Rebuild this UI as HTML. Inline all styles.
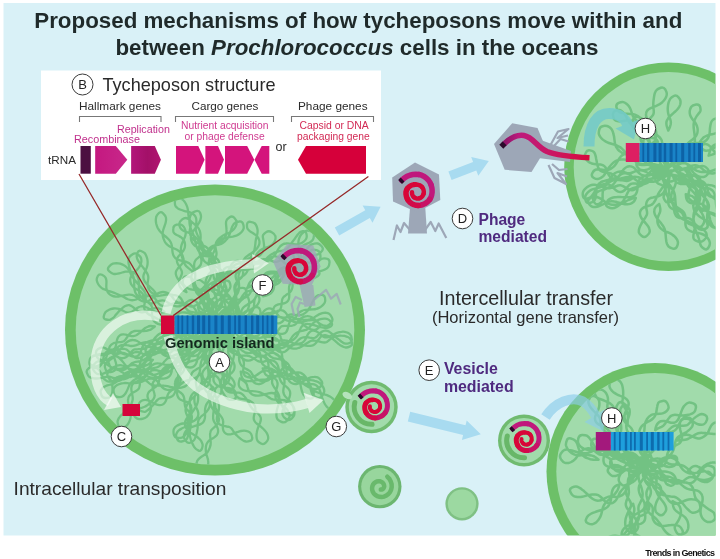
<!DOCTYPE html><html><head><meta charset="utf-8"><title>Tycheposons</title><style>html,body{margin:0;padding:0;background:#fff}svg{display:block;filter:blur(0.5px)}text{font-family:"Liberation Sans",Arial,sans-serif}</style></head><body><svg width="720" height="559" viewBox="0 0 720 559"><defs><clipPath id="panel"><rect x="3.5" y="3" width="712" height="532.5"/></clipPath><clipPath id="c1"><ellipse cx="215" cy="330" rx="139.3" ry="134.8"/></clipPath><clipPath id="c2"><circle cx="668.5" cy="166.7" r="94.8"/></clipPath><clipPath id="c3"><circle cx="655" cy="471.6" r="98.7"/></clipPath><linearGradient id="g1" x1="0" x2="1" y1="0" y2="0"><stop offset="0" stop-color="#c41880"/><stop offset="1" stop-color="#c8288a"/></linearGradient><linearGradient id="g2" x1="0" x2="1" y1="0" y2="0"><stop offset="0" stop-color="#b2167a"/><stop offset="0.55" stop-color="#a31068"/><stop offset="1" stop-color="#b01570"/></linearGradient><linearGradient id="gd" x1="0" x2="1" y1="0" y2="0"><stop offset="0" stop-color="#8a1468"/><stop offset="0.18" stop-color="#bd1a7c"/><stop offset="0.6" stop-color="#cc1560"/><stop offset="1" stop-color="#d60a3c"/></linearGradient></defs><rect width="720" height="559" fill="#fff"/><rect x="3.5" y="3" width="712" height="532.5" fill="#d9f1f7"/><g clip-path="url(#panel)"><ellipse cx="668.5" cy="166.7" rx="104.3" ry="104.3" fill="#6dc068"/><ellipse cx="668.5" cy="166.7" rx="94.8" ry="94.8" fill="#a1dbab"/><g clip-path="url(#c2)"><path d="M666.6 171Q664.6 173.6 664.1 174.9Q663.6 176.2 663.7 177.6Q663.8 178.9 664.4 180.2Q665 181.5 665.8 182.8Q666.6 184.1 667.3 185.3Q668.1 186.6 668.5 187.9Q668.9 189.2 669 190.5Q669.1 191.7 669 193.1Q668.9 194.4 668.7 195.7Q668.5 197 668.3 198.4Q668.1 199.8 668.1 201.2Q668.1 202.6 668.4 204Q668.7 205.4 669.5 206.5Q670.4 207.7 671.6 208.5Q672.9 209.3 674.5 209.8Q676 210.2 677.5 210.5Q678.9 210.8 680 211.4Q681.1 211.9 681.9 212.8Q682.7 213.8 683.3 215.2Q684 216.5 684.6 218Q685.2 219.5 686 220.8Q686.7 222 687.7 222.8Q688.6 223.7 689.8 224.2Q690.9 224.7 692.2 225.1Q693.5 225.6 695 226Q696.5 226.4 698.3 226.8Q700.1 227.3 701.6 228.2Q703.1 229 704.3 230.3Q705.5 231.5 706.2 232.9Q706.8 234.4 706.7 236Q706.7 237.7 704 240.2Q701.4 242.8 698.1 241.6Q694.9 240.4 694.2 239.5Q693.5 238.6 693.4 237.6Q693.3 236.5 693.4 235.3Q693.6 234.1 693.9 232.7Q694.2 231.2 694.5 229.5Q694.8 227.8 694.6 226.2Q694.5 224.6 693.9 223.2Q693.2 221.9 692.4 220.7Q691.5 219.6 690.3 218.9Q689.1 218.2 687.7 218Q686.2 217.9 684.6 218Q683 218.1 681.4 218.1Q679.8 218 678.4 217.5Q677.1 217 676.1 215.9Q675.2 214.7 674.7 213.2Q674.3 211.7 674.1 210.2Q673.9 208.7 673.7 207.3Q673.5 206 673.1 204.9Q672.6 203.7 672 202.7Q671.3 201.6 670.4 200.5Q669.6 199.5 668.8 198.3Q668 197.1 667.4 195.9Q666.7 194.6 666.3 193.4Q665.8 192.1 665.7 190.8Q665.5 189.4 665.7 188.1Q665.9 186.8 666.4 185.4Q667 184.1 667.7 182.7Q668.4 181.4 668.9 180.1Q669.4 178.8 669.4 177.5Q669.5 176.2 668.9 174.9Q668.4 173.6 667.5 172.3L666.6 171M666.5 169.9Q664.2 172.7 663.6 174.2Q662.9 175.6 663 177Q663 178.4 663.6 179.9Q664.1 181.3 664.6 182.8Q665.1 184.3 665.3 185.9Q665.5 187.4 665.1 189Q664.8 190.5 664 191.8Q663.1 193.2 661.9 194.2Q660.7 195.2 659.2 195.8Q657.7 196.5 656.1 196.8Q654.5 197.1 652.9 197.4Q651.3 197.6 649.9 198.3Q648.5 198.9 647.6 200.2Q646.6 201.5 646.3 203.4Q646 205.2 646.2 207.1Q646.4 209 646.8 210.6Q647.1 212.1 647.1 213.3Q647 214.5 646.4 215.7Q645.8 216.8 644.9 218.2Q644 219.5 643 221Q642 222.5 641.2 224.1Q640.3 225.7 639.7 227.2Q639.2 228.7 638.9 230.1Q638.7 231.5 639 232.8Q639.3 234.1 641.8 236.1Q644.3 238.1 646.8 235.9Q649.4 233.8 649.6 232.2Q649.9 230.6 649.4 229.1Q649 227.6 648.1 226.3Q647.2 224.9 646 223.6Q644.8 222.3 643.6 220.9Q642.3 219.5 641.4 218Q640.4 216.4 640.1 214.6Q639.7 212.9 640.3 211.3Q640.9 209.6 642.3 208.5Q643.7 207.4 645.4 206.8Q647.2 206.2 648.7 205.8Q650.3 205.5 651.4 204.8Q652.6 204.1 653.5 203Q654.4 201.8 655.2 200.4Q655.9 198.9 656.6 197.5Q657.3 196 657.9 194.7Q658.6 193.4 659.3 192.2Q660 191.1 660.8 190Q661.5 188.9 662.4 187.8Q663.3 186.7 664.4 185.5Q665.4 184.4 666.5 183Q667.6 181.7 668.4 180.2Q669.3 178.8 669.5 177.3Q669.7 175.8 669.2 174.3Q668.6 172.8 667.5 171.4L666.5 169.9M663.6 173.7Q659.8 174.3 658.2 175Q656.7 175.6 655.4 176.5Q654.2 177.5 653 178.5Q651.8 179.6 650.4 180.5Q649 181.3 647.3 181.9Q645.6 182.4 643.8 182.4Q642 182.4 640.2 182Q638.5 181.6 637 180.7Q635.5 179.8 634.2 178.6Q632.9 177.4 631.5 176.1Q630.1 174.7 628.3 173.9Q626.5 173 624.5 173.2Q622.5 173.3 620.8 174.5Q619.1 175.7 617.9 177.4Q616.8 179.2 615.9 180.9Q614.9 182.5 613.8 183.8Q612.7 185.1 611.3 186.1Q609.9 187 608.4 187.6Q606.8 188.3 605.3 189Q603.7 189.7 601.8 190.1Q599.9 190.6 598 191.6Q596.2 192.6 594.9 194.2Q593.5 195.7 593 197.7Q592.5 199.7 594.4 202.6Q596.3 205.4 599.1 203.8Q601.8 202.2 602.2 201Q602.6 199.7 602.6 198.3Q602.6 196.8 602.6 195Q602.6 193.1 602.9 191.2Q603.3 189.2 604.3 187.7Q605.2 186.2 606.3 184.8Q607.5 183.5 608.8 182.5Q610.1 181.4 611.8 180.8Q613.4 180.2 615.3 180.1Q617.2 180 619 180.1Q620.8 180.3 622.2 180.3Q623.7 180.4 625 179.9Q626.3 179.5 627.8 178.8Q629.3 178 631.2 177.4Q633.1 176.9 634.9 176.8Q636.8 176.8 638.3 177.2Q639.9 177.6 641.3 178.3Q642.7 179 644.2 179.7Q645.6 180.5 647.3 181Q649 181.5 650.9 181.7Q652.7 181.9 654.6 181.6Q656.5 181.4 658.1 180.6Q659.7 179.8 660.9 178.5Q662 177.2 662.8 175.5L663.6 173.7M663.7 171.9Q660.4 171.7 659.1 172.1Q657.7 172.5 656.7 173.3Q655.6 174.1 654.7 175.1Q653.8 176.2 652.9 177.4Q652.1 178.5 651.1 179.6Q650.1 180.7 649 181.6Q648 182.5 646.8 183.1Q645.6 183.7 644.2 184.1Q642.9 184.4 641.4 184.3Q639.9 184.3 638.4 184Q636.8 183.7 635.3 183.5Q633.8 183.3 632.5 183.5Q631.2 183.6 630.1 184.4Q629 185.1 628 186.4Q627 187.6 625.9 188.9Q624.7 190.3 623.3 191.1Q622 192 620.5 192Q619 192 617.6 191.3Q616.2 190.6 614.9 189.4Q613.7 188.3 612.6 187.2Q611.5 186.2 610.3 185.4Q609.1 184.7 607.7 184.4Q606.4 184 604.9 184.1Q603.5 184.2 602.1 184.7Q600.6 185.2 599.4 186.1Q598.1 187 597.2 188.1Q596.2 189.1 595.5 190.2Q594.7 191.3 594.2 192.3Q593.6 193.3 593.1 194.2Q592.5 195.1 591.8 196Q591.2 196.8 590.1 197.5Q589.1 198.3 586.4 198.7Q583.6 199.1 583 196.3Q582.5 193.6 583 192.1Q583.5 190.6 584.6 189.4Q585.6 188.2 586.9 187.2Q588.3 186.2 589.8 185.6Q591.4 185 593.1 184.8Q594.7 184.6 596.3 184.9Q597.9 185.1 599.3 185.7Q600.7 186.2 601.9 186.6Q603.2 187.1 604.4 187.5Q605.6 187.9 606.9 188.1Q608.2 188.3 609.6 188.2Q611 188 612.5 187.6Q614 187.1 615.4 186.5Q616.8 185.9 618 185.5Q619.3 185.2 620.5 185.3Q621.7 185.5 623 186.2Q624.3 186.9 625.8 187.9Q627.3 188.8 628.9 189.5Q630.5 190.2 632 190.2Q633.5 190.2 634.7 189.4Q635.9 188.7 636.9 187.5Q637.9 186.4 638.8 185.1Q639.7 183.8 640.7 182.7Q641.7 181.6 642.9 180.9Q644 180.2 645.3 179.8Q646.5 179.3 647.9 179.1Q649.3 178.9 650.7 178.8Q652.2 178.7 653.6 178.6Q655.1 178.6 656.6 178.3Q658 178.1 659.3 177.5Q660.5 176.9 661.4 175.9Q662.4 174.8 663 173.3L663.7 171.9M665.8 169.9Q662.4 170 661 170.3Q659.5 170.7 658.2 171.3Q657 171.9 655.7 172.6Q654.4 173.3 653.1 174Q651.7 174.6 650.2 175.1Q648.6 175.6 647 175.8Q645.3 175.9 643.7 175.6Q642.1 175.4 640.8 174.5Q639.4 173.7 638.3 172.4Q637.2 171.2 636 169.7Q634.8 168.3 633.3 167.3Q631.9 166.3 630.1 166.2Q628.3 166 626.6 167Q624.9 167.9 623.7 169.4Q622.4 171 621.5 172.5Q620.6 174 619.6 175.2Q618.6 176.4 617.4 177.2Q616.2 177.9 614.7 178.4Q613.2 178.9 611.6 179.3Q610 179.6 608.4 179.9Q606.9 180.2 605.3 180.6Q603.8 181 602.4 181.5Q601 182.1 599.8 183.1Q598.5 184.1 597.7 185.6Q596.9 187.1 596.6 189Q596.3 190.8 596.2 192.5Q596 194.2 595.9 195.7Q595.8 197.2 595.4 198.5Q595 199.9 594 201.1Q593.1 202.3 589.9 202.9Q586.7 203.6 585.7 200.7Q584.8 197.8 585.3 196.3Q585.7 194.9 586.8 193.6Q587.8 192.3 589.2 191.2Q590.7 190.1 592.4 189.4Q594.1 188.7 595.9 188.4Q597.7 188.1 599.2 187.6Q600.6 187.2 601.9 186.5Q603.2 185.8 604.4 184.9Q605.5 183.9 606.6 182.8Q607.7 181.6 608.7 180.4Q609.7 179.1 610.6 177.8Q611.6 176.6 612.6 175.4Q613.6 174.2 614.8 173.3Q616.1 172.3 617.7 171.9Q619.2 171.5 621 171.6Q622.7 171.8 624.3 172.2Q625.9 172.7 627.2 173.1Q628.4 173.4 629.7 173.2Q630.9 173.1 632.4 172.5Q633.9 171.9 635.6 171.2Q637.3 170.6 639 170.4Q640.8 170.2 642.2 170.4Q643.7 170.6 644.9 171.3Q646.2 171.9 647.5 172.7Q648.8 173.5 650.3 174.1Q651.7 174.8 653.4 175.1Q655 175.5 656.7 175.5Q658.3 175.5 659.8 175Q661.4 174.6 662.6 173.6Q663.9 172.7 664.9 171.3L665.8 169.9M662.5 169.4Q659.3 168.4 657.6 168.4Q656 168.5 654.4 169.1Q652.8 169.7 651.5 170.8Q650.1 171.9 649.1 173.2Q648 174.6 647.3 176.2Q646.6 177.7 646 179.2Q645.5 180.8 644.8 182.1Q644.1 183.5 642.9 184.5Q641.8 185.5 640.1 186.1Q638.3 186.8 636.4 187.2Q634.5 187.7 632.8 188.2Q631.2 188.7 630.1 189.5Q628.9 190.4 628.2 191.7Q627.4 193.1 626.7 194.7Q626 196.3 625.1 197.8Q624.2 199.4 623.2 200.9Q622.1 202.3 620.9 203.5Q619.7 204.7 618.3 205.7Q617 206.7 615.6 207.4Q614.2 208.1 612.5 208.3Q610.9 208.6 608.1 207.2Q605.2 205.9 606.5 203.1Q607.7 200.3 609 199.4Q610.2 198.5 611.7 198Q613.2 197.5 614.7 197.3Q616.3 197.1 617.9 197Q619.5 197 621.3 197.1Q623 197.1 624.9 197.2Q626.7 197.3 628.6 197.3Q630.6 197.2 632.3 196.6Q634.1 196.1 635.3 194.9Q636.4 193.6 636.9 191.9Q637.4 190.1 637.5 188.1Q637.5 186.2 637.7 184.3Q637.9 182.5 638.6 181Q639.3 179.5 640.5 178.4Q641.8 177.3 643.4 176.6Q644.9 175.9 646.6 175.3Q648.2 174.8 649.7 174.4Q651.2 174.1 652.7 173.7Q654.1 173.4 655.5 172.9Q656.9 172.5 658.2 171.9Q659.6 171.3 661.1 170.4L662.5 169.4M662.5 167.6Q659.9 165.9 658.5 165.3Q657 164.7 655.6 164.4Q654.1 164 652.6 163.9Q651 163.8 649.5 163.9Q647.9 163.9 646.3 164.1Q644.7 164.2 643 164.2Q641.4 164.2 639.8 163.7Q638.3 163.3 637 162.4Q635.8 161.4 634.8 160.1Q633.8 158.7 632.8 157.3Q631.7 155.9 630.2 154.9Q628.8 153.9 627 153.7Q625.2 153.6 623.5 154.5Q621.8 155.3 620.6 156.7Q619.4 158.1 618.5 159.6Q617.7 161.1 616.9 162.5Q616.2 163.8 615.2 164.9Q614.3 166.1 613.1 167.1Q612 168.1 610.6 168.8Q609.1 169.6 607.5 169.9Q605.8 170.2 604 169.9Q602.3 169.7 600.7 169.5Q599.2 169.3 597.7 169.3Q596.3 169.4 595 170Q593.6 170.6 592.3 173.3Q590.9 176.1 593.5 177.7Q596.2 179.3 597.7 179.1Q599.3 178.8 600.8 177.9Q602.2 177.1 603.5 175.8Q604.7 174.5 605.6 172.9Q606.5 171.3 607.4 169.9Q608.2 168.5 609.1 167.3Q610 166.1 611 165Q611.9 163.9 613.1 162.8Q614.2 161.8 615.6 161Q617 160.2 618.5 159.9Q620.1 159.5 621.5 159.5Q623 159.6 624.2 159.6Q625.4 159.7 626.6 159.5Q627.8 159.2 629.3 158.8Q630.9 158.3 632.6 157.9Q634.4 157.4 636.2 157.4Q637.9 157.3 639.3 157.8Q640.8 158.2 641.9 159.1Q643.1 160 644.2 161.1Q645.4 162.2 646.6 163.3Q647.8 164.3 649.2 165.2Q650.6 166 652 166.5Q653.4 167.1 654.9 167.4Q656.3 167.7 657.9 167.8Q659.4 167.9 661 167.8L662.5 167.6M666.4 169.6Q665.7 166.7 665.2 165.3Q664.7 164 664 162.8Q663.4 161.5 662.5 160.4Q661.7 159.3 660.6 158.3Q659.6 157.3 658.3 156.4Q657 155.4 655.7 154.6Q654.4 153.8 653.4 152.9Q652.3 152.1 651.7 151Q651 150 650.6 148.5Q650.2 147 649.8 145.3Q649.4 143.6 648.8 142.1Q648.3 140.5 647.5 139.5Q646.8 138.4 645.7 137.7Q644.7 137 643.5 136.3Q642.2 135.6 640.9 134.7Q639.5 133.8 638 132.7Q636.6 131.6 635.4 130.3Q634.2 129 633.4 127.7Q632.5 126.4 632 125.2Q631.6 124 631.6 122.6Q631.7 121.3 633.7 118.6Q635.8 115.9 639.1 117.1Q642.4 118.2 643.2 119.6Q644.1 121 644.2 122.5Q644.4 124.1 644.1 125.5Q643.8 127 643.2 128.5Q642.6 130 641.8 131.6Q641.1 133.2 640.7 134.9Q640.4 136.6 640.5 138.4Q640.7 140.2 641.4 141.7Q642.1 143.2 643.4 144Q644.7 144.9 646.3 145.2Q647.9 145.4 649.7 145.5Q651.5 145.6 653.2 146Q654.9 146.3 656.2 147.3Q657.5 148.3 658.1 149.8Q658.7 151.2 658.9 152.8Q659 154.4 659 156Q659 157.5 659.2 159.1Q659.4 160.6 659.9 161.9Q660.4 163.3 661.1 164.5Q661.9 165.8 663 166.8Q664 167.8 665.2 168.7L666.4 169.6M663.8 160.2Q664.2 157.2 664.2 155.8Q664.2 154.3 663.7 152.9Q663.3 151.6 662.4 150.4Q661.5 149.2 660.1 148.4Q658.7 147.5 657.1 147Q655.5 146.5 654 146.1Q652.6 145.7 651.5 144.9Q650.5 144.1 650 142.8Q649.4 141.5 649.2 139.7Q648.9 138 648.7 136.2Q648.4 134.4 647.9 133Q647.3 131.6 646.3 130.7Q645.2 129.9 643.8 129.4Q642.3 129 640.7 128.7Q639.1 128.4 637.6 128Q636.1 127.6 634.9 127Q633.6 126.4 632.6 125.6Q631.5 124.8 630.6 123.8Q629.7 122.9 628.8 121.7Q627.9 120.6 627.3 119Q626.6 117.4 625.7 115.9Q624.9 114.4 623.9 113.2Q622.9 112 621.8 111.2Q620.7 110.3 619.5 110Q618.2 109.7 615.3 110.9Q612.5 112.2 613 115.5Q613.4 118.8 614.6 119.7Q615.8 120.7 617.2 121.1Q618.5 121.4 620 121.4Q621.5 121.3 623.1 121Q624.8 120.7 626.5 120.4Q628.2 120.1 629.7 120.4Q631.2 120.7 632.5 121.2Q633.8 121.8 635 122.7Q636.1 123.5 636.9 124.7Q637.7 125.9 638.3 127.3Q638.8 128.8 639.2 130.3Q639.6 131.9 640.2 133.3Q640.8 134.7 641.7 135.7Q642.7 136.7 644.2 137.1Q645.7 137.6 647.5 137.6Q649.3 137.6 651.1 137.7Q652.9 137.7 654.3 138.3Q655.8 138.8 656.7 139.9Q657.7 141.1 658 142.7Q658.4 144.3 658.5 146Q658.5 147.6 658.6 149.1Q658.7 150.6 659 151.9Q659.3 153.1 659.9 154.3Q660.5 155.5 661.2 156.6Q662 157.8 662.9 159L663.8 160.2M666.3 165.3Q666.5 162 666.4 160.3Q666.3 158.6 665.9 157.1Q665.4 155.5 664.6 154.1Q663.7 152.7 662.5 151.5Q661.2 150.3 659.8 149.1Q658.4 147.9 657.3 146.5Q656.1 145.1 655.7 143.5Q655.2 142 655.3 140.4Q655.5 138.7 655.9 137Q656.3 135.3 656.3 133.5Q656.3 131.7 655.6 130.1Q654.9 128.5 653.6 127.3Q652.3 126.1 650.7 125.4Q649.1 124.7 647.4 124.3Q645.8 123.8 644.1 123.4Q642.5 123.1 640.9 122.6Q639.3 122.1 637.9 121.3Q636.4 120.5 635.2 119.3Q634 118.2 633.2 116.7Q632.5 115.1 631.9 113.3Q631.4 111.4 630.7 109.6Q630 107.8 628.9 106.3Q627.8 104.8 626.4 103.7Q625 102.6 623.4 102.1Q621.8 101.6 618.7 102.8Q615.7 104.1 616.5 107.4Q617.3 110.7 618.5 111.6Q619.7 112.5 621.1 112.9Q622.5 113.3 624.2 113.5Q625.8 113.6 627.6 113.7Q629.4 113.8 631.4 114Q633.3 114.1 634.9 114.7Q636.5 115.3 637.8 116.1Q639 117 640.1 118.1Q641.2 119.3 642.2 120.5Q643.3 121.8 644.4 123Q645.5 124.3 646.5 125.6Q647.5 126.8 648.5 128Q649.4 129.1 650.4 130.1Q651.4 131.1 652.7 132.1Q653.9 133 655.4 134Q656.9 135 658.4 136.3Q659.9 137.5 660.9 138.9Q661.9 140.4 662.1 141.9Q662.4 143.4 662.1 145.1Q661.8 146.8 661.3 148.6Q660.9 150.4 660.8 152.2Q660.7 153.9 661 155.5Q661.3 157.1 662.1 158.4Q662.8 159.8 663.7 161.1Q664.6 162.5 665.5 163.9L666.3 165.3M667.6 166.2Q669.9 164.5 671 163.7Q672.1 162.9 673 162Q673.9 161.1 674.4 160Q674.9 158.8 675.1 157.4Q675.3 155.9 675.5 154.2Q675.7 152.6 676.3 151Q676.8 149.5 677.9 148.5Q679 147.5 680.6 147.3Q682.1 147 683.8 147.4Q685.5 147.8 687.1 148.4Q688.8 149 690.2 149.2Q691.7 149.4 693 149.1Q694.2 148.7 695.3 147.8Q696.4 146.9 697.3 145.6Q698.2 144.4 699 143.2Q699.9 141.9 700.7 140.8Q701.4 139.7 702.3 138.8Q703.2 137.9 704.2 137.1Q705.2 136.4 706.4 135.8Q707.5 135.2 709 134.9Q710.5 134.5 712.1 134.2Q713.7 133.9 715.3 133.4Q716.8 132.9 718.1 132.2Q719.5 131.4 720.6 130.4Q721.7 129.4 722.5 128Q723.3 126.6 723.4 125Q723.6 123.3 721.7 120.4Q719.7 117.6 716.7 118.4Q713.7 119.1 712.9 119.9Q712.1 120.6 711.6 121.5Q711.1 122.4 710.8 123.6Q710.5 124.7 710.3 126Q710.1 127.3 709.9 128.8Q709.8 130.3 709.7 132Q709.6 133.6 709.2 135.1Q708.9 136.6 708.2 137.8Q707.5 139 706.5 140Q705.5 140.9 704.3 141.6Q703.2 142.3 701.8 142.6Q700.4 143 699 143Q697.6 143.1 696.1 143Q694.7 142.9 693.4 143Q692.1 143.1 690.9 143.6Q689.8 144.1 688.8 145.3Q687.8 146.4 687 147.9Q686.2 149.4 685.5 150.8Q684.9 152.3 684.1 153.3Q683.3 154.2 682.3 154.6Q681.2 155 679.7 155.1Q678.2 155.2 676.5 155.3Q674.8 155.4 673.2 155.8Q671.7 156.3 670.6 157.2Q669.5 158.1 668.9 159.3Q668.3 160.5 668 162Q667.8 163.4 667.7 164.8L667.6 166.2M673 163.4Q676.5 162.6 678.3 162.2Q680 161.9 681.5 161Q683 160.1 684 158.6Q685 157 685.4 155.1Q685.8 153.1 685.8 151Q685.9 149 686.2 147.3Q686.5 145.5 687.3 144.1Q688.2 142.8 689.5 141.8Q690.8 140.7 692.2 139.7Q693.7 138.7 694.9 137.5Q696.1 136.2 696.8 134.6Q697.5 133 697.6 131.2Q697.8 129.4 697.4 127.7Q697 126 696.2 124.4Q695.4 122.9 694.2 121.4Q693.1 120 691.9 118.4Q690.6 116.9 690.1 114.9Q689.5 112.9 689.8 110.7Q690.1 108.6 691.3 106.8Q692.6 105 696.1 104.5Q699.6 104 700.2 107Q700.8 109.9 700.4 111Q700 112 699.2 112.9Q698.4 113.8 697.5 115.1Q696.5 116.4 695.6 118Q694.7 119.7 694.2 121.5Q693.6 123.3 693.6 124.9Q693.6 126.5 693.7 128Q693.9 129.5 694.1 131Q694.3 132.5 694.5 134.1Q694.7 135.7 694.8 137.6Q694.9 139.4 694.9 141.3Q694.8 143.2 694.4 145Q694 146.7 693 148.1Q692 149.4 690.4 150.3Q688.8 151.2 686.9 151.8Q684.9 152.4 683.2 152.8Q681.4 153.3 680 154Q678.7 154.8 677.6 156Q676.6 157.2 675.7 158.7Q674.8 160.2 673.9 161.8L673 163.4M673.9 167.1Q677.3 168.2 679.1 168.5Q680.8 168.9 682.4 168.9Q684.1 168.8 685.6 168.3Q687.1 167.7 688.7 166.9Q690.2 166.1 692 165.6Q693.8 165.1 695.7 165.3Q697.5 165.5 699 166.4Q700.5 167.2 701.8 168.4Q703.1 169.5 704.4 170.6Q705.7 171.6 707.2 172.4Q708.7 173.1 710.5 173.3Q712.2 173.5 714 173.2Q715.7 172.9 717.3 172.2Q718.9 171.4 720.2 170.3Q721.6 169.2 722.7 167.7Q723.9 166.2 725.1 164.8Q726.3 163.3 727.5 162.1Q728.8 160.9 729.9 159.8Q731.1 158.8 732.1 158Q733.1 157.2 734.1 156.6Q735.2 156 738.1 155.9Q741.1 155.7 741.5 159.3Q741.9 162.8 740.6 164.6Q739.3 166.3 737.6 167.4Q735.9 168.4 734.1 168.8Q732.3 169.3 730.5 169.3Q728.7 169.3 726.9 169.2Q725.1 169 723.2 168.8Q721.3 168.5 719.6 168.7Q717.9 168.9 716.4 169.3Q714.9 169.7 713.5 170.2Q712.1 170.7 710.5 171.1Q709 171.5 707.2 171.7Q705.5 172 703.7 172Q701.9 172 700.2 171.8Q698.5 171.5 697 170.9Q695.6 170.3 694.3 169.3Q693.1 168.3 691.7 167.1Q690.3 165.8 688.6 164.8Q686.9 163.7 685.1 163.3Q683.3 163 681.7 163.3Q680.1 163.7 678.5 164.5Q677 165.3 675.4 166.2L673.9 167.1M674.7 169.6Q677.1 172 678.2 173.1Q679.3 174.1 680.5 174.8Q681.7 175.4 683.2 175.4Q684.6 175.5 686.3 175.2Q688 175 689.7 174.9Q691.4 174.7 693 175.1Q694.5 175.5 695.7 176.5Q696.9 177.4 697.7 178.9Q698.5 180.3 699 181.9Q699.5 183.5 699.9 185Q700.3 186.5 700.6 187.9Q701 189.2 701.5 190.5Q701.9 191.8 702.5 193Q703 194.3 703.7 195.5Q704.5 196.8 705.3 198.1Q706.2 199.4 707 200.8Q707.9 202.1 708.4 203.5Q708.9 204.8 708.9 206.2Q708.9 207.6 708.5 209.1Q708.1 210.6 707.7 212.3Q707.2 214 707.2 215.8Q707.1 217.6 707.4 219.3Q707.8 221.1 708.6 222.7Q709.4 224.2 710.6 225.5Q711.7 226.7 713.3 227.4Q714.9 228.1 718.1 227.3Q721.3 226.4 721.2 223.3Q721 220.2 720.3 219.1Q719.6 218.1 718.6 217.4Q717.7 216.7 716.6 216.1Q715.4 215.6 714.1 215Q712.8 214.4 711.3 213.7Q709.8 213 708.3 212Q706.7 211.1 705.5 209.8Q704.2 208.6 703.7 207.2Q703.1 205.7 703.2 204.2Q703.3 202.7 703.7 201.2Q704.2 199.7 704.7 198.2Q705.1 196.7 705.3 195.1Q705.4 193.6 705.2 192.1Q705 190.5 704.3 189.2Q703.7 187.8 702.7 186.6Q701.7 185.4 700.4 184.6Q699.1 183.8 697.7 183.2Q696.3 182.7 695 182.2Q693.7 181.7 692.5 180.9Q691.4 180.2 690.6 179Q689.7 177.8 688.9 176.2Q688.2 174.7 687.3 173.1Q686.4 171.5 685.2 170.4Q684.1 169.3 682.6 168.9Q681.2 168.4 679.5 168.6Q677.9 168.7 676.3 169.2L674.7 169.6M669 170.7Q671.2 173.8 672.2 175.1Q673.3 176.5 674.5 177.4Q675.8 178.2 677.4 178.6Q679.1 178.9 681 179Q682.9 179 684.8 179.1Q686.6 179.2 688.2 179.7Q689.8 180.2 691.1 181.2Q692.5 182.3 693.5 183.7Q694.6 185.2 695.2 186.8Q695.9 188.5 696.2 190.2Q696.4 191.9 696.3 193.5Q696.1 195.1 695.9 196.6Q695.7 198.1 695.8 199.6Q695.8 201.1 696.3 202.7Q696.8 204.4 697.7 206.1Q698.6 207.8 699.5 209.3Q700.4 210.8 701.3 212.2Q702.1 213.6 702.8 215Q703.5 216.4 703.9 217.9Q704.3 219.4 704.3 221.1Q704.2 222.9 702.3 225.5Q700.3 228.1 697.7 226.3Q695.2 224.5 694.5 223.1Q693.8 221.6 693.6 220Q693.4 218.3 693.4 216.5Q693.5 214.7 693.9 212.9Q694.3 211.1 695.1 209.3Q695.9 207.6 696.9 206.1Q698 204.5 698.8 202.9Q699.6 201.4 699.9 199.6Q700.2 197.9 699.8 196.1Q699.5 194.4 698.7 192.8Q697.9 191.2 696.7 190Q695.6 188.8 694.3 187.9Q692.9 187 691.5 186.4Q690.2 185.7 688.8 184.9Q687.5 184.1 686.3 182.9Q685.1 181.8 684.1 180.2Q683.2 178.7 682.3 177Q681.5 175.3 680.5 173.9Q679.4 172.4 677.9 171.6Q676.4 170.7 674.6 170.5Q672.8 170.3 670.9 170.5L669 170.7M672.8 175.1Q673.7 178.8 674.7 180.4Q675.7 181.9 677.2 182.8Q678.7 183.7 680.5 183.9Q682.3 184 684.1 183.9Q686 183.7 687.8 183.7Q689.5 183.8 691.1 184.4Q692.7 185.1 693.9 186.4Q695.1 187.7 695.7 189.4Q696.4 191.1 696.5 192.9Q696.6 194.7 696.3 196.4Q695.9 198 695.3 199.6Q694.7 201.1 694.1 202.5Q693.5 203.9 693.4 205.5Q693.2 207 693.7 208.7Q694.1 210.4 695.2 212Q696.3 213.6 697.6 214.9Q698.9 216.2 700.1 217Q701.4 217.9 702.5 218.5Q703.6 219.1 704.5 219.6Q705.4 220.2 706.2 221Q706.9 221.9 707.6 224.9Q708.2 227.9 704.9 229Q701.6 230.1 699.7 229.3Q697.8 228.4 696.4 226.9Q695 225.3 694.3 223.3Q693.5 221.3 693.5 219.3Q693.5 217.3 694.1 215.5Q694.8 213.7 695.8 212.1Q696.7 210.6 697.5 209.2Q698.2 207.7 698.5 206.1Q698.7 204.5 698.5 202.8Q698.3 201.1 697.8 199.5Q697.2 197.9 696.5 196.4Q695.7 195 694.8 193.8Q693.9 192.6 692.9 191.6Q692 190.6 691 189.5Q690.1 188.5 689.2 187.3Q688.2 186 687.3 184.5Q686.4 182.9 685.4 181.3Q684.4 179.7 683.4 178.5Q682.3 177.3 681.1 176.6Q679.8 176 678.2 175.8Q676.6 175.6 674.7 175.3L672.8 175.1M669.1 173.5Q668.3 177.5 668.2 179.3Q668.1 181.1 668.5 182.6Q669 184 670 185.3Q671 186.7 672 188.2Q673 189.7 673.8 191.4Q674.5 193.1 674.8 194.8Q675.1 196.5 675.2 198Q675.3 199.6 675.4 201.2Q675.5 202.7 675.7 204.4Q675.9 206.1 676.2 207.9Q676.5 209.7 676.9 211.5Q677.4 213.3 678.2 214.8Q679 216.3 680.2 217.4Q681.5 218.5 683.2 219.4Q685 220.2 686.9 221Q688.8 221.8 690.4 222.7Q691.9 223.6 692.9 224.7Q693.8 225.9 694.5 227.4Q695.1 228.9 695.8 230.6Q696.5 232.4 697.2 234.2Q697.9 236 698.5 237.7Q699.1 239.4 699.4 240.9Q699.8 242.4 700.2 243.7Q700.5 245 701.1 246.1Q701.7 247.3 704.3 248.9Q706.8 250.4 708.5 247.5Q710.2 244.6 709.8 242.6Q709.4 240.5 708.2 238.8Q707 237 705.4 235.8Q703.7 234.6 701.9 234Q700.1 233.4 698.1 233.1Q696.2 232.8 694.3 232.4Q692.3 232 690.5 231.2Q688.7 230.4 687.4 229.1Q686.1 227.7 685.7 225.9Q685.3 224 685.4 222Q685.5 219.9 685.5 217.9Q685.5 215.8 684.8 214.2Q684.2 212.5 683 211.3Q681.8 210.1 680.3 209.2Q678.7 208.2 677.2 207.2Q675.7 206.2 674.4 204.8Q673.2 203.4 672.4 201.7Q671.6 200 671.3 198.3Q671.1 196.5 671.4 194.8Q671.6 193.1 672.4 191.4Q673.2 189.7 674.1 187.9Q675 186.1 675.5 184.1Q676 182.1 675.5 180.3Q675.1 178.5 673.8 177.1Q672.6 175.7 670.8 174.6L669.1 173.5M635.8 197.9Q632.4 198.6 631 199Q629.6 199.4 628.4 200Q627.2 200.6 625.9 201.3Q624.7 202 623.2 202.7Q621.8 203.3 620.3 203.8Q618.8 204.2 617.2 204.5Q615.6 204.8 614 204.8Q612.5 204.9 611 204.6Q609.4 204.2 608 203.5Q606.5 202.8 605 201.7Q603.5 200.5 602 199.5Q600.6 198.5 599.1 197.8Q597.6 197.1 596.1 196.7Q594.6 196.4 593 196.5Q591.5 196.7 589.2 199Q586.9 201.3 588.8 203.8Q590.8 206.4 592.3 206.8Q593.8 207.2 595.4 207Q597 206.9 598.6 206.3Q600.1 205.8 601.7 205Q603.3 204.2 604.9 203.2Q606.5 202.2 608.1 201.7Q609.7 201.2 611.2 201.2Q612.8 201.1 614.3 201.4Q615.8 201.6 617.3 202.1Q618.8 202.5 620.3 203Q621.8 203.5 623.5 203.9Q625.1 204.2 626.9 204.3Q628.6 204.4 630.3 203.9Q631.9 203.4 633.2 202.2Q634.5 201.1 635.1 199.5L635.8 197.9M632.8 178.1Q630 177.2 628.7 177.1Q627.4 177 626.1 177.2Q624.9 177.4 623.7 177.8Q622.4 178.2 621.2 178.5Q619.9 178.9 618.6 179Q617.2 179.2 615.8 179.1Q614.4 179 613.1 178.5Q611.8 178 610.7 177.2Q609.6 176.3 608.8 175.1Q608.1 173.9 607.5 172.4Q607 171 606.5 169.6Q606 168.2 605.2 167.1Q604.4 166 603.2 165.4Q602.1 164.7 600.6 164.5Q599.1 164.3 597.5 164.2Q595.8 164.2 594.2 163.9Q592.6 163.7 591.2 163.2Q589.7 162.6 588.4 161.7Q587.1 160.8 586.2 159.6Q585.3 158.3 584.9 156.8Q584.5 155.3 585.9 152.5Q587.2 149.7 590 150.4Q592.9 151.1 593.7 151.9Q594.5 152.7 594.9 153.7Q595.3 154.7 595.6 155.9Q595.9 157 596.1 158.4Q596.4 159.8 596.7 161.3Q596.9 162.9 597.3 164.5Q597.6 166.1 598.2 167.5Q598.7 168.9 599.6 169.9Q600.4 170.9 601.7 171.4Q602.9 171.9 604.3 172.2Q605.8 172.5 607.3 172.7Q608.8 172.9 610.1 173.3Q611.4 173.6 612.4 174.2Q613.5 174.7 614.5 175.5Q615.4 176.2 616.5 177Q617.5 177.8 618.7 178.5Q619.9 179.2 621.2 179.8Q622.5 180.3 623.9 180.6Q625.3 180.9 626.6 180.9Q627.9 180.8 629.2 180.3Q630.4 179.8 631.6 179L632.8 178.1M626.4 154.4Q624.8 151.8 623.9 150.6Q622.9 149.5 621.9 148.6Q620.8 147.7 619.5 146.9Q618.3 146.2 617 145.5Q615.6 144.8 614 144.4Q612.3 144.1 610.6 143.5Q608.9 143 607.4 142.3Q605.8 141.6 604.5 140.7Q603.1 139.8 602 138.8Q600.9 137.8 600.1 136.6Q599.3 135.5 598.9 134.1Q598.5 132.7 599.3 129.4Q600.1 126.2 603.6 125.9Q607.2 125.7 608.6 126.6Q610.1 127.4 611 128.6Q611.9 129.8 612.5 131.1Q613.1 132.4 613.4 133.9Q613.8 135.3 614.1 136.8Q614.3 138.4 614.5 140.1Q614.7 141.8 615 143.5Q615.3 145.2 616 146.6Q616.7 147.9 617.6 149.1Q618.6 150.3 619.7 151.2Q620.8 152.2 622.1 152.9Q623.4 153.6 624.9 154L626.4 154.4M651.5 135.3Q651.9 132.2 651.8 130.7Q651.8 129.2 651.5 127.8Q651.3 126.4 650.7 125.2Q650.2 123.9 649.4 122.6Q648.7 121.3 647.8 119.9Q646.9 118.5 646.4 116.8Q645.8 115.1 646.1 113.4Q646.3 111.7 647.4 110.4Q648.5 109.1 650.2 108.3Q651.9 107.5 653.6 106.9Q655.3 106.3 656.8 105.6Q658.3 104.9 659.7 104.1Q661.1 103.2 662.3 102.2Q663.5 101.1 664.5 99.8Q665.5 98.5 666.1 97.1Q666.7 95.6 666.8 94Q666.9 92.3 665.3 89.5Q663.6 86.7 660.7 87.7Q657.7 88.8 656.8 89.8Q655.8 90.8 655.3 92Q654.8 93.1 654.5 94.4Q654.2 95.7 654 97.1Q653.8 98.5 653.6 100Q653.4 101.6 653.3 103.3Q653.3 105 653.4 106.7Q653.5 108.5 653.7 110.1Q653.9 111.8 653.7 113Q653.5 114.3 652.8 115.3Q652.1 116.3 651 117.4Q650 118.6 649 120Q648 121.4 647.5 123Q647 124.6 647.1 126.1Q647.2 127.6 647.7 128.9Q648.2 130.3 649 131.5Q649.8 132.8 650.7 134L651.5 135.3M668.3 130.5Q669.5 128 670 126.7Q670.4 125.5 670.7 124.2Q670.9 122.9 670.8 121.7Q670.7 120.4 670.2 119.1Q669.7 117.8 669.1 116.4Q668.5 115 668.2 113.5Q667.9 112 667.8 110.5Q667.7 109 667.8 107.5Q667.9 106 668.1 104.7Q668.4 103.3 668.7 102.2Q669.1 101 669.6 100Q670 99 670.7 98.2Q671.4 97.4 673.8 96Q676.2 94.7 678.3 97.1Q680.4 99.4 680.5 101.1Q680.6 102.8 680.3 104.2Q679.9 105.7 679.2 106.9Q678.5 108 677.7 109Q676.9 110 675.9 110.9Q675 111.8 674 112.6Q673 113.5 671.9 114.5Q670.8 115.4 669.7 116.5Q668.6 117.6 667.8 118.9Q666.9 120.1 666.6 121.4Q666.3 122.7 666.4 124Q666.5 125.3 666.9 126.6Q667.3 127.9 667.8 129.2L668.3 130.5M687 148.8Q689.8 148.6 691.1 148.6Q692.4 148.7 693.6 148.6Q694.7 148.6 695.8 148.2Q696.9 147.7 698.1 147Q699.3 146.2 700.8 145.4Q702.2 144.7 703.7 144.3Q705.2 143.9 706.5 144.2Q707.8 144.5 708.9 145.4Q710 146.3 711.1 147.5Q712.1 148.7 713.1 150.1Q714.2 151.5 715.4 152.6Q716.7 153.8 718.1 154.7Q719.5 155.5 721 156Q722.6 156.4 724.1 156.4Q725.6 156.3 727 155.6Q728.4 154.9 729.8 151.6Q731.2 148.3 728.9 145.8Q726.6 143.3 725.4 143Q724.3 142.7 723.2 142.9Q722.2 143.1 721.1 143.7Q720 144.2 718.8 144.9Q717.6 145.6 716.3 146.5Q714.9 147.4 713.4 148.3Q711.9 149.2 710.4 149.8Q708.9 150.4 707.5 150.6Q706.1 150.9 704.9 150.5Q703.7 150.1 702.7 149.2Q701.6 148.3 700.5 147.1Q699.4 145.9 698 144.9Q696.6 144 695.1 143.7Q693.6 143.5 692.2 143.9Q690.8 144.4 689.7 145.4Q688.6 146.4 687.8 147.6L687 148.8M708.6 155.6Q711.9 154.9 713.5 154.2Q715.1 153.5 716.3 152.5Q717.4 151.4 718 149.9Q718.6 148.4 718.6 146.6Q718.6 144.8 718.6 143Q718.7 141.3 718.8 139.6Q719 138 719.2 136.5Q719.4 135 719.6 133.6Q719.8 132.1 720.1 130.8Q720.3 129.5 720.7 128.3Q721.1 127.1 721.8 125.9Q722.5 124.7 724.9 123.2Q727.3 121.6 728.9 124.2Q730.5 126.7 730.5 128.3Q730.5 130 730 131.6Q729.5 133.2 728.7 134.6Q727.8 136.1 726.8 137.3Q725.7 138.5 724.4 139.6Q723.2 140.6 721.8 141.5Q720.4 142.4 718.8 143.1Q717.2 143.8 715.6 144.4Q713.9 145 712.8 145.9Q711.6 146.8 711 148Q710.3 149.3 710 150.8Q709.6 152.4 709.1 154L708.6 155.6M694.1 181.7Q696.2 184.2 697.3 185.3Q698.3 186.4 699.5 187Q700.6 187.6 701.9 187.8Q703.3 187.9 704.8 187.9Q706.4 188 708 188.3Q709.6 188.6 710.9 189.4Q712.3 190.1 713.2 191.4Q714 192.6 714.5 194Q715 195.4 715.3 196.9Q715.6 198.4 715.7 199.9Q715.9 201.5 716 203.2Q716.1 204.8 716.4 206.3Q716.8 207.9 717.2 209.3Q717.7 210.8 718.3 212Q718.9 213.3 719.7 214.4Q720.4 215.5 721.5 216.3Q722.6 217.2 725.6 217.6Q728.6 218 729.4 215.1Q730.3 212.1 729.9 210.6Q729.4 209.1 728.6 207.9Q727.7 206.7 726.7 205.8Q725.6 204.8 724.4 204Q723.2 203.2 721.8 202.5Q720.5 201.8 719 201.1Q717.6 200.4 716.2 199.7Q714.8 198.9 713.6 198Q712.3 197.1 711.3 196.2Q710.2 195.3 709.5 194.2Q708.7 193.2 708.2 191.8Q707.8 190.5 707.3 188.9Q706.9 187.3 706.2 185.6Q705.5 184 704.4 182.8Q703.3 181.6 701.8 181.1Q700.4 180.6 698.8 180.7Q697.3 180.8 695.7 181.3L694.1 181.7M685.8 194.2Q686 197.8 686.7 199.4Q687.4 201 688.7 201.9Q690 202.9 691.7 203.2Q693.4 203.4 695.2 203.4Q696.9 203.3 698.6 203.4Q700.2 203.5 701.6 204Q703 204.5 704.2 205.5Q705.3 206.5 706.2 207.8Q707.1 209 707.9 210.4Q708.6 211.8 708.9 213.5Q709.2 215.2 709.5 216.8Q709.9 218.4 710.2 219.8Q710.6 221.3 711.1 222.6Q711.7 224 712.4 225.1Q713.1 226.3 714.1 227.2Q715.1 228.1 718.1 228.7Q721 229.3 722 226.3Q723 223.3 722.5 221.7Q722 220.2 721 218.9Q720.1 217.7 718.9 216.7Q717.7 215.7 716.3 214.9Q714.9 214.1 713.3 213.5Q711.7 212.9 710.1 212.4Q708.4 212 707 211.4Q705.6 210.8 704.3 210.2Q703 209.6 701.8 208.9Q700.7 208.1 699.7 207.1Q698.7 206 697.8 204.6Q697 203.1 696.3 201.6Q695.6 200 694.8 198.7Q694.1 197.5 693 196.7Q692 195.9 690.6 195.6Q689.2 195.2 687.5 194.7L685.8 194.2M659.2 204Q656.3 206.1 655.4 207.4Q654.4 208.7 654.3 210.4Q654.1 212 654.6 213.7Q655.1 215.4 656.1 216.8Q657 218.3 658 219.6Q659 220.8 660 221.9Q660.9 223 661.7 224.1Q662.6 225.2 663.3 226.4Q664 227.6 664.6 229Q665.1 230.5 665.3 232.2Q665.6 233.9 665.7 235.5Q665.8 237.2 666 238.8Q666.2 240.3 666.4 241.7Q666.7 243.1 667.2 244.3Q667.8 245.6 668.7 246.7Q669.7 247.8 672.8 248.6Q675.8 249.4 677 246.5Q678.2 243.6 677.9 242.1Q677.6 240.6 676.8 239.2Q675.9 237.9 674.8 236.7Q673.6 235.5 672.2 234.6Q670.8 233.6 669.2 232.9Q667.6 232.2 666 231.7Q664.4 231.1 663.1 230.2Q661.8 229.4 660.7 228.3Q659.6 227.2 658.8 225.8Q658 224.5 657.6 222.9Q657.3 221.4 657.4 219.8Q657.5 218.3 658 216.9Q658.5 215.4 659.1 214.2Q659.8 213 660.1 211.7Q660.4 210.4 660.3 208.9Q660.1 207.4 659.7 205.7L659.2 204M658 177.5Q657.6 174.6 657.4 173.2Q657.1 171.9 656.7 170.6Q656.2 169.3 655.3 168.2Q654.4 167 653.1 166.2Q651.8 165.4 650.2 165Q648.5 164.7 647 164.8Q645.5 164.8 644.1 164.9Q642.8 165 641.6 165Q640.3 164.9 639.1 164.6Q637.8 164.2 636.6 163.2Q635.4 162.2 634.7 159Q634.1 155.8 636.7 154.6Q639.3 153.5 640.6 153.7Q641.8 153.8 643.1 154.4Q644.4 155 645.6 156Q646.9 157 648 158.3Q649.1 159.7 649.7 161.2Q650.4 162.8 650.7 164.4Q651 166 651.3 167.3Q651.7 168.6 652.2 169.8Q652.7 171 653.4 172.2Q654.1 173.3 655 174.4Q655.9 175.5 657 176.5L658 177.5M655.4 174.9Q655.2 178.3 655.6 179.8Q655.9 181.3 656.9 182.5Q657.9 183.6 659.4 184.2Q660.8 184.8 662.3 185.2Q663.9 185.5 665.5 185.8Q667.1 186.2 668.7 186.8Q670.2 187.5 671.6 188.7Q672.9 189.9 673.7 191.7Q674.5 193.5 674.6 195.5Q674.7 197.5 673.8 199.3Q672.9 201.1 669.8 202.1Q666.6 203.2 665.2 200.8Q663.7 198.4 663.6 197.6Q663.5 196.8 663.8 196.1Q664 195.4 664.3 194.5Q664.7 193.6 664.9 192.3Q665.1 191.1 665.1 189.5Q665.1 188 664.9 186.3Q664.7 184.7 664.2 183.1Q663.8 181.6 663.3 180.4Q662.7 179.1 661.9 178.3Q661.1 177.4 659.8 176.8Q658.5 176.2 656.9 175.5L655.4 174.9M662.4 178.2Q665.1 180 666.5 180.7Q667.9 181.4 669.2 181.6Q670.6 181.7 672 181.3Q673.4 180.9 674.8 180Q676.2 179.2 677.7 178.4Q679.2 177.6 680.7 177.4Q682.3 177.1 683.7 177.6Q685.2 178.1 686.4 179.2Q687.6 180.4 688.4 181.8Q689.2 183.3 689.5 184.9Q689.7 186.6 689.6 188.2Q689.4 189.8 689.1 191.1Q688.8 192.4 688.6 193.6Q688.4 194.8 688.4 195.9Q688.4 197.1 688.9 198.3Q689.5 199.6 692.2 201.3Q694.9 203 697 200.7Q699.1 198.5 699.3 197Q699.5 195.5 699.1 193.9Q698.7 192.4 697.9 190.8Q697.1 189.3 695.8 188.1Q694.5 186.8 693 186Q691.4 185.2 689.9 184.7Q688.4 184.3 687 184Q685.7 183.7 684.5 183.5Q683.2 183.3 682.1 182.8Q681 182.4 679.9 181.5Q678.7 180.5 677.5 179.4Q676.2 178.2 674.9 177.1Q673.6 176.1 672.2 175.5Q670.8 175 669.4 175.1Q668 175.2 666.6 175.9Q665.2 176.5 663.8 177.4L662.4 178.2M678.1 179.4Q680.9 180.9 682.3 181.5Q683.7 182.1 684.9 182.4Q686.2 182.6 687.4 182.4Q688.7 182.1 690.1 181.6Q691.5 181.1 693.2 180.9Q694.8 180.7 696.4 181.3Q698 181.8 699.1 183.2Q700.1 184.5 700.4 186.2Q700.6 187.9 700.3 189.6Q700.1 191.2 699.5 192.8Q698.9 194.3 698.2 195.8Q697.5 197.3 697.1 198.9Q696.6 200.4 696.5 201.9Q696.4 203.4 696.6 204.9Q696.9 206.3 697.6 207.6Q698.3 208.8 701.1 210.1Q703.8 211.5 705.7 208.9Q707.6 206.4 707.7 205Q707.7 203.5 707.2 202.3Q706.8 201.1 706 199.9Q705.3 198.7 704.3 197.5Q703.3 196.3 702.2 195.1Q701 193.9 699.9 192.7Q698.8 191.6 697.8 190.6Q696.8 189.5 696 188.7Q695.2 187.8 694.7 186.9Q694.2 185.9 693.8 184.6Q693.3 183.3 692.6 181.7Q691.9 180.1 690.7 178.7Q689.5 177.4 688 176.7Q686.5 176 685 176.1Q683.5 176.2 682.1 176.9Q680.7 177.6 679.4 178.5L678.1 179.4M660.6 174.4Q658.9 171.9 658.1 170.8Q657.4 169.7 656.6 168.7Q655.9 167.7 655 166.7Q654.1 165.7 653.1 164.8Q652.1 163.8 650.9 162.8Q649.8 161.8 648.6 160.8Q647.5 159.8 646.7 158.6Q645.8 157.4 645.5 156Q645.3 154.5 645.6 152.9Q646 151.3 646.9 149.7Q647.7 148.2 648.7 146.9Q649.7 145.7 650.7 144.8Q651.7 143.9 652.6 143.2Q653.4 142.6 654.1 141.9Q654.7 141.3 655.2 140.3Q655.6 139.4 655.3 136.4Q655 133.4 651.8 133.1Q648.6 132.8 647.1 133.8Q645.6 134.8 644.7 136.5Q643.8 138.1 643.5 139.9Q643.1 141.8 643.5 143.6Q643.8 145.4 644.7 146.9Q645.5 148.4 646.7 149.6Q647.9 150.8 649 151.8Q650 152.9 650.7 154.1Q651.3 155.2 651.5 156.6Q651.7 158 651.6 159.5Q651.6 161 651.6 162.5Q651.6 164.1 651.8 165.6Q652.1 167 652.6 168.4Q653.2 169.8 654.2 170.9Q655.2 172.1 656.4 172.9Q657.7 173.7 659.1 174L660.6 174.4M667 172.2Q666.1 169.5 665.2 168.3Q664.2 167.1 662.9 166.3Q661.6 165.5 660.1 165.2Q658.7 164.9 657.1 165.1Q655.6 165.4 654.2 166.2Q652.7 166.9 651.3 167.7Q649.9 168.5 648.5 169.1Q647.1 169.6 645.7 169.9Q644.3 170.3 642.9 170.2Q641.5 170.2 640.2 169.7Q639 169.2 637.2 166.7Q635.5 164.2 637.6 161.9Q639.8 159.7 641.2 159.4Q642.6 159.1 643.9 159.3Q645.2 159.6 646.5 160.1Q647.8 160.7 649.1 161.5Q650.4 162.2 651.7 163.2Q653 164.3 654.2 165.3Q655.4 166.4 656.6 167.1Q657.8 167.9 658.9 168.4Q660 168.9 661.1 169.3Q662.2 169.6 663.4 170.1Q664.6 170.6 665.8 171.4L667 172.2M666.4 174.9Q669 173.3 670.2 172.6Q671.5 171.9 672.5 171.2Q673.6 170.4 674.3 169.6Q675.1 168.7 675.9 167.5Q676.6 166.3 677.8 165.1Q678.9 163.9 680.5 163.2Q682.1 162.5 683.8 162.7Q685.5 163 686.8 163.9Q688.1 164.9 689.1 166.3Q690.1 167.6 691 169.1Q691.8 170.5 692.9 171.9Q693.9 173.2 695.2 174.3Q696.5 175.4 698 176.1Q699.5 176.8 701.2 177Q702.8 177.2 704.4 176.8Q705.9 176.4 707.8 173.9Q709.8 171.4 707.7 169Q705.7 166.7 704.5 166.4Q703.3 166 702.2 166.1Q701 166.2 699.8 166.5Q698.6 166.8 697.2 167.2Q695.9 167.6 694.3 168.1Q692.7 168.5 691 168.9Q689.4 169.2 687.8 169.4Q686.3 169.7 685 169.7Q683.8 169.7 682.7 169.2Q681.7 168.7 680.6 167.8Q679.4 167 677.8 166.2Q676.3 165.4 674.5 165.3Q672.7 165.1 671.1 165.8Q669.6 166.5 668.7 167.7Q667.8 169 667.4 170.4Q666.9 171.9 666.6 173.4L666.4 174.9M677.8 172.5Q680.8 173.1 682.1 173.7Q683.3 174.3 684.3 174.8Q685.3 175.2 686.4 175.4Q687.5 175.5 689 175.4Q690.5 175.4 692.2 175.4Q693.9 175.5 695.5 175.9Q697 176.3 698.1 177.1Q699.3 177.9 700 179.1Q700.7 180.4 701.2 181.8Q701.8 183.3 702.3 184.8Q702.9 186.4 703.5 188Q704.1 189.5 704.9 190.9Q705.6 192.3 706.5 193.5Q707.4 194.6 708.6 195.5Q709.7 196.4 711.2 196.8Q712.6 197.2 715.6 196.1Q718.6 194.9 718.1 191.9Q717.6 189 716.7 188Q715.7 187 714.5 186.4Q713.3 185.8 711.9 185.4Q710.6 185 709 184.9Q707.5 184.7 705.8 184.7Q704.2 184.6 702.5 184.6Q700.8 184.5 699.2 184.2Q697.6 184 696.2 183.4Q694.8 182.8 693.9 181.8Q693 180.8 692.5 179.3Q691.9 177.9 691.5 176.2Q691.1 174.5 690.2 172.9Q689.4 171.4 688 170.4Q686.6 169.4 684.9 169.3Q683.2 169.1 681.6 169.8Q680.1 170.5 679 171.5L677.8 172.5" fill="none" stroke="#72c283" stroke-width="2.5" stroke-linecap="round"/></g><ellipse cx="655" cy="471.6" rx="108.5" ry="108.5" fill="#6dc068"/><ellipse cx="655" cy="471.6" rx="98.7" ry="98.7" fill="#a1dbab"/><g clip-path="url(#c3)"><path d="M646 473.2Q645.2 476.7 645 478.1Q644.8 479.6 645.1 480.7Q645.5 481.8 646.3 482.9Q647.2 484 648.2 485.2Q649.2 486.5 649.9 487.9Q650.6 489.4 650.8 490.8Q651 492.3 650.7 493.7Q650.4 495 649.8 496.4Q649.3 497.7 648.6 499Q647.9 500.3 647.2 501.6Q646.6 503 646 504.3Q645.4 505.6 645 506.9Q644.6 508.2 644.6 509.5Q644.5 510.8 644.8 512.3Q645 513.8 645.2 515.5Q645.3 517.1 645.1 518.8Q644.8 520.5 643.8 521.8Q642.8 523 641.2 523.6Q639.7 524.2 637.9 524.2Q636.1 524.3 634.3 524.3Q632.5 524.3 630.8 524.7Q629 525.1 627.5 525.9Q625.9 526.7 624.6 527.9Q623.3 529.2 622.5 530.7Q621.7 532.3 621.6 534Q621.5 535.8 623.6 538.6Q625.7 541.4 628.9 540.4Q632 539.3 632.8 538.5Q633.6 537.6 633.9 536.6Q634.2 535.6 634.4 534.5Q634.5 533.3 634.6 531.9Q634.7 530.5 634.9 528.9Q635.1 527.3 635.4 525.5Q635.6 523.7 636 522Q636.4 520.3 636.9 519Q637.5 517.8 638.5 517.1Q639.4 516.3 640.8 515.9Q642.3 515.4 643.8 514.6Q645.4 513.9 646.7 512.8Q647.9 511.7 648.5 510.3Q649.2 508.9 649.2 507.5Q649.3 506 648.9 504.6Q648.6 503.2 648.2 501.7Q647.7 500.3 647.3 498.9Q646.9 497.4 646.6 496Q646.4 494.5 646.4 493.1Q646.5 491.8 647 490.5Q647.5 489.2 648.4 487.8Q649.3 486.5 650.3 485Q651.3 483.5 651.8 481.8Q652.3 480.1 652 478.5Q651.6 477 650.4 475.8Q649.3 474.7 647.6 473.9L646 473.2M643.5 469.9Q642.9 473.9 643.1 475.7Q643.3 477.5 644.2 479.1Q645.2 480.6 646.8 481.8Q648.4 482.9 650.2 483.8Q652 484.6 653.7 485.4Q655.3 486.1 656.8 487Q658.3 487.8 659.6 488.9Q661 489.9 662.2 491.1Q663.4 492.4 664.4 493.8Q665.4 495.3 666.4 496.9Q667.3 498.5 668.5 500.1Q669.7 501.6 671.3 502.6Q672.9 503.6 674.8 503.7Q676.8 503.9 678.8 503.3Q680.8 502.7 682.7 501.7Q684.7 500.7 686.7 500Q688.6 499.4 690.7 499.2Q692.8 499.1 694.7 499.6Q696.7 500.1 698.3 501.4Q699.8 502.6 700.3 506.5Q700.8 510.3 697.4 511.7Q694 513.1 692.5 512.7Q691.1 512.3 690 511.4Q688.8 510.5 687.6 509.2Q686.5 508 685.1 506.5Q683.8 504.9 682.4 503.3Q681 501.6 679.7 500.2Q678.3 498.9 677 498Q675.6 497.1 674.1 496.8Q672.5 496.5 670.7 496.4Q668.9 496.2 667 495.9Q665.1 495.7 663.4 495.1Q661.7 494.5 660.2 493.6Q658.7 492.7 657.4 491.6Q656.1 490.5 654.9 489.1Q653.8 487.7 653 486.1Q652.2 484.5 651.8 482.7Q651.3 481 651 479.3Q650.7 477.6 650.1 476.2Q649.5 474.7 648.2 473.4Q646.9 472.1 645.2 471L643.5 469.9M642.7 468.8Q640.3 471.4 639.6 472.7Q638.8 474 638.6 475.4Q638.4 476.9 638.7 478.4Q638.9 480 639.4 481.6Q639.9 483.2 640.4 484.7Q641 486.2 641.4 487.6Q641.8 489 642.1 490.3Q642.4 491.7 642.6 493.1Q642.7 494.6 642.5 496.1Q642.3 497.6 641.8 499.2Q641.2 500.8 640.5 502.1Q639.8 503.5 639.2 504.7Q638.6 505.8 638.5 507.1Q638.3 508.3 638.5 509.9Q638.7 511.5 638.9 513.3Q639.1 515 639 516.7Q638.9 518.4 638.4 519.7Q637.8 521 636.8 522.1Q635.8 523.1 634.5 524.1Q633.1 525.1 631.8 526.1Q630.5 527.1 629.4 528.1Q628.4 529.2 627.5 530.2Q626.5 531.2 625.7 532.3Q624.9 533.3 624 534.4Q623.1 535.5 622.2 536.8Q621.3 538.1 620.3 539.6Q619.2 541.1 618.2 542.3Q617.1 543.6 616.1 544.6Q615.1 545.6 614.2 546.4Q613.3 547.2 612.2 547.6Q611.1 548.1 608.1 547.7Q605.2 547.3 605.1 544Q605 540.7 606.2 539.3Q607.4 537.9 608.9 537.1Q610.5 536.3 612.2 536Q613.8 535.7 615.4 535.8Q617.1 535.9 618.8 536.2Q620.5 536.6 622.1 536.5Q623.8 536.5 625.4 535.9Q626.9 535.4 628.2 534.4Q629.4 533.4 630.3 532.1Q631.1 530.7 631.5 529.2Q631.8 527.7 631.8 526.1Q631.8 524.4 631.7 522.7Q631.6 521 631.8 519.4Q632.1 517.8 632.9 516.6Q633.8 515.3 635.2 514.5Q636.7 513.6 638.4 512.9Q640.1 512.2 641.6 511.1Q643.1 510.1 643.9 508.6Q644.8 507 644.7 505.3Q644.7 503.6 644.1 502.1Q643.4 500.5 642.6 499.1Q641.7 497.8 640.9 496.5Q640.1 495.1 639.6 493.7Q639.1 492.3 638.9 490.8Q638.6 489.2 638.8 487.7Q639 486.1 639.6 484.7Q640.2 483.3 641.1 481.9Q642 480.6 642.9 479.3Q643.7 478.1 644.2 476.6Q644.6 475.2 644.4 473.6Q644.2 472 643.4 470.4L642.7 468.8M638.4 473.6Q634.9 474.2 633.5 475Q632.1 475.7 631.1 476.9Q630.2 478.1 629.5 479.6Q628.9 481.2 628.4 482.7Q627.9 484.3 627.5 485.9Q627.1 487.4 626.5 488.9Q626 490.3 625.3 491.6Q624.5 493 623.4 494.1Q622.3 495.2 620.7 495.9Q619.2 496.6 617.5 496.8Q615.7 497 614.1 496.8Q612.4 496.6 611.1 496.4Q609.8 496.3 608.7 496.6Q607.5 496.9 606.2 497.7Q604.8 498.5 603.2 499.3Q601.6 500.1 599.9 500.4Q598.2 500.8 596.6 500.5Q595.1 500.3 593.8 499.5Q592.5 498.7 591.2 497.7Q590 496.7 588.7 495.5Q587.5 494.4 586.3 493.2Q585 491.9 583.8 490.8Q582.5 489.8 581.3 488.9Q580 488 578.7 487.4Q577.4 486.8 576 486.6Q574.6 486.4 571.8 487.7Q569.1 489 570.3 491.8Q571.5 494.7 572.9 495.5Q574.2 496.4 575.8 496.7Q577.4 497.1 579 497.1Q580.6 497 582.2 496.7Q583.9 496.4 585.6 495.9Q587.2 495.4 588.9 495.1Q590.5 494.7 592.2 494.5Q593.8 494.4 595.4 494.5Q596.9 494.6 598.2 495.2Q599.6 495.9 600.8 497Q602 498.2 603.3 499.6Q604.6 501 606.2 502.1Q607.9 503.1 609.7 503.3Q611.6 503.4 613.2 502.6Q614.8 501.7 615.9 500.3Q617 498.8 617.7 497.3Q618.4 495.7 619 494.4Q619.7 493 620.5 491.8Q621.3 490.6 622.3 489.5Q623.3 488.4 624.5 487.4Q625.7 486.4 627 485.5Q628.3 484.6 629.7 483.8Q631.1 483.1 632.4 482.3Q633.7 481.6 634.8 480.6Q635.9 479.7 636.7 478.4Q637.5 477 637.9 475.3L638.4 473.6M635.1 473.6Q632.2 474.2 631 475Q629.8 475.8 629.1 477.1Q628.4 478.3 628.1 479.8Q627.9 481.2 627.9 482.7Q628 484.2 628.2 485.5Q628.4 486.9 628.6 488.1Q628.7 489.4 628.8 490.7Q628.9 491.9 628.8 493.1Q628.7 494.4 628.3 495.7Q627.9 497 627.4 498.4Q626.9 499.7 626.4 501Q626 502.4 625.8 503.7Q625.7 505 626.1 506.2Q626.5 507.5 627.4 508.7Q628.3 509.9 629.4 511.1Q630.4 512.3 631.4 513.5Q632.4 514.6 633.3 515.7Q634.2 516.8 634.9 517.9Q635.7 519 636.3 520.1Q637 521.1 637.4 522.3Q637.9 523.4 638.1 524.7Q638.3 526 638.1 527.4Q637.9 528.9 635.8 531.3Q633.8 533.8 631 532.5Q628.2 531.3 627.4 530.2Q626.5 529.2 626.1 527.9Q625.6 526.7 625.4 525.4Q625.2 524 625.2 522.6Q625.3 521.2 625.5 519.7Q625.7 518.3 626.2 516.8Q626.7 515.4 627.3 514Q627.9 512.6 628.7 511.2Q629.5 509.8 630.1 508.5Q630.8 507.1 631 505.8Q631.1 504.5 630.8 503.2Q630.4 502 629.7 500.7Q629 499.5 628.2 498.3Q627.5 497.1 626.9 495.8Q626.3 494.5 626.1 493.2Q625.8 491.9 625.9 490.5Q626 489.2 626.4 487.9Q626.8 486.6 627.5 485.4Q628.2 484.2 629 483.2Q629.9 482.2 630.8 481.4Q631.6 480.5 632.3 479.6Q633.1 478.7 633.6 477.6Q634.2 476.4 634.6 475L635.1 473.6M641.2 468Q638.1 467.1 636.7 466.9Q635.3 466.7 633.9 467Q632.6 467.2 631.2 467.7Q629.8 468.2 628.4 468.9Q627 469.5 625.5 470.1Q624.1 470.8 622.6 471.2Q621.2 471.7 619.6 471.7Q618.1 471.7 616.6 471Q615.1 470.3 614 468.9Q612.9 467.5 612.3 465.8Q611.8 464 611.6 462.5Q611.3 461 610.8 459.9Q610.3 458.9 609.1 458.1Q608 457.3 606.3 456.6Q604.7 455.8 603.1 455.1Q601.5 454.3 600.1 453.5Q598.7 452.8 597.4 452Q596.1 451.2 595 450.4Q593.8 449.6 592.9 448.5Q592 447.4 591.4 446Q590.9 444.5 591.7 441.4Q592.5 438.3 595.5 438.7Q598.5 439 599.6 439.9Q600.8 440.7 601.6 442Q602.4 443.2 603 444.7Q603.6 446.1 603.9 447.7Q604.3 449.4 604.3 451.1Q604.4 452.8 604.1 454.5Q603.9 456.3 603.6 458.1Q603.3 459.9 603.6 461.6Q603.8 463.4 604.9 464.6Q606.1 465.9 607.8 466.5Q609.5 467.1 611.3 467.1Q613.1 467 614.6 466.9Q616.1 466.7 617.4 466.7Q618.7 466.8 620 467.1Q621.3 467.5 622.7 468Q624.1 468.5 625.5 469.1Q627 469.6 628.4 470.1Q629.9 470.6 631.4 471Q632.9 471.3 634.4 471.3Q635.9 471.3 637.3 470.8Q638.8 470.3 640 469.1L641.2 468M634.1 466.3Q632.2 463.7 631.1 462.7Q630.1 461.7 628.9 460.9Q627.8 460.2 626.4 459.6Q625.1 459 623.6 458.6Q622 458.1 620.4 457.9Q618.9 457.6 617.3 457.5Q615.8 457.3 614.5 457Q613.1 456.7 612 455.9Q610.8 455.2 609.8 453.9Q608.7 452.6 607.5 451.2Q606.3 449.7 605 448.6Q603.7 447.5 602.2 447.2Q600.7 446.8 599.1 447.3Q597.5 447.8 596 448.7Q594.4 449.7 592.9 450.6Q591.4 451.6 590.1 452.2Q588.7 452.8 587.4 453Q586 453.2 584.6 453.2Q583.2 453.2 581.7 453.1Q580.2 453 578.4 452.5Q576.7 452 575 451.5Q573.2 451 571.7 450.5Q570.2 450.1 568.8 449.9Q567.5 449.6 566.4 449.6Q565.2 449.6 564.1 450.1Q562.9 450.6 560.9 453.5Q559 456.3 561.1 459.4Q563.3 462.4 565 462.9Q566.8 463.3 568.5 462.9Q570.3 462.6 571.8 461.7Q573.4 460.8 574.6 459.6Q575.9 458.4 576.9 456.8Q577.9 455.3 578.9 453.8Q579.9 452.3 581.2 451.3Q582.4 450.3 583.8 449.5Q585.2 448.7 586.8 448.4Q588.3 448 589.8 448.4Q591.4 448.8 592.8 449.7Q594.3 450.7 595.6 451.8Q596.9 453 598.2 453.8Q599.6 454.6 601 454.7Q602.4 454.8 603.9 454.2Q605.5 453.6 607.2 452.8Q608.8 451.9 610.6 451.4Q612.3 450.9 613.9 451.1Q615.6 451.3 616.9 452.1Q618.2 453 619.2 454.3Q620.2 455.5 621.1 456.9Q621.9 458.3 622.8 459.6Q623.6 460.9 624.6 462.1Q625.5 463.3 626.7 464.2Q627.9 465.2 629.4 465.7Q630.9 466.2 632.5 466.3L634.1 466.3M636.4 463.6Q634.1 461.2 633 460.1Q631.9 458.9 630.9 457.8Q629.9 456.7 628.9 455.6Q627.9 454.4 626.9 453.2Q625.9 452 624.8 450.7Q623.6 449.5 622.5 448.1Q621.5 446.7 620.7 445.3Q619.9 443.9 619.6 442.3Q619.3 440.8 619.5 439Q619.7 437.2 620.1 435.4Q620.5 433.6 620.8 432Q621.2 430.3 621.2 428.9Q621.3 427.5 621.1 426Q620.9 424.6 620.7 423Q620.5 421.4 620.1 419.6Q619.7 417.8 619 416.1Q618.3 414.3 617.7 412.8Q617.1 411.3 616.7 410Q616.3 408.8 616.3 407.5Q616.3 406.2 618.1 403.6Q620 401.1 622.9 402.9Q625.8 404.6 626.4 406.5Q626.9 408.4 626.6 410.3Q626.3 412.2 625.3 413.9Q624.4 415.6 623 417Q621.7 418.4 620.5 419.7Q619.2 421.1 618.3 422.6Q617.4 424.1 616.8 425.9Q616.2 427.6 616.4 429.4Q616.6 431.2 617.5 432.7Q618.4 434.2 619.7 435.5Q621 436.7 622.3 438Q623.6 439.2 624.4 440.7Q625.2 442.1 625.5 443.7Q625.7 445.4 625.7 447.1Q625.6 448.8 625.5 450.5Q625.5 452.2 625.8 453.9Q626.1 455.6 627 457.2Q627.8 458.7 629 459.9Q630.2 461.2 631.7 462Q633.1 462.8 634.8 463.2L636.4 463.6M641.3 465.7Q640.3 462.7 639.4 461.3Q638.4 460 637.1 459Q635.8 458 634.3 457.5Q632.8 456.9 631.1 456.8Q629.5 456.7 627.8 456.7Q626 456.8 624.3 456.5Q622.6 456.3 621.1 455.4Q619.6 454.4 618.9 452.7Q618.1 450.9 618.3 448.9Q618.4 446.9 619.1 445.1Q619.7 443.3 620.3 441.9Q620.8 440.5 620.8 439.1Q620.7 437.8 620.2 436.3Q619.6 434.8 618.9 433.3Q618.1 431.8 617.4 430.3Q616.6 428.8 616 427.4Q615.4 426 615 424.6Q614.6 423.3 614.3 421.8Q614.1 420.4 614 418.9Q613.9 417.3 614 415.7Q614.1 414 614.2 412.3Q614.3 410.6 614.1 409.1Q613.9 407.6 613.1 406.3Q612.3 405 610.8 403.9Q609.4 402.8 607.6 402Q605.9 401.2 604.4 400.6Q602.8 399.9 601.5 399.5Q600.1 399 599 398.6Q597.9 398.2 597 397.6Q596 396.9 595 394.3Q593.9 391.6 596.9 390.3Q599.8 389.1 601.6 389.7Q603.4 390.4 604.8 391.7Q606.1 393 606.9 394.7Q607.7 396.4 607.9 398.2Q608.1 400 607.8 401.8Q607.6 403.6 607.4 405.3Q607.2 407 607.5 408.5Q607.9 410 608.8 411.3Q609.7 412.5 611 413.6Q612.2 414.7 613.5 415.9Q614.7 417 615.7 418.3Q616.7 419.5 617.4 421Q618.1 422.4 618.4 424Q618.7 425.5 618.6 427.1Q618.5 428.7 617.9 430.2Q617.4 431.7 616.6 433.2Q615.8 434.7 615.2 436.3Q614.5 437.8 614.5 439.5Q614.5 441.1 615.4 442.7Q616.2 444.3 617.7 445.4Q619.1 446.5 620.6 447.2Q622 447.9 623.1 448.5Q624.2 449.2 625 450.2Q625.8 451.2 626.6 452.6Q627.5 454 628.4 455.5Q629.4 456.9 630.4 458.1Q631.5 459.3 632.6 460.2Q633.7 461.1 634.9 461.8Q636.1 462.5 637.3 463.3Q638.6 464 640 464.9L641.3 465.7M641 462.7Q639.6 459.6 638.7 458.2Q637.8 456.8 636.6 455.6Q635.4 454.4 633.8 453.6Q632.3 452.8 630.4 452.6Q628.6 452.5 626.9 452.9Q625.1 453.3 623.6 453.9Q622.1 454.5 620.6 454.7Q619.2 454.9 617.6 454.7Q616.1 454.4 614.3 453.8Q612.6 453.2 610.9 452.6Q609.2 451.9 607.7 451.5Q606.1 451.1 604.7 450.9Q603.2 450.8 601.7 450.7Q600.1 450.6 598.5 450.4Q596.9 450.2 595 450.3Q593.1 450.5 591.1 450.4Q589.2 450.2 587.4 449.8Q585.6 449.4 583.9 448.7Q582.3 447.9 580.8 446.7Q579.4 445.5 578.5 443.7Q577.5 442 578.3 438.4Q579.2 434.8 582.4 434.9Q585.6 435 586.8 435.7Q588 436.4 588.9 437.4Q589.8 438.4 590.7 439.7Q591.6 441 592.4 442.4Q593.2 443.9 594.1 445.5Q594.9 447.2 595.8 448.8Q596.8 450.5 598.1 451.6Q599.5 452.7 601 453.6Q602.6 454.5 604.3 454.9Q606 455.3 607.7 455Q609.4 454.6 611 453.7Q612.5 452.8 614 451.7Q615.5 450.6 617.1 449.9Q618.7 449.1 620.5 449.1Q622.3 449 624 449.7Q625.7 450.4 627.2 451.5Q628.6 452.6 629.7 453.8Q630.9 454.9 632 455.9Q633.2 456.9 634.4 457.8Q635.6 458.8 636.9 459.7Q638.3 460.7 639.6 461.7L641 462.7M644 458.6Q644.7 455.9 644.9 454.5Q645.1 453.1 645 451.7Q644.9 450.3 644.4 449Q643.8 447.7 642.7 446.6Q641.6 445.5 640.3 444.7Q638.9 443.8 637.7 443.1Q636.5 442.4 635.7 441.5Q634.9 440.6 634.4 439.4Q634 438.1 633.7 436.5Q633.5 434.9 633.2 433.4Q632.9 431.8 632.5 430.5Q632 429.2 631.3 428.3Q630.5 427.3 629.5 426.4Q628.6 425.6 627.6 424.6Q626.6 423.6 625.5 422.5Q624.4 421.4 623.5 420.1Q622.6 418.8 621.9 417.5Q621.2 416.1 620.8 414.7Q620.4 413.3 620.3 412Q620.1 410.7 620.4 409.3Q620.7 408 622.5 405.9Q624.4 403.9 626.6 405.6Q628.8 407.4 629.2 408.8Q629.7 410.1 629.7 411.4Q629.7 412.8 629.5 414.1Q629.2 415.4 628.8 416.7Q628.4 418 627.9 419.3Q627.4 420.7 626.9 422.2Q626.4 423.7 626.3 425.2Q626.2 426.8 626.5 428.3Q626.7 429.8 627.4 431.1Q628.1 432.4 629.4 433.2Q630.6 434 632.1 434.4Q633.6 434.8 635.2 435.1Q636.8 435.5 638.2 436.2Q639.5 436.9 640.4 438.1Q641.3 439.3 641.5 440.9Q641.8 442.4 641.6 444Q641.5 445.5 641.3 446.9Q641.1 448.3 641.2 449.6Q641.2 450.9 641.5 452.2Q641.8 453.4 642.3 454.7Q642.8 456 643.4 457.3L644 458.6M643.5 466Q645.6 463.7 646.4 462.4Q647.2 461 647.6 459.4Q647.9 457.9 647.6 456.3Q647.2 454.8 646.2 453.4Q645.2 451.9 643.8 450.8Q642.5 449.6 641.4 448.4Q640.3 447.3 639.8 445.9Q639.3 444.6 639.5 443Q639.7 441.5 640.4 439.8Q641.1 438.1 641.9 436.6Q642.8 435.1 643.3 433.8Q643.9 432.4 644.2 431.2Q644.4 430 644.5 428.7Q644.5 427.4 644.7 426Q644.8 424.5 645.2 423.1Q645.6 421.6 646.3 420.3Q647 418.9 648 417.7Q649 416.5 650.2 415.7Q651.4 414.8 652.9 414.4Q654.3 414 656.1 413.9Q657.9 413.9 659.8 413.8Q661.6 413.7 663.3 413.1Q665 412.5 666.4 411.3Q667.7 410.1 668.4 408.4Q669.1 406.7 667.4 403.5Q665.7 400.3 662.6 400.9Q659.5 401.5 658.8 402.3Q658.1 403.1 657.8 404.2Q657.4 405.4 657.2 406.8Q656.9 408.3 656.6 410.1Q656.4 411.9 655.9 413.6Q655.4 415.4 654.6 416.6Q653.7 417.9 652.7 418.8Q651.7 419.7 650.5 420.4Q649.3 421.1 648 421.7Q646.7 422.4 645.4 423.3Q644 424.1 642.8 425.2Q641.6 426.3 640.7 427.7Q639.8 429.1 639.5 430.7Q639.2 432.2 639.6 433.8Q640.1 435.3 641.2 436.6Q642.2 438 643.4 439.1Q644.7 440.3 645.5 441.5Q646.4 442.7 646.7 444.1Q646.9 445.6 646.5 447.2Q646.1 448.8 645.4 450.4Q644.6 452 644 453.4Q643.3 454.9 643 456.2Q642.8 457.5 642.9 458.8Q642.9 460.1 643.2 461.5Q643.4 462.9 643.5 464.5L643.5 466M644.3 466.4Q647.1 465.1 648.4 464.1Q649.7 463.2 650.5 461.9Q651.3 460.5 651.4 458.9Q651.5 457.3 650.9 455.6Q650.3 454 649.4 452.4Q648.6 450.8 648.2 449.3Q647.8 447.7 648.2 446.3Q648.6 444.8 649.8 443.6Q651 442.4 652.7 441.5Q654.3 440.7 655.9 440.2Q657.4 439.7 658.7 439.2Q659.9 438.7 661 438Q662 437.3 663 436.3Q664 435.4 665 434.3Q666 433.2 667 432.1Q668 431 669 429.9Q669.9 428.8 671 427.9Q672 427 673.2 426.4Q674.4 425.8 676 425.6Q677.5 425.4 679.2 425.4Q680.9 425.5 682.5 425.7Q684.1 425.8 685.4 425.6Q686.6 425.5 687.7 424.7Q688.7 424 689.7 422.8Q690.8 421.6 692 420.3Q693.3 419 694.6 417.9Q695.9 416.8 697.2 416Q698.4 415.1 699.5 414.6Q700.6 414.1 701.7 413.9Q702.7 413.8 705.3 415.2Q707.8 416.6 706.9 419.9Q705.9 423.2 704.3 424Q702.7 424.8 701.1 424.7Q699.5 424.7 698 424.2Q696.4 423.7 695 422.8Q693.6 421.9 692 420.9Q690.5 419.9 688.8 419.2Q687.1 418.5 685.4 418.5Q683.8 418.6 682.5 419.5Q681.2 420.3 680.3 421.8Q679.5 423.2 678.8 424.8Q678.1 426.3 677.4 427.7Q676.6 429 675.5 429.9Q674.4 430.9 673 431.4Q671.7 432 670.2 432.2Q668.7 432.5 667.3 432.6Q665.8 432.8 664.3 432.9Q662.8 433.1 661.3 433.5Q659.8 433.8 658.5 434.6Q657.2 435.4 656.3 436.6Q655.4 437.9 655.1 439.5Q654.8 441 655 442.6Q655.1 444.1 655.2 445.4Q655.3 446.8 655 448Q654.6 449.2 653.6 450.4Q652.6 451.6 651.2 452.7Q649.9 453.9 648.7 454.9Q647.4 456 646.7 457Q645.9 458.1 645.6 459.3Q645.2 460.5 645.1 461.9Q644.9 463.3 644.6 464.9L644.3 466.4M648.2 464.6Q651.7 464.9 653.4 465.2Q655 465.4 656.5 465.3Q658 465.2 659.3 464.5Q660.7 463.7 662.1 462.5Q663.4 461.2 664.9 459.9Q666.4 458.7 668.1 458Q669.8 457.3 671.6 457.7Q673.3 458 674.9 459.1Q676.4 460.3 677.5 461.9Q678.7 463.4 679.6 464.9Q680.4 466.4 681.4 467.7Q682.3 469 683.4 470.1Q684.6 471.2 686 472Q687.4 472.9 689.1 473.3Q690.8 473.7 692.6 473.5Q694.4 473.3 696.1 472.9Q697.9 472.5 699.4 472.1Q701 471.7 702.5 471.5Q704.1 471.3 705.5 471.4Q707 471.4 708.3 471.8Q709.7 472.3 711.7 474.5Q713.8 476.8 711.5 479.2Q709.2 481.7 707.4 481.9Q705.6 482.2 704 481.9Q702.3 481.5 700.7 480.8Q699.1 480 697.7 479Q696.2 477.9 694.9 476.5Q693.6 475.2 692.6 473.8Q691.5 472.4 690.4 471.3Q689.3 470.2 688.2 469.2Q687 468.2 685.7 467.3Q684.4 466.4 683 465.7Q681.5 465 679.8 464.7Q678.2 464.4 676.5 464.4Q674.9 464.4 673.5 464.5Q672.1 464.6 670.8 464.3Q669.5 464.1 668.1 463.3Q666.6 462.5 665 461.4Q663.3 460.3 661.5 459.5Q659.8 458.6 658.1 458.5Q656.3 458.3 654.8 458.9Q653.2 459.5 651.8 460.7Q650.5 461.9 649.3 463.2L648.2 464.6M644.1 467.6Q646.6 469.7 648 470.4Q649.4 471.2 650.9 471.1Q652.4 471.1 653.8 470.1Q655.2 469.2 656.2 467.6Q657.2 466 657.8 464.4Q658.4 462.8 659 461.6Q659.5 460.4 660.4 459.7Q661.3 459 662.6 458.5Q663.9 458 665.3 457.5Q666.8 457 668.1 456.2Q669.4 455.5 670.4 454.6Q671.4 453.7 672.1 452.6Q672.8 451.5 673.3 450.2Q673.8 448.9 674.2 447.5Q674.6 446.2 674.8 444.7Q675.1 443.2 675.4 441.8Q675.7 440.4 676.3 439.3Q676.8 438.1 677.8 437.2Q678.7 436.3 680.1 435.5Q681.5 434.8 683.1 434Q684.6 433.3 686 432.4Q687.4 431.4 688.5 430.4Q689.7 429.5 690.6 428.5Q691.5 427.5 692.1 426.6Q692.6 425.6 692.8 424.5Q693 423.4 691.9 420.5Q690.9 417.5 687.4 417.5Q683.9 417.4 682.6 418.6Q681.3 419.7 680.6 421.1Q680 422.5 679.8 424Q679.6 425.5 679.8 427Q680 428.5 680.3 430Q680.7 431.6 681.2 433.2Q681.7 434.9 681.9 436.6Q682.1 438.2 681.8 439.7Q681.4 441.1 680.5 442.1Q679.6 443.2 678.4 444Q677.1 444.7 675.8 445.4Q674.5 446.1 673.2 446.8Q672 447.6 670.9 448.5Q669.9 449.4 669.1 450.4Q668.3 451.5 667.8 452.8Q667.3 454.1 667 455.5Q666.8 457 666.7 458.6Q666.5 460.2 666.1 461.8Q665.6 463.4 664.6 464.5Q663.6 465.7 662.1 466.1Q660.5 466.6 658.8 466.3Q657.1 465.9 655.6 465.3Q654.1 464.7 652.9 464.3Q651.7 463.9 650.5 464.2Q649.4 464.4 648.1 465.1Q646.9 465.9 645.5 466.8L644.1 467.6M643.5 467.7Q645.6 470.3 646.6 471.4Q647.6 472.6 648.7 473.2Q649.8 473.8 651.2 473.8Q652.5 473.9 654.2 473.7Q655.9 473.4 657.6 473.3Q659.3 473.2 660.8 473.5Q662.2 473.8 663.3 474.5Q664.4 475.3 665.3 476.4Q666.2 477.5 667.1 478.6Q668 479.8 669.1 480.7Q670.2 481.7 671.6 482.4Q672.9 483 674.3 483.3Q675.8 483.6 677.2 483.4Q678.7 483.2 680.1 482.7Q681.5 482.1 682.8 481.2Q684.1 480.4 685.3 479.4Q686.5 478.5 687.7 477.9Q689 477.2 690.3 477.1Q691.6 477 693.1 477.4Q694.6 477.8 696.2 478.5Q697.8 479.1 699.5 479.5Q701.2 479.9 702.9 480Q704.6 480.1 706.2 479.8Q707.9 479.5 709.4 478.9Q710.9 478.3 712.1 477.4Q713.3 476.4 714.1 475.1Q714.9 473.8 714.8 470.5Q714.6 467.1 711.4 466.2Q708.1 465.3 706.8 465.7Q705.4 466.1 704.4 466.9Q703.5 467.6 702.7 468.6Q701.9 469.5 701.2 470.6Q700.5 471.8 699.7 473.1Q699 474.3 698.1 475.8Q697.2 477.2 696.2 478.7Q695.2 480.2 694 481.3Q692.9 482.5 691.5 482.9Q690.2 483.4 688.7 483.3Q687.2 483.1 685.7 482.6Q684.3 482.1 682.8 481.6Q681.4 481 680 480.7Q678.7 480.3 677.4 480.1Q676.1 479.9 674.8 479.9Q673.5 479.9 672.1 480Q670.8 480.1 669.2 480.3Q667.7 480.4 666.1 480.5Q664.5 480.5 663 480.3Q661.5 480 660.2 479.3Q659 478.6 658.2 477.4Q657.4 476.1 656.8 474.5Q656.2 472.9 655.5 471.3Q654.8 469.6 653.7 468.4Q652.7 467.2 651.3 466.7Q649.8 466.2 648.2 466.4Q646.6 466.6 645.1 467.2L643.5 467.7M646.9 470.6Q648.4 474.2 649.7 475.7Q651 477.1 652.7 477.8Q654.4 478.4 656.2 478.3Q658.1 478.1 660 477.6Q661.8 477.1 663.6 476.8Q665.5 476.4 667.1 476.5Q668.8 476.6 670.4 477.2Q672 477.8 673.4 478.6Q674.9 479.5 676.3 480.5Q677.6 481.5 679 482.6Q680.3 483.7 681.6 484.9Q682.9 486 684.2 487Q685.5 488 687 488.6Q688.4 489.2 690 489.4Q691.7 489.7 693.6 489.9Q695.5 490 697.4 490.7Q699.2 491.4 700.5 492.8Q701.9 494.1 702.3 496Q702.8 497.9 702.6 499.8Q702.4 501.8 701.9 503.7Q701.4 505.6 701 507.5Q700.5 509.4 700.5 511.4Q700.5 513.3 701.1 515.3Q701.7 517.3 703.1 519Q704.5 520.7 706.6 521.7Q708.7 522.7 712.2 521.3Q715.7 519.8 715.1 516.8Q714.5 513.7 713.9 512.9Q713.2 512.1 712.3 511.5Q711.4 510.9 710.2 510.1Q709 509.4 707.6 508.4Q706.2 507.4 704.6 506.2Q703 505 701.5 503.8Q700.1 502.6 698.7 501.5Q697.4 500.4 696.5 499.3Q695.5 498.2 695.1 496.8Q694.6 495.4 694.3 493.6Q694 491.8 693.5 489.8Q692.9 487.9 691.8 486.3Q690.7 484.7 689.2 483.8Q687.8 482.9 686.1 482.6Q684.4 482.3 682.6 482.2Q680.9 482.2 679.1 482.2Q677.4 482.2 675.7 482.1Q674 482 672.3 481.8Q670.7 481.6 669.1 481.2Q667.6 480.7 666.1 479.9Q664.7 479 663.4 477.8Q662 476.5 660.7 475.1Q659.5 473.7 658.2 472.6Q656.9 471.5 655.5 471Q654.1 470.6 652.5 470.6Q650.8 470.7 648.8 470.6L646.9 470.6M611.3 433.8Q609.7 431.5 608.8 430.6Q607.9 429.6 606.8 428.9Q605.8 428.1 604.7 427.5Q603.6 426.9 602.3 426.4Q601.1 425.8 599.8 425.1Q598.5 424.5 597.4 423.5Q596.2 422.5 595.6 421.2Q594.9 419.9 595 418.4Q595 416.9 595.6 415.4Q596.3 413.9 597 412.5Q597.7 411 598.3 409.6Q598.8 408.2 599.1 406.7Q599.4 405.2 599.4 403.8Q599.4 402.3 599.1 401Q598.7 399.6 597.9 398.5Q597.1 397.3 594.4 396.2Q591.6 395.1 590 397.6Q588.4 400.1 588.4 401.4Q588.4 402.8 588.8 403.9Q589.2 405 589.8 406.1Q590.5 407.2 591.3 408.2Q592.2 409.3 593.2 410.5Q594.2 411.6 595.3 412.7Q596.4 413.9 597.5 414.9Q598.6 416 599.3 417Q600 418.1 600.2 419.2Q600.5 420.3 600.5 421.6Q600.6 423 600.8 424.4Q601.1 425.9 601.6 427.2Q602.2 428.5 603.1 429.6Q604 430.6 605.1 431.4Q606.2 432.2 607.4 432.7Q608.6 433.2 610 433.5L611.3 433.8M627.6 424.1Q627.6 421.2 627.7 419.9Q627.8 418.6 627.9 417.4Q627.9 416.1 627.8 414.9Q627.6 413.6 627.1 412.3Q626.7 410.9 625.9 409.6Q625.2 408.2 624.4 407Q623.6 405.8 623 404.7Q622.5 403.6 622.4 402.4Q622.3 401.2 622.6 399.8Q622.8 398.4 623 396.8Q623.2 395.1 623.2 393.5Q623.2 391.8 623.1 390.3Q622.9 388.8 622.7 387.4Q622.4 386 622 384.7Q621.5 383.5 620.8 382.4Q620.1 381.3 618.9 380.4Q617.7 379.5 614.5 379.3Q611.2 379.1 610.2 382.1Q609.2 385 609.5 386.4Q609.8 387.7 610.5 388.9Q611.2 390 612.2 391Q613.2 392.1 614.4 392.9Q615.6 393.7 616.9 394.4Q618.3 395.1 619.7 395.7Q621.2 396.3 622.8 397Q624.4 397.6 625.7 398.6Q627.1 399.6 627.9 400.9Q628.7 402.3 628.7 403.8Q628.7 405.3 628.1 406.8Q627.6 408.2 626.8 409.6Q626 410.9 625.4 412.2Q624.8 413.5 624.6 414.9Q624.4 416.3 624.6 417.8Q624.8 419.2 625.3 420.5Q625.9 421.8 626.8 422.9L627.6 424.1M655.3 430.1Q657.8 428.4 659.1 427.9Q660.4 427.3 661.5 426.8Q662.6 426.2 663.6 425.4Q664.5 424.6 665.4 423.3Q666.3 422.1 667.2 420.5Q668.1 419 669.2 417.7Q670.2 416.4 671.4 415.7Q672.5 415 673.9 414.9Q675.3 414.8 676.9 415Q678.5 415.2 680.3 415.4Q682 415.6 683.7 415.5Q685.4 415.4 687 415.1Q688.6 414.8 690 414.4Q691.4 413.9 692.5 413.3Q693.7 412.7 694.5 411.7Q695.4 410.7 695.9 407.6Q696.4 404.6 693.3 403.4Q690.2 402.2 688.7 402.6Q687.1 403.1 686 404.1Q684.8 405.1 683.9 406.3Q683.1 407.5 682.4 408.9Q681.8 410.4 681.2 411.9Q680.7 413.5 680.1 415.2Q679.5 416.9 678.6 418.6Q677.8 420.2 676.6 421.3Q675.5 422.4 674 422.7Q672.5 423 670.9 422.7Q669.3 422.3 667.6 421.7Q665.9 421.2 664.2 421Q662.5 420.8 660.9 421.3Q659.4 421.8 658.2 423Q657.1 424.1 656.4 425.6Q655.8 427.1 655.5 428.6L655.3 430.1M676.9 440.4Q680.3 440 681.9 439.9Q683.5 439.9 684.9 439.7Q686.4 439.6 687.8 439Q689.2 438.4 690.7 437.5Q692.1 436.5 693.7 435.5Q695.2 434.6 696.7 433.9Q698.2 433.2 699.7 433Q701.1 432.8 702.7 432.9Q704.2 432.9 705.9 433Q707.6 433 709.6 433.5Q711.6 433.9 713.6 434Q715.5 434.1 717.2 433.8Q718.9 433.4 720.2 432.4Q721.5 431.4 722 428Q722.4 424.5 719.1 423.3Q715.7 422.1 714.3 422.8Q712.9 423.5 711.9 424.8Q710.9 426.1 710.1 427.8Q709.3 429.5 708.5 431.4Q707.7 433.3 706.4 434.5Q705.1 435.8 703.6 436.8Q702.1 437.8 700.4 438.2Q698.8 438.6 697.1 438.2Q695.4 437.9 693.8 437.1Q692.1 436.3 690.4 435.6Q688.7 434.9 687 434.7Q685.2 434.6 683.5 435.1Q681.9 435.7 680.5 436.8Q679.1 437.9 678 439.2L676.9 440.4M687.9 471.1Q690.7 472.4 692.1 472.8Q693.5 473.2 694.8 473.2Q696.1 473.1 697.2 472.5Q698.3 471.8 699.3 470.7Q700.4 469.5 701.5 468.3Q702.6 467.1 703.8 466.1Q705.1 465.1 706.5 464.3Q707.9 463.5 709.3 463.1Q710.7 462.6 712.1 462.5Q713.5 462.3 714.8 462.5Q716.1 462.7 717.2 463.3Q718.4 464 719.9 466.8Q721.5 469.6 719.3 472.2Q717.2 474.8 715.8 475.1Q714.4 475.5 713.2 475.4Q712 475.3 710.9 474.8Q709.8 474.4 708.7 473.7Q707.7 473 706.5 472.2Q705.4 471.4 704.1 470.5Q702.9 469.6 701.5 468.7Q700.1 467.7 698.6 467Q697.2 466.3 695.8 466.1Q694.5 465.9 693.3 466.4Q692.1 466.9 691 467.9Q690 468.9 688.9 470L687.9 471.1M672.6 501.2Q672.8 504.7 673.2 506.3Q673.6 507.9 674.4 509.1Q675.3 510.4 676.5 511.3Q677.8 512.3 679.2 513.2Q680.5 514.1 682.1 515Q683.7 516 685.1 517.4Q686.4 518.9 687.3 520.7Q688.1 522.6 688.3 524.7Q688.5 526.7 688.1 528.7Q687.6 530.7 686.3 532.2Q685.1 533.7 681.5 534.4Q677.9 535.1 676.3 532Q674.7 529 674.7 527.7Q674.7 526.5 675.2 525.6Q675.6 524.7 676.3 523.8Q677 522.9 677.7 521.7Q678.5 520.5 679.2 519Q680 517.5 680.5 515.7Q681 513.8 680.9 512.1Q680.9 510.3 680.5 508.7Q680.1 507.1 679.3 505.8Q678.4 504.6 677.1 503.7Q675.8 502.8 674.2 502L672.6 501.2M647.5 501.9Q646.7 505.2 646.6 506.6Q646.5 508.1 647 509.5Q647.4 510.8 648.5 512Q649.5 513.2 650.7 514.2Q652 515.3 653.2 516.3Q654.4 517.2 655.4 518.2Q656.4 519.2 657.3 520.2Q658.1 521.2 658.9 522.2Q659.7 523.3 660.6 524.4Q661.4 525.6 662.2 527Q663 528.4 664 529.8Q665 531.2 666.2 532.4Q667.4 533.6 668.7 534.5Q670 535.5 671.4 536.1Q672.8 536.8 674.2 537.1Q675.7 537.5 677.2 537.3Q678.7 537.1 681.2 535.1Q683.8 533.1 682.4 530.2Q681 527.3 679.7 526.5Q678.5 525.7 677.2 525.4Q675.9 525 674.6 525Q673.2 524.9 671.8 525Q670.4 525.1 669 525.3Q667.5 525.6 665.9 525.8Q664.3 526 662.7 526.1Q661 526.1 659.6 525.5Q658.1 525 656.9 524.1Q655.6 523.3 654.6 522.1Q653.7 521 653.1 519.6Q652.6 518.2 652.5 516.6Q652.4 515.1 652.6 513.6Q652.8 512 652.8 510.5Q652.9 509 652.6 507.7Q652.2 506.3 651.2 505.1Q650.3 503.9 648.9 502.9L647.5 501.9M633.1 503.8Q630.7 506.5 630 508Q629.3 509.5 629.2 511.1Q629 512.7 629.4 514.4Q629.7 516.1 630.2 517.7Q630.6 519.4 631.2 521Q631.7 522.5 632.2 524Q632.7 525.4 633.2 526.8Q633.7 528.2 634.2 529.6Q634.6 531 635 532.6Q635.4 534.1 635.7 535.9Q635.9 537.7 636.2 539.4Q636.4 541.1 636.6 542.6Q636.8 544.1 636.8 545.4Q636.9 546.7 636.9 547.8Q636.9 548.9 637.1 550Q637.4 551.1 638.9 553.4Q640.4 555.6 643.1 553.7Q645.7 551.8 646.3 549.8Q646.8 547.7 646.4 545.7Q646.1 543.6 645.1 541.9Q644.2 540.2 642.9 538.9Q641.6 537.6 640.1 536.7Q638.6 535.8 637 535Q635.3 534.2 634 533.1Q632.7 532 631.7 530.6Q630.8 529.2 630.3 527.5Q629.8 525.9 629.8 524.2Q629.8 522.6 630.3 521Q630.7 519.4 631.4 517.9Q632.1 516.4 632.9 514.9Q633.6 513.5 634 512Q634.4 510.4 634.3 508.8Q634.1 507.2 633.6 505.5L633.1 503.8M619.5 484.5Q616.1 485.4 614.9 486.5Q613.6 487.6 612.9 489.1Q612.2 490.6 611.9 492.2Q611.6 493.8 611.5 495.4Q611.3 497 611.1 498.6Q610.9 500.2 610.4 501.7Q610 503.2 609.2 504.6Q608.4 506 607.3 507.1Q606.1 508.1 604.6 508.8Q603.1 509.5 601.4 510Q599.7 510.5 598.1 511Q596.5 511.5 595 512.1Q593.5 512.6 592.2 513.2Q590.9 513.8 589.8 514.5Q588.8 515.1 587.9 516Q587 516.8 586 519.4Q585 522 588 523.3Q591 524.6 592.8 524.1Q594.6 523.6 596 522.5Q597.3 521.4 598.3 520.1Q599.3 518.7 600.1 517.2Q600.8 515.7 601.3 514.1Q601.8 512.5 602.1 510.8Q602.5 509 603 507.5Q603.5 506 604.2 504.7Q605 503.5 606 502.4Q607 501.4 608.1 500.3Q609.2 499.3 610.4 498.2Q611.6 497.1 612.7 496Q613.9 494.9 614.9 493.8Q615.9 492.7 616.7 491.6Q617.5 490.5 618 489.1Q618.6 487.8 619 486.1L619.5 484.5M598.5 459.7Q596 457.3 594.4 456.5Q592.9 455.8 591.2 455.4Q589.6 455.1 587.9 455Q586.3 455 584.6 455Q582.9 455.1 581.1 455.3Q579.2 455.5 577.3 455.3Q575.3 455 573.5 454.1Q571.6 453.3 570.1 451.9Q568.5 450.5 567.5 448.8Q566.5 447.2 566 445.5Q565.6 443.7 566.7 440.7Q567.7 437.7 570.9 438.5Q574.2 439.4 575.2 440.6Q576.3 441.8 576.8 443Q577.4 444.2 577.7 445.4Q578.1 446.7 578.5 448.1Q579 449.5 579.7 451.1Q580.5 452.6 581.6 454.1Q582.8 455.6 584.2 456.6Q585.7 457.6 587.2 458.2Q588.7 458.8 590.3 459.2Q591.8 459.5 593.4 459.7Q595 459.8 596.8 459.8L598.5 459.7M653.3 468.5Q652.7 465.7 652 464.4Q651.4 463.1 650.5 462Q649.6 460.9 648.6 460Q647.7 459.1 646.6 458.3Q645.5 457.5 644.2 456.6Q642.8 455.8 641.7 454.4Q640.5 453.1 639.9 451.3Q639.3 449.6 639.3 447.7Q639.3 445.9 639.9 444.2Q640.5 442.5 641.6 441.3Q642.7 440.1 645.7 439.6Q648.8 439 650 441.8Q651.1 444.7 650.9 445.9Q650.7 447 650.2 447.9Q649.7 448.7 649 449.4Q648.3 450.2 647.5 451.1Q646.7 452.1 646 453.4Q645.3 454.7 645 456.4Q644.7 458 645.1 459.5Q645.5 460.9 646.3 462.1Q647 463.3 648 464.2Q648.9 465.1 650 465.9Q651.1 466.7 652.2 467.6L653.3 468.5M640.7 459.9Q637.6 460.3 636.3 460.8Q635 461.2 633.9 462Q632.9 462.8 632 464Q631.2 465.1 630.5 466.5Q629.8 467.8 629.5 469.4Q629.2 471 629.2 472.6Q629.2 474.1 629.3 475.5Q629.4 476.8 629.5 477.9Q629.6 479 629.6 480Q629.5 481.1 629 482.1Q628.6 483.1 626.2 484.9Q623.7 486.6 621.4 484.4Q619 482.3 618.8 480.6Q618.6 478.9 619 477.3Q619.5 475.6 620.4 474.2Q621.4 472.8 622.7 471.7Q624.1 470.5 625.6 469.9Q627.2 469.2 628.7 468.8Q630.3 468.4 631.6 468Q633 467.6 634.3 467.2Q635.6 466.8 636.8 466Q638 465.3 638.9 464.1Q639.8 462.9 640.3 461.4L640.7 459.9M636.1 458.2Q637.9 460.9 638.8 462.1Q639.8 463.3 640.9 464Q642.1 464.7 643.5 464.9Q644.9 465.1 646.5 464.9Q648.2 464.7 649.9 464.6Q651.6 464.4 653.1 464.6Q654.6 464.7 655.8 465.3Q657 466 658 467Q659 468.1 659.9 469.3Q660.8 470.5 661.5 472Q662.3 473.4 662.9 475Q663.5 476.5 663.9 477.9Q664.4 479.2 664.8 480.3Q665.2 481.5 665.6 482.4Q666 483.3 666.7 484Q667.4 484.7 670.1 485.6Q672.7 486.5 674.5 483.6Q676.2 480.7 675.8 478.9Q675.3 477 674.2 475.6Q673 474.3 671.6 473.4Q670.1 472.5 668.5 472.1Q666.8 471.6 665.1 471.6Q663.4 471.6 661.8 471.6Q660.2 471.6 658.7 471.5Q657.2 471.3 655.8 471Q654.4 470.7 653.2 470Q652 469.3 651 468.1Q650.1 466.9 649.4 465.4Q648.7 463.9 647.9 462.3Q647.2 460.8 646.1 459.7Q645.1 458.6 643.8 458.1Q642.4 457.6 640.8 457.6Q639.3 457.7 637.7 457.9L636.1 458.2M649 471.2Q647.9 468.5 647.2 467.3Q646.5 466.1 645.6 465Q644.7 463.9 643.5 463.1Q642.4 462.2 640.9 461.7Q639.5 461.2 637.9 461Q636.4 460.8 634.9 460.7Q633.4 460.6 632.1 460.3Q630.7 460 629.6 459.2Q628.6 458.4 627.6 457.1Q626.7 455.8 625.9 454.3Q625.1 452.7 624.2 451.3Q623.3 449.9 622.3 448.7Q621.2 447.5 620 446.6Q618.8 445.6 617.3 445.1Q615.8 444.5 614.1 444.6Q612.4 444.7 610 447Q607.6 449.3 609.2 451.8Q610.8 454.2 611.8 454.7Q612.8 455.3 614 455.4Q615.1 455.6 616.5 455.6Q617.9 455.6 619.4 455.5Q620.9 455.3 622.6 455Q624.2 454.7 625.9 454.3Q627.6 453.9 629.2 453.8Q630.8 453.6 632.2 454Q633.6 454.4 634.8 455.3Q635.9 456.3 636.8 457.6Q637.7 459 638.4 460.3Q639.1 461.7 639.8 462.9Q640.5 464.1 641.3 465.2Q642.2 466.3 643.1 467.2Q644.1 468.2 645.3 469Q646.4 469.9 647.7 470.5L649 471.2M645.1 474.9Q647.1 477.5 648 478.7Q648.9 479.8 649.8 480.6Q650.7 481.3 651.9 481.7Q653 482.1 654.4 482.4Q655.8 482.8 657.3 483.6Q658.7 484.3 659.7 485.6Q660.7 486.9 661 488.4Q661.3 489.9 661 491.4Q660.7 492.9 660.2 494.4Q659.7 495.8 658.9 497.3Q658.2 498.7 657.4 500.2Q656.6 501.7 656.1 503.2Q655.6 504.7 655.3 506.2Q655.1 507.7 655.2 509.1Q655.3 510.4 655.8 511.7Q656.4 512.9 658.9 514.6Q661.4 516.3 663.7 514Q665.9 511.7 666.1 510.2Q666.3 508.7 666 507.4Q665.6 506 665 504.8Q664.3 503.5 663.4 502.3Q662.5 501.1 661.4 499.8Q660.4 498.5 659.4 497.2Q658.5 495.9 657.8 494.6Q657.1 493.3 656.6 492Q656 490.8 655.9 489.6Q655.7 488.3 655.9 487Q656.2 485.6 656.4 483.9Q656.7 482.2 656.4 480.3Q656.2 478.5 655.3 477Q654.4 475.5 652.9 474.8Q651.5 474.1 649.9 474.1Q648.3 474.2 646.7 474.5L645.1 474.9M654.9 460.3Q652.7 458.4 651.4 457.8Q650.1 457.1 648.7 456.8Q647.3 456.5 645.8 456.6Q644.3 456.7 642.9 457.2Q641.4 457.7 640.1 458.6Q638.9 459.4 637.8 460.4Q636.7 461.4 635.6 462.1Q634.6 462.9 633.3 463.3Q632 463.7 630.5 463.6Q628.9 463.5 627.2 463.1Q625.5 462.7 624 462.2Q622.4 461.7 621.2 461.1Q620 460.5 619.1 460Q618.2 459.4 617.5 458.9Q616.9 458.5 616.1 458.4Q615.4 458.3 612.7 458.9Q610.1 459.5 610.2 463Q610.3 466.5 611.9 467.8Q613.5 469.2 615.4 469.6Q617.4 470 619.3 469.6Q621.1 469.2 622.7 468.3Q624.2 467.4 625.3 466Q626.4 464.7 627.2 463.3Q628.1 461.8 629 460.5Q629.9 459.2 631.2 458.4Q632.4 457.6 633.9 457.4Q635.4 457.1 637 457.3Q638.5 457.5 640 457.9Q641.4 458.3 642.8 458.7Q644.1 459.1 645.4 459.4Q646.6 459.8 647.9 460Q649.2 460.3 650.6 460.4Q652 460.5 653.5 460.4L654.9 460.3M640.3 470.7Q637.7 469.2 636.4 468.8Q635.1 468.4 633.7 468.4Q632.4 468.3 631 468.5Q629.6 468.6 628.3 469Q626.9 469.3 625.5 470.2Q624.1 471 622.8 472Q621.6 472.9 620.4 473.7Q619.2 474.5 617.9 475.1Q616.7 475.7 615.3 476Q614 476.2 612.4 475.9Q610.9 475.6 608.8 473Q606.8 470.5 608.6 468.3Q610.4 466 611.6 465.6Q612.7 465.1 614.1 465.1Q615.4 465.1 616.8 465.3Q618.3 465.6 619.8 466.1Q621.3 466.7 622.7 467.5Q624.1 468.3 625.5 469.2Q626.8 470.1 628.1 470.6Q629.4 471.1 630.8 471.5Q632.1 471.9 633.4 472Q634.8 472.2 636.2 472Q637.6 471.8 639 471.2L640.3 470.7M635.8 475.9Q638.1 474.2 639.3 473.4Q640.5 472.6 641.5 471.7Q642.5 470.9 643.3 469.9Q644.1 468.9 644.7 467.6Q645.4 466.4 646.2 464.9Q647 463.5 648.1 462.2Q649.3 461 650.8 460.4Q652.2 459.9 653.8 460.1Q655.4 460.4 656.9 461.2Q658.4 462 659.8 463Q661.2 464 662.7 464.9Q664.1 465.7 665.7 466.3Q667.2 466.8 668.9 466.9Q670.6 467 672.3 466.5Q674 466 675.4 464.8Q676.9 463.6 677.1 460.2Q677.4 456.8 674.6 456Q671.9 455.3 670.9 455.4Q670 455.6 669.1 456.1Q668.2 456.6 667.2 457.4Q666.2 458.1 665 459Q663.9 459.8 662.5 460.8Q661.2 461.8 659.9 462.9Q658.5 463.9 657.2 464.8Q656 465.8 654.8 466.3Q653.7 466.8 652.4 466.8Q651.2 466.8 649.7 466.4Q648.3 466.1 646.6 465.8Q644.9 465.6 643.2 465.9Q641.6 466.1 640.3 466.9Q639 467.7 638.1 469Q637.3 470.2 636.8 471.6Q636.4 473 636.1 474.5L635.8 475.9" fill="none" stroke="#72c283" stroke-width="2.5" stroke-linecap="round"/></g><ellipse cx="215" cy="330" rx="150" ry="145.5" fill="#6dc068"/><ellipse cx="215" cy="330" rx="139.3" ry="134.8" fill="#a1dbab"/><g clip-path="url(#c1)"><path d="M215.2 333.7Q214 337.1 213.9 338.8Q213.7 340.4 214.3 342Q214.8 343.5 215.9 344.9Q216.9 346.3 218 347.6Q219.2 348.9 220.1 350.2Q221 351.6 221.5 353.2Q222 354.8 221.9 356.4Q221.9 358.1 221.3 359.8Q220.8 361.4 219.7 362.7Q218.7 364.1 217.4 365.2Q216 366.2 214.7 367.1Q213.4 368.1 212.3 369.2Q211.3 370.4 210.7 371.9Q210.1 373.5 210 375.3Q209.9 377.1 209.8 378.9Q209.8 380.8 209.4 382.4Q209 384 207.9 385.3Q206.9 386.6 205.3 387.5Q203.7 388.3 202 388.9Q200.3 389.5 198.8 390Q197.2 390.5 195.8 391.3Q194.4 392.1 193.2 393.3Q192.1 394.4 191.2 395.9Q190.4 397.3 190 399Q189.6 400.7 189.7 402.4Q189.8 404 190.1 405.6Q190.3 407.2 190.5 408.7Q190.6 410.2 190.2 411.7Q189.8 413.2 189 414.7Q188.1 416.2 187.1 417.8Q186.1 419.3 185.4 420.9Q184.8 422.5 184.9 424.1Q185 425.8 185.8 427.4Q186.7 429 187.9 430.4Q189.2 431.8 190.6 432.8Q192.1 433.8 193.5 434.6Q194.9 435.5 196.3 436.3Q197.6 437.2 198.8 438.3Q200.1 439.4 201.1 440.8Q202 442.3 202.5 444.1Q203 445.9 201.9 448.8Q200.7 451.7 198.3 450.4Q195.9 449.2 195.1 448.1Q194.2 447.1 193.6 445.9Q192.9 444.7 192.3 443.2Q191.6 441.8 191 440.2Q190.5 438.6 190.1 436.8Q189.7 435.1 189.7 433.3Q189.7 431.6 190 430Q190.2 428.4 190.5 426.9Q190.7 425.4 190.6 424Q190.5 422.5 189.9 421Q189.2 419.4 188.3 417.8Q187.4 416.2 186.7 414.6Q185.9 413 185.7 411.4Q185.4 409.7 185.8 408.1Q186.2 406.5 187 404.9Q187.8 403.4 188.8 402.1Q189.9 400.8 190.9 399.7Q192 398.6 193.1 397.6Q194.2 396.6 195.3 395.5Q196.3 394.5 197.4 393.3Q198.4 392.1 199.3 390.6Q200.1 389.2 200.8 387.7Q201.4 386.1 202 384.7Q202.5 383.3 203.4 382.1Q204.2 380.9 205.6 379.9Q206.9 378.9 208.5 378.1Q210.1 377.3 211.7 376.4Q213.3 375.6 214.5 374.6Q215.6 373.5 216.4 372.1Q217.2 370.7 217.6 369Q218.1 367.4 218.3 365.7Q218.6 364.1 218.7 362.5Q218.8 361 218.9 359.5Q219 358.1 219 356.6Q219 355.2 219 353.7Q219.1 352.1 219.2 350.5Q219.3 348.8 219.4 347.1Q219.6 345.4 219.7 343.8Q219.8 342.2 219.5 340.7Q219.3 339.2 218.5 337.8Q217.7 336.4 216.4 335.1L215.2 333.7M214.8 336.3Q211.8 338.6 210.8 339.9Q209.8 341.1 209.5 342.7Q209.2 344.2 209.6 345.9Q209.9 347.6 210.5 349.2Q211 350.9 211.5 352.5Q211.9 354.1 212 355.6Q212.1 357.2 211.8 358.7Q211.5 360.2 210.8 361.6Q210.1 363.1 209.1 364.4Q208.1 365.6 206.9 366.8Q205.6 368 204.5 369.2Q203.4 370.5 202.7 372Q202.1 373.6 202.3 375.3Q202.6 377.1 203.7 378.7Q204.9 380.3 206.4 381.5Q208 382.6 209.3 383.7Q210.6 384.7 211.3 386Q211.9 387.3 212 388.9Q212 390.6 211.6 392.4Q211.2 394.1 210.8 395.8Q210.3 397.5 210.1 399Q209.9 400.5 210.1 402Q210.3 403.5 210.7 405Q211.2 406.4 212 407.8Q212.8 409.2 213.8 410.5Q214.8 411.8 215.9 413.1Q217 414.3 217.8 415.6Q218.7 417 218.9 418.6Q219.1 420.2 218.5 421.9Q217.9 423.7 216.6 425.1Q215.3 426.6 213.9 427.7Q212.5 428.8 211.6 429.8Q210.7 430.8 210.4 432.2Q210 433.6 210.1 435.3Q210.2 437 210.4 438.8Q210.6 440.6 210.7 442.3Q210.7 443.9 210.5 445.3Q210.2 446.7 209.6 448.1Q209.1 449.4 208.3 450.8Q207.5 452.1 206.3 453.4Q205.1 454.6 203.4 455.6Q201.7 456.6 200.4 457.5Q199 458.5 198 459.7Q197 460.9 196.7 462.6Q196.3 464.2 198.5 467.2Q200.6 470.1 203.7 469Q206.8 467.9 207.4 466.7Q208.1 465.5 208.2 463.9Q208.4 462.3 208.1 460.5Q207.9 458.7 207.2 456.8Q206.5 455 206.1 453.3Q205.8 451.7 205.8 450.1Q205.7 448.6 205.9 447Q206 445.4 206.6 444Q207.3 442.5 208.4 441.3Q209.5 440.1 211 439.2Q212.5 438.3 214.1 437.4Q215.6 436.5 216.7 435.2Q217.7 433.9 218 432.2Q218.3 430.5 217.8 428.7Q217.3 426.8 216.3 425.3Q215.4 423.8 214.6 422.5Q213.8 421.3 213.4 419.9Q213.1 418.6 213.1 417Q213.1 415.5 213.3 413.8Q213.5 412.2 213.7 410.6Q213.9 409 214 407.5Q214.2 405.9 214.2 404.4Q214.1 402.9 213.9 401.4Q213.6 399.9 212.9 398.5Q212.2 397.1 211.1 395.8Q209.9 394.5 208.7 393.5Q207.4 392.4 206.3 391.2Q205.3 390.1 204.8 388.6Q204.3 387.1 204.5 385.3Q204.7 383.5 205.5 381.8Q206.2 380.1 207 378.7Q207.8 377.3 208.2 376.1Q208.5 374.8 208.5 373.4Q208.4 372 208.2 370.4Q207.9 368.8 207.8 367.1Q207.6 365.5 207.6 363.9Q207.5 362.3 207.7 360.9Q207.9 359.4 208.2 358Q208.5 356.6 209.1 355.2Q209.6 353.8 210.5 352.4Q211.3 351 212.4 349.6Q213.4 348.3 214.4 347.1Q215.3 345.8 215.8 344.5Q216.3 343.1 216.2 341.5Q216.1 339.8 215.4 338.1L214.8 336.3M212.4 336.7Q208.9 337.5 207.6 338.2Q206.2 338.9 205.4 340.1Q204.5 341.3 204 342.8Q203.5 344.4 203.1 346Q202.7 347.6 202.2 349.1Q201.6 350.6 200.8 351.8Q199.9 353.1 198.7 354.1Q197.4 355 195.9 355.6Q194.4 356.1 192.7 356Q191 356 189.4 355.5Q187.8 355 186.3 354.5Q184.8 354 183.3 354Q181.9 353.9 180.4 354.7Q179 355.4 177.8 356.8Q176.6 358.3 175.6 359.9Q174.6 361.5 173.6 362.7Q172.5 364 171.2 364.5Q169.9 365.1 168.2 365Q166.6 365 164.8 364.6Q163.1 364.1 161.5 363.8Q159.9 363.4 158.4 363.4Q156.9 363.3 155.4 363.7Q154 364.1 152.7 365Q151.3 365.8 150.2 367Q149.1 368.2 148.3 369.6Q147.6 371.1 147.1 372.5Q146.7 374 146.1 375.3Q145.6 376.6 144.7 377.6Q143.8 378.6 142.3 379.4Q140.8 380.1 139 380.7Q137.2 381.3 135.6 382Q134 382.6 133 383.7Q132 384.8 131.6 386.4Q131.2 387.9 131.4 389.8Q131.6 391.7 132 393.4Q132.4 395.2 132.6 396.7Q132.8 398.2 132.7 399.5Q132.5 400.9 132 402.2Q131.6 403.6 130.9 405Q130.2 406.4 129.1 407.7Q128.1 409 126.9 410.2Q125.8 411.3 124.6 412.2Q123.5 413.2 122.5 414.1Q121.4 415 120.5 415.9Q119.6 416.9 118.8 418.2Q118.1 419.4 117.7 420.9Q117.3 422.4 118.3 425.4Q119.2 428.4 122.2 427.7Q125.1 427.1 126.2 426.1Q127.4 425.1 128.1 423.9Q128.9 422.6 129.5 421.1Q130.1 419.6 130.5 417.9Q130.8 416.2 130.8 414.5Q130.8 412.8 130.5 411.1Q130.1 409.4 129.6 407.8Q129.1 406.3 128.7 404.8Q128.3 403.3 128.1 401.7Q127.9 400.2 128.2 398.7Q128.4 397.1 129.4 395.8Q130.3 394.4 131.7 393.4Q133.1 392.5 134.6 391.7Q136.1 391 137.3 390.1Q138.5 389.2 139.1 387.9Q139.7 386.5 139.8 384.8Q139.8 383 139.7 381.2Q139.5 379.3 139.5 377.6Q139.6 375.9 140.2 374.5Q140.9 373.1 142.1 372Q143.3 370.9 144.9 370.2Q146.4 369.6 147.9 369.2Q149.4 368.8 150.9 368.6Q152.3 368.3 153.7 368.1Q155.1 367.9 156.4 367.5Q157.8 367.1 159.1 366.3Q160.5 365.6 161.7 364.5Q162.9 363.4 163.9 362.1Q165 360.8 166.1 359.7Q167.2 358.6 168.5 358Q169.9 357.5 171.6 357.6Q173.3 357.8 175 358.4Q176.8 359.1 178.4 359.7Q180 360.4 181.4 360.6Q182.9 360.8 184.3 360.3Q185.7 359.8 187.1 358.9Q188.5 357.9 189.7 356.8Q190.9 355.7 192 354.7Q193.1 353.7 194.2 352.8Q195.2 352 196.3 351.2Q197.5 350.5 198.7 349.7Q200 349 201.4 348.4Q202.9 347.7 204.4 347.1Q205.9 346.5 207.4 345.9Q208.8 345.2 209.9 344.2Q211 343.3 211.6 341.8Q212.3 340.3 212.3 338.5L212.4 336.7M212.8 334.6Q209.7 336.1 208.5 337.1Q207.4 338.1 206.8 339.3Q206.2 340.6 205.9 342.1Q205.6 343.6 205.4 345.2Q205.2 346.8 204.9 348.3Q204.6 349.8 204.1 351.2Q203.6 352.6 202.9 353.8Q202.3 355.1 201.3 356.2Q200.3 357.3 199 358.2Q197.7 359.1 196.2 359.7Q194.7 360.3 193.2 360.6Q191.8 361 190.6 361.3Q189.4 361.6 188.5 362.3Q187.6 363 186.5 364.2Q185.4 365.3 183.9 366.4Q182.5 367.5 181 368.1Q179.4 368.7 178 368.7Q176.6 368.7 175.3 368.1Q174 367.6 172.6 367Q171.2 366.5 169.6 366.3Q168 366.2 166.5 366.7Q165 367.2 163.8 368.3Q162.7 369.4 161.9 370.7Q161.1 372.1 160.6 373.6Q160.1 375.1 159.9 376.6Q159.6 378.2 159.3 379.7Q159.1 381.2 158.6 382.6Q158.2 384 157.4 385.1Q156.5 386.3 155.2 387.2Q154 388.1 152.5 389Q150.9 390 149.7 391.2Q148.4 392.4 147.9 393.9Q147.3 395.4 147.6 397Q147.8 398.6 148.6 400.1Q149.3 401.7 150 403.2Q150.6 404.8 150.8 406.6Q151.1 408.3 150.7 410.1Q150.4 412 149.3 413.7Q148.3 415.4 146.7 416.8Q145 418.1 143.1 418.7Q141.1 419.3 139.2 419.2Q137.3 419 134.9 416.8Q132.6 414.5 134.2 412Q135.9 409.5 136.9 408.9Q137.8 408.3 138.6 408.1Q139.5 407.9 140.3 407.9Q141.2 407.8 142.3 407.6Q143.4 407.3 144.6 406.8Q145.9 406.2 147.2 405.3Q148.5 404.3 149.8 403.1Q151 401.9 152.2 400.6Q153.4 399.3 154 398Q154.7 396.7 154.6 395.4Q154.6 394.1 154.1 392.5Q153.6 390.9 153.1 389.2Q152.6 387.4 152.5 385.7Q152.5 384 153 382.7Q153.6 381.3 154.6 380.2Q155.6 379.1 156.9 378.2Q158.1 377.2 159.4 376.4Q160.7 375.5 161.9 374.6Q163.1 373.8 164.1 372.9Q165.2 372.1 166.1 371.2Q167.1 370.3 168 369.2Q168.9 368.2 169.9 366.9Q171 365.7 172.4 364.5Q173.8 363.3 175.4 362.6Q177 362 178.4 362.1Q179.9 362.2 181.2 363Q182.6 363.8 184 365Q185.5 366.1 187.2 366.9Q189 367.6 190.8 367.5Q192.6 367.3 194 366.3Q195.3 365.2 196.1 363.6Q196.8 362.1 197.1 360.5Q197.5 358.9 197.8 357.4Q198.1 356 198.6 354.6Q199.2 353.3 200 352Q200.7 350.8 201.8 349.7Q202.8 348.7 204.1 347.8Q205.3 346.9 206.7 346.1Q208.1 345.2 209.4 344.3Q210.7 343.4 211.6 342.3Q212.5 341.1 212.9 339.6Q213.2 338.1 213 336.3L212.8 334.6M208.8 336.6Q206 338.8 205.2 340.3Q204.3 341.8 204.2 343.5Q204 345.2 204.3 346.9Q204.6 348.6 204.9 350.2Q205.3 351.8 205.5 353.5Q205.8 355.1 205.8 356.7Q205.9 358.4 205.6 360Q205.2 361.6 204.4 363.1Q203.6 364.6 202.3 365.8Q201 367 199.4 367.8Q197.8 368.7 196.3 369.4Q194.8 370.2 193.6 371.2Q192.4 372.2 191.7 373.6Q191 374.9 190.6 376.7Q190.1 378.4 189.6 380.1Q189.1 381.8 188.2 383.3Q187.3 384.7 186 385.7Q184.6 386.7 183 387.2Q181.3 387.8 179.6 387.9Q177.8 388.1 176.1 388Q174.5 387.8 172.9 387.5Q171.3 387.2 169.9 386.8Q168.5 386.4 167.1 386.1Q165.7 385.8 164.1 385.7Q162.6 385.5 160.9 385.6Q159.1 385.7 157.3 385.7Q155.5 385.8 153.9 385.5Q152.3 385.3 151 384.6Q149.7 383.9 148.6 382.8Q147.4 381.6 146 380.5Q144.7 379.4 143.1 378.7Q141.5 378 139.8 378Q138 378 136.4 378.7Q134.8 379.4 133.4 380.5Q132.1 381.5 130.9 382.8Q129.8 384.1 129 385.9Q128.3 387.8 127.6 389.4Q126.9 391 126.1 392.4Q125.3 393.8 124.4 394.8Q123.5 395.9 122.3 396.6Q121.1 397.3 117.7 397Q114.4 396.7 113.8 393Q113.1 389.4 114.2 387.8Q115.2 386.2 116.7 385.3Q118.1 384.3 119.9 383.8Q121.6 383.2 123.5 383.1Q125.4 382.9 127.4 383.1Q129.4 383.4 131 383.2Q132.7 383.1 134.3 383Q135.8 382.9 137.2 382.8Q138.7 382.6 140.1 382.2Q141.5 381.8 143 381.1Q144.6 380.4 146.3 379.7Q148.1 379 150 378.7Q151.9 378.4 153.5 378.9Q155.1 379.3 156.4 380.4Q157.6 381.5 158.7 383Q159.7 384.4 160.8 385.8Q162 387.2 163.4 388.2Q164.8 389.2 166.5 389.7Q168.1 390.1 169.8 390Q171.5 389.9 173.1 389.4Q174.7 388.8 176.1 388Q177.5 387.2 178.6 386.1Q179.8 385.1 180.9 384.1Q182 383.1 183.3 382.2Q184.5 381.4 186 380.8Q187.5 380.2 189.3 379.8Q191.1 379.4 192.9 378.8Q194.7 378.3 196.1 377.4Q197.5 376.5 198.4 375Q199.3 373.6 199.7 371.9Q200 370.1 200.2 368.4Q200.3 366.6 200.5 365Q200.8 363.4 201.2 362Q201.6 360.5 202.2 359.1Q202.8 357.8 203.5 356.3Q204.2 354.9 204.8 353.4Q205.5 351.9 206.2 350.4Q206.9 348.8 207.5 347.4Q208.1 345.9 208.5 344.5Q208.8 343.1 208.9 341.6Q208.9 340.1 208.9 338.4L208.8 336.6M212.9 332.1Q209.5 333.4 208.1 334.4Q206.7 335.5 205.7 336.8Q204.7 338.1 203.9 339.6Q203 341 202.1 342.5Q201.2 344 200.2 345.4Q199.2 346.8 198.1 348.1Q196.9 349.4 195.6 350.5Q194.3 351.6 192.8 352.3Q191.3 353.1 189.5 353.4Q187.7 353.7 185.8 353.7Q183.9 353.7 182.2 353.7Q180.5 353.6 179 353.8Q177.6 354 176.2 354.6Q174.9 355.2 173.3 355.8Q171.7 356.4 169.9 356.5Q168.1 356.6 166.4 356.1Q164.6 355.6 163.2 354.6Q161.8 353.5 160.6 352.3Q159.4 351 158.3 349.8Q157.1 348.5 155.9 347.3Q154.6 346.1 153.2 345Q151.8 343.9 150.2 343.2Q148.6 342.5 146.9 342.3Q145.1 342.1 143.3 342.5Q141.5 342.9 139.7 343.7Q138 344.4 136.3 345.1Q134.7 345.7 133.1 345.9Q131.5 346.1 130 345.8Q128.4 345.5 126.7 345.2Q125 344.8 123.3 344.9Q121.5 345 119.9 345.8Q118.3 346.6 117.1 348Q115.9 349.4 115.2 351.1Q114.5 352.8 114.2 354.6Q113.9 356.3 114.5 358.3Q115.1 360.3 115.7 362.2Q116.3 364.2 116.3 366.1Q116.2 368 115.3 369.7Q114.4 371.4 110.7 372.1Q107 372.7 105.7 369.6Q104.4 366.4 105 365.1Q105.5 363.8 106.7 362.6Q107.9 361.4 109.6 360.2Q111.2 359 112.9 357.8Q114.5 356.6 115.5 355.3Q116.5 353.9 117.4 352.7Q118.4 351.5 119.4 350.4Q120.4 349.3 121.4 348Q122.4 346.7 123.6 345.3Q124.8 343.9 126.3 342.7Q127.8 341.4 129.6 340.6Q131.3 339.9 133.1 340Q134.9 340 136.6 340.8Q138.2 341.6 139.8 342.7Q141.4 343.7 142.9 344.6Q144.4 345.5 145.9 346Q147.4 346.5 149 346.8Q150.6 347 152.2 347.2Q153.9 347.5 155.6 347.8Q157.3 348.2 159 348.7Q160.6 349.3 162.2 349.9Q163.7 350.6 165.1 351.4Q166.5 352.2 167.7 353.2Q168.9 354.3 170.3 355.6Q171.6 356.8 173.3 358Q175 359.1 177 359.6Q178.9 360.1 180.8 359.6Q182.6 359 184 357.8Q185.4 356.5 186.5 355Q187.5 353.5 188.6 352Q189.7 350.6 190.9 349.5Q192.1 348.4 193.6 347.6Q195 346.8 196.6 346.1Q198.1 345.4 199.7 344.7Q201.3 344 202.9 343.3Q204.5 342.5 206 341.6Q207.5 340.6 208.7 339.5Q209.9 338.4 210.8 337Q211.7 335.5 212.3 333.8L212.9 332.1M210.1 333.5Q206.9 334 205.6 334.4Q204.4 334.8 203.3 335.5Q202.2 336.3 201.2 337.4Q200.3 338.4 199.3 339.6Q198.4 340.8 197.5 342Q196.6 343.2 195.7 344.3Q194.9 345.4 193.9 346.3Q192.9 347.2 191.7 347.9Q190.5 348.6 189 349.1Q187.6 349.5 186 349.9Q184.5 350.3 183 350.8Q181.5 351.4 180.5 352.5Q179.4 353.6 179 355.2Q178.7 356.8 179 358.6Q179.3 360.5 179.9 362.1Q180.5 363.7 181 365Q181.4 366.3 181.4 367.4Q181.3 368.6 180.8 370Q180.3 371.3 179.7 372.8Q179 374.2 178.5 375.6Q177.9 377.1 177.6 378.4Q177.2 379.7 177 380.9Q176.8 382.2 176.6 383.5Q176.5 384.8 176.3 386.1Q176.1 387.5 175.9 389Q175.6 390.5 175.1 392Q174.6 393.4 173.8 394.6Q173 395.8 171.7 396.6Q170.4 397.4 168.7 397.7Q167.1 398 165.3 398Q163.6 398 162.1 398Q160.7 398.1 159.5 398.5Q158.4 399 157.5 399.9Q156.5 400.9 155.5 402.1Q154.4 403.3 153.3 404.7Q152.1 406.1 150.9 407.3Q149.7 408.4 148.6 409.4Q147.6 410.3 146.7 410.9Q145.9 411.6 145 411.8Q144.1 412 141.2 411.1Q138.4 410.2 138.5 406.6Q138.6 403 140.1 401.8Q141.6 400.6 143.3 400.2Q145 399.8 146.7 400.1Q148.3 400.4 149.9 401.1Q151.4 401.8 152.9 402.7Q154.5 403.7 156.2 404.3Q157.8 404.9 159.5 405.1Q161.2 405.2 162.7 404.5Q164.1 403.8 165 402.4Q165.9 401.1 166.4 399.4Q166.9 397.8 167.3 396.2Q167.8 394.7 168.4 393.5Q169.1 392.3 170.2 391.5Q171.2 390.7 172.4 389.9Q173.7 389.2 175 388.4Q176.3 387.6 177.4 386.5Q178.5 385.5 179.3 384.1Q180 382.8 180.4 381.3Q180.7 379.9 180.5 378.4Q180.2 376.9 179.6 375.6Q178.9 374.2 177.9 372.9Q177 371.6 176.3 370.2Q175.5 368.8 175.4 367.2Q175.2 365.6 176 364.1Q176.7 362.7 178.1 361.6Q179.4 360.5 180.8 359.8Q182.3 359.1 183.4 358.4Q184.5 357.6 185.2 356.6Q185.9 355.5 186.3 354Q186.7 352.6 187.1 351Q187.6 349.5 188.2 348Q188.8 346.6 189.7 345.5Q190.5 344.4 191.7 343.5Q192.9 342.7 194.2 342.1Q195.5 341.5 197 341.2Q198.4 340.9 199.9 340.7Q201.4 340.5 202.8 340.2Q204.3 340 205.6 339.4Q207 338.8 208.1 337.7Q209.1 336.6 209.6 335L210.1 333.5M208.9 332.2Q205.6 331.6 204.1 331.6Q202.5 331.7 201.1 332.2Q199.7 332.7 198.3 333.5Q197 334.3 195.6 335.2Q194.3 336 192.9 336.9Q191.5 337.7 190 338.3Q188.5 339 186.9 339.2Q185.3 339.5 183.7 339.2Q182.2 338.8 180.7 338Q179.2 337.1 177.7 336Q176.3 334.9 174.6 334.2Q172.9 333.5 171.1 333.7Q169.4 333.8 167.9 335Q166.4 336.2 165.5 338Q164.5 339.7 163.9 341.4Q163.2 343.1 162.4 344.5Q161.6 345.9 160.5 346.9Q159.3 347.8 157.9 348.5Q156.4 349.1 154.8 349.6Q153.3 350.1 151.7 350.5Q150.2 351 148.7 351.6Q147.2 352.2 145.9 353Q144.5 353.9 143.4 355Q142.4 356.2 141.8 357.7Q141.1 359.3 140.8 361Q140.4 362.7 139.9 364.5Q139.3 366.2 138.1 367.5Q137 368.9 135.2 369.4Q133.4 369.9 131.4 369.4Q129.5 369 127.8 368.1Q126.1 367.1 124.6 366.3Q123.1 365.5 121.7 365.3Q120.2 365 118.6 365.3Q117.1 365.6 115.5 366.3Q114 366.9 112.5 367.7Q111 368.6 109.6 369.9Q108.1 371.1 106.6 372.1Q105 373.1 103.3 373.6Q101.7 374.2 100 374.2Q98.3 374.3 96.8 373.7Q95.3 373.2 93.5 370.2Q91.6 367.2 94 364.5Q96.4 361.7 97.9 361.4Q99.5 361.1 100.8 361.5Q102.2 361.8 103.5 362.5Q104.9 363.2 106.4 364.1Q107.8 365 109.4 366.1Q111 367.3 112.5 368Q114 368.7 115.5 369.2Q117 369.8 118.5 370.1Q120 370.5 121.6 370.3Q123.1 370.2 124.7 369.4Q126.2 368.6 127.5 367.4Q128.9 366.2 129.9 365.1Q130.9 364 131.9 363.3Q132.9 362.6 134.2 362.3Q135.6 362 137.3 361.7Q139.1 361.4 140.8 361Q142.5 360.5 143.9 359.8Q145.3 359.1 146.4 358.1Q147.4 357.1 148.3 355.9Q149.2 354.7 150.1 353.3Q150.9 352 151.8 350.7Q152.7 349.3 153.6 348Q154.4 346.6 155.4 345.4Q156.3 344.2 157.5 343.2Q158.6 342.3 160.1 341.7Q161.7 341.1 163.5 341Q165.2 340.9 166.9 341Q168.5 341.2 169.8 341.2Q171.1 341.2 172.3 340.7Q173.5 340.1 174.8 339.2Q176.2 338.2 177.7 337.2Q179.3 336.2 180.8 335.6Q182.4 334.9 183.8 334.8Q185.3 334.6 186.7 334.8Q188.1 335.1 189.6 335.4Q191.2 335.7 192.7 336Q194.3 336.3 196 336.4Q197.6 336.6 199.1 336.6Q200.7 336.6 202.2 336.3Q203.7 336.1 205.1 335.3Q206.5 334.6 207.7 333.4L208.9 332.2M211 331.1Q208 330.4 206.6 330.7Q205.1 330.9 204 331.8Q202.8 332.6 201.9 333.8Q201.1 335 200.4 336.3Q199.7 337.6 199.2 338.9Q198.6 340.2 197.9 341.4Q197.3 342.6 196.4 343.6Q195.6 344.6 194.5 345.3Q193.4 346.1 191.9 346.5Q190.5 347 189 347.4Q187.4 347.7 186 348.3Q184.6 348.9 183.7 349.9Q182.8 350.9 182.5 352.4Q182.2 353.8 182.3 355.6Q182.4 357.3 182.5 359Q182.7 360.7 182.3 362.1Q181.9 363.5 180.9 364.5Q179.9 365.5 178.4 366Q176.9 366.6 175.3 366.8Q173.6 367 172.2 367.1Q170.7 367.2 169.5 367.5Q168.2 367.8 167.1 368.2Q166 368.7 164.9 369.3Q163.7 370 162.6 370.7Q161.4 371.5 160.2 372.3Q159 373.1 157.8 373.8Q156.5 374.4 155.2 374.7Q153.9 375 152.6 374.8Q151.2 374.6 149.8 373.8Q148.4 373.1 147 372.2Q145.6 371.3 144.2 370.7Q142.9 370 141.6 370.1Q140.3 370.1 139.1 370.9Q137.8 371.7 136.5 372.8Q135.3 374 134 375Q132.8 376.1 131.5 376.6Q130.3 377.2 129 377.2Q127.8 377.2 126.5 376.9Q125.2 376.6 123.8 376.4Q122.4 376.1 121 376.2Q119.6 376.3 118.2 376.8Q116.9 377.2 115.8 378.1Q114.7 379 113.9 380.2Q113.1 381.4 112.7 382.8Q112.2 384.2 112.3 386Q112.5 387.7 112.5 389.3Q112.5 390.9 112.3 392.3Q112.1 393.7 111.5 394.9Q111 396.1 110 397Q109 397.9 105.7 398Q102.5 398.1 101.4 395Q100.3 391.9 100.7 390.6Q101.2 389.4 102.1 388.4Q103.1 387.4 104.4 386.7Q105.7 386 107.2 385.4Q108.8 384.9 110.5 384.5Q112.2 384.2 113.5 383.6Q114.8 383.1 115.9 382.4Q116.9 381.7 117.8 380.9Q118.8 380.1 119.6 379.2Q120.5 378.3 121.5 377.2Q122.4 376.1 123.5 375Q124.6 373.9 125.8 373Q127.1 372.2 128.5 371.8Q129.8 371.5 131.2 371.8Q132.6 372.2 133.9 373.1Q135.3 374 136.7 375.1Q138 376.1 139.4 376.7Q140.8 377.4 142.1 377.3Q143.5 377.1 144.7 376.3Q146 375.5 147.2 374.3Q148.4 373.1 149.6 372.1Q150.8 371 152.1 370.5Q153.3 370 154.6 370Q155.9 370 157.3 370.3Q158.6 370.7 160 371.1Q161.4 371.5 162.8 371.8Q164.3 372 165.7 372Q167.1 372 168.5 371.6Q169.8 371.2 171 370.3Q172.1 369.5 172.9 368.2Q173.6 367 174.1 365.5Q174.5 364.1 174.9 362.8Q175.3 361.5 176 360.5Q176.7 359.5 177.9 358.8Q179.1 358.2 180.8 357.7Q182.4 357.3 184.1 356.9Q185.8 356.5 187 355.8Q188.3 355.2 189 354.1Q189.6 353.1 189.9 351.6Q190.2 350.2 190.4 348.6Q190.5 347 190.9 345.5Q191.2 344 191.9 342.9Q192.6 341.7 193.6 340.8Q194.6 339.9 195.9 339.3Q197.1 338.6 198.4 338.1Q199.7 337.6 201.1 337.2Q202.4 336.8 203.7 336.5Q204.9 336.1 206 335.6Q207.1 335.1 208 334.3Q209 333.4 210 332.3L211 331.1M208.3 330.5Q205.5 329.1 204.2 328.6Q202.9 328.2 201.6 328.1Q200.2 328 198.8 328.2Q197.3 328.3 195.9 328.7Q194.4 329.1 193 329.6Q191.6 330.1 190.3 330.7Q189 331.3 187.8 331.7Q186.6 332.2 185.2 332.3Q183.9 332.4 182.4 332.1Q180.9 331.9 179.3 331.5Q177.6 331.1 176 330.9Q174.4 330.8 173.1 331.2Q171.7 331.6 170.7 332.6Q169.6 333.6 168.7 335Q167.8 336.5 166.9 337.9Q165.9 339.4 164.9 340.4Q163.9 341.5 162.8 342.1Q161.7 342.8 160.4 343.1Q159.1 343.5 157.7 343.9Q156.4 344.4 155.1 345.1Q153.8 345.8 152.7 346.9Q151.7 347.9 151 349.2Q150.2 350.5 149.9 352Q149.6 353.4 149.7 354.9Q149.8 356.5 150.2 358Q150.6 359.5 150.8 361.1Q151.1 362.7 150.9 364.2Q150.6 365.8 149.6 367Q148.5 368.3 146.8 369Q145.1 369.6 143.3 369.8Q141.5 369.9 139.9 369.9Q138.4 369.9 137.2 370.2Q136 370.5 135 371.3Q133.9 372.2 132.9 373.3Q131.9 374.4 130.7 375.5Q129.6 376.6 128.4 377.4Q127.1 378.2 125.8 378.7Q124.5 379.2 123.1 379.3Q121.7 379.5 120.2 379.4Q118.8 379.3 117.3 379Q115.8 378.7 114.4 378.2Q112.9 377.7 111.6 377.3Q110.3 376.9 109.1 376.7Q107.9 376.5 106.5 376.8Q105.2 377 103.6 377.4Q102 377.9 100.2 378.2Q98.5 378.5 96.8 378.5Q95.2 378.5 93.7 378.3Q92.2 378.1 91 377.7Q89.9 377.3 89 376.6Q88.1 375.9 87 373.1Q85.8 370.4 88.6 368.3Q91.4 366.3 93.2 366.5Q94.9 366.8 96.2 367.6Q97.6 368.4 98.5 369.6Q99.5 370.7 100.3 372.1Q101 373.4 101.8 375Q102.5 376.5 103.5 378Q104.5 379.5 105.9 380.4Q107.2 381.4 108.7 381.6Q110.3 381.8 111.7 381.4Q113.2 381 114.6 380.3Q115.9 379.6 117.2 378.8Q118.5 378 119.7 377.4Q121 376.7 122.3 376.1Q123.6 375.6 124.9 375.4Q126.3 375.1 127.8 375.2Q129.2 375.3 130.8 375.7Q132.4 376.1 134 376.4Q135.6 376.7 137.2 376.6Q138.8 376.4 140.1 375.6Q141.4 374.7 142.2 373.2Q143 371.7 143.3 370Q143.6 368.3 143.7 366.9Q143.9 365.4 144.3 364.3Q144.7 363.2 145.5 362.2Q146.4 361.2 147.5 360.1Q148.7 359 149.8 357.9Q150.8 356.7 151.7 355.5Q152.5 354.4 153 353.1Q153.6 351.9 153.9 350.7Q154.3 349.4 154.6 348.1Q155 346.7 155.4 345.3Q155.9 343.8 156.6 342.4Q157.2 340.9 158.2 339.6Q159.2 338.4 160.5 337.6Q161.8 336.9 163.3 336.8Q164.8 336.7 166.5 337Q168.1 337.4 169.8 337.8Q171.5 338.2 173 338.1Q174.5 338.1 175.7 337.4Q176.9 336.7 177.9 335.5Q178.9 334.2 179.8 332.8Q180.7 331.3 181.8 330.1Q182.9 328.9 184.3 328.3Q185.7 327.6 187.2 327.5Q188.7 327.4 190.2 327.8Q191.6 328.1 193 328.7Q194.4 329.2 195.7 329.8Q197 330.5 198.4 331Q199.7 331.6 201.1 331.9Q202.5 332.2 204 332Q205.5 331.9 206.9 331.2L208.3 330.5M209.3 329.4Q206.4 328.3 204.9 328.2Q203.5 328 202 328.3Q200.6 328.5 199.1 329.1Q197.7 329.8 196.5 330.7Q195.2 331.6 194.2 332.8Q193.2 333.9 192.4 335.1Q191.5 336.3 190.7 337.3Q189.9 338.3 188.7 339.1Q187.6 339.9 186.1 340.5Q184.6 341 182.9 341.5Q181.2 342 179.8 342.6Q178.4 343.1 177.4 343.9Q176.5 344.7 175.8 345.9Q175.1 347.1 174.3 348.5Q173.5 349.9 172.3 351.1Q171.2 352.2 169.8 352.9Q168.4 353.5 166.8 353.6Q165.3 353.6 163.8 353.3Q162.3 353.1 160.8 352.7Q159.4 352.3 157.9 352Q156.4 351.7 154.9 351.6Q153.4 351.5 152 351.6Q150.5 351.8 149.1 352.4Q147.8 352.9 146.5 353.8Q145.2 354.6 143.9 355.7Q142.6 356.7 141.1 357.4Q139.6 358.1 138 358.2Q136.4 358.2 134.9 357.4Q133.4 356.6 132.2 355.3Q131 353.9 129.9 352.6Q128.9 351.2 127.7 350.3Q126.5 349.3 125.1 349Q123.7 348.6 122 348.8Q120.4 348.9 118.8 349.4Q117.2 349.9 115.8 350.5Q114.4 351.1 113.1 351.7Q111.9 352.3 110.7 352.8Q109.5 353.4 108.2 353.8Q107 354.3 105.6 354.7Q104.2 355.2 102.3 355.1Q100.4 355.1 98.6 355.2Q96.9 355.4 95.4 355.7Q93.8 356 92.6 356.5Q91.4 357.1 90.5 358Q89.7 359 89.4 362.3Q89.1 365.7 92.4 367.1Q95.6 368.5 97.2 367.9Q98.8 367.4 99.9 366.2Q101 365.1 101.8 363.6Q102.5 362.1 102.9 360.4Q103.4 358.7 103.7 356.9Q104 355 105 353.7Q105.9 352.4 107.1 351.5Q108.3 350.5 109.7 349.9Q111.2 349.3 112.7 349.3Q114.3 349.2 115.8 349.7Q117.2 350.1 118.5 350.9Q119.7 351.7 120.9 352.5Q122.1 353.4 123.4 353.9Q124.7 354.5 126.2 354.5Q127.7 354.6 129.4 354.1Q131.1 353.7 132.6 353.1Q134.1 352.5 135.5 352.2Q136.8 351.9 138.1 352.1Q139.4 352.3 140.8 352.9Q142.2 353.5 143.7 354.2Q145.2 354.8 146.8 355.2Q148.3 355.5 149.8 355.5Q151.2 355.4 152.6 355Q153.9 354.7 155.3 354.1Q156.6 353.5 158 352.9Q159.4 352.2 160.7 351.5Q162.1 350.9 163.5 350.3Q164.8 349.8 166.2 349.5Q167.5 349.2 168.9 349.3Q170.3 349.3 171.9 349.7Q173.5 350 175.3 350.2Q177.2 350.4 178.9 350Q180.6 349.6 181.8 348.6Q183 347.5 183.6 346Q184.1 344.4 184.3 342.7Q184.5 341 184.8 339.3Q185.1 337.7 185.9 336.3Q186.7 334.9 187.9 334Q189.2 333 190.7 332.5Q192.2 332 193.7 331.8Q195.2 331.7 196.7 331.6Q198.1 331.6 199.5 331.6Q200.9 331.7 202.3 331.6Q203.7 331.5 205.1 331.1Q206.5 330.8 207.9 330.1L209.3 329.4M207 326.9Q204.4 325.2 203 324.7Q201.6 324.3 200.1 324.2Q198.7 324.1 197.2 324.3Q195.8 324.5 194.3 324.9Q192.8 325.3 191.3 325.9Q189.9 326.4 188.4 326.9Q186.9 327.4 185.6 327.6Q184.2 327.9 182.8 327.5Q181.5 327.2 180.1 326.5Q178.6 325.8 177 325.1Q175.3 324.4 173.6 324.3Q171.8 324.1 170.4 324.8Q168.9 325.5 167.9 326.9Q167 328.3 166.3 329.9Q165.7 331.6 165 333.1Q164.3 334.6 163.4 335.8Q162.5 337 161.2 337.8Q160 338.5 158.6 339Q157.2 339.5 155.7 339.8Q154.2 340.1 152.7 340.4Q151.2 340.7 149.7 341.1Q148.2 341.5 146.9 342.2Q145.5 342.8 144.5 343.9Q143.4 344.9 142.8 346.3Q142.1 347.8 141.6 349.4Q141 351.1 140.3 352.7Q139.6 354.2 138.4 355.3Q137.2 356.4 135.5 356.6Q133.9 356.9 132 356.4Q130.2 355.9 128.6 355Q127 354.2 125.5 353.6Q124.1 353 122.7 352.9Q121.4 352.8 120 353.2Q118.6 353.6 117.2 354.2Q115.7 354.8 114.3 355.7Q112.8 356.6 111.3 357.6Q109.8 358.5 108.2 359.2Q106.6 359.9 104.9 360.1Q103.2 360.4 101.5 360.1Q99.8 359.7 98.4 358.7Q96.9 357.7 96.1 354.2Q95.3 350.7 98.1 349Q101 347.2 102.2 347.3Q103.4 347.3 104.4 347.8Q105.5 348.2 106.6 349Q107.8 349.8 109 350.8Q110.2 351.8 111.6 353Q112.9 354.1 114.3 355.1Q115.7 356.1 117.1 356.8Q118.5 357.5 120 357.9Q121.5 358.4 123 358.2Q124.5 358.1 125.9 357.3Q127.3 356.5 128.5 355.2Q129.7 353.9 130.7 352.6Q131.6 351.4 132.6 350.5Q133.5 349.7 134.8 349.4Q136.1 349.1 137.8 349.1Q139.4 349 141.2 348.9Q142.9 348.8 144.5 348.5Q146 348.1 147.2 347.3Q148.4 346.6 149.3 345.5Q150.3 344.5 151.1 343.2Q152 342 152.9 340.8Q153.8 339.5 154.7 338.3Q155.7 337.1 156.7 336.1Q157.7 335 158.8 334.2Q160 333.4 161.4 333Q162.8 332.5 164.5 332.4Q166.2 332.3 167.9 332.3Q169.6 332.3 171 332.1Q172.4 331.9 173.5 331.3Q174.5 330.6 175.4 329.3Q176.3 328.1 177.4 326.6Q178.5 325.1 179.9 324Q181.3 322.8 182.8 322.4Q184.3 321.9 185.8 322.2Q187.3 322.5 188.7 323.2Q190.1 323.9 191.4 324.7Q192.8 325.5 194.2 326.1Q195.6 326.8 197 327.2Q198.4 327.6 199.8 327.8Q201.2 327.9 202.6 327.8Q204 327.7 205.5 327.3L207 326.9M208 325.9Q206.7 322.8 206 321.4Q205.2 319.9 204.3 318.6Q203.3 317.3 202.1 316.2Q200.8 315 199.2 314.2Q197.7 313.4 195.9 313Q194.2 312.5 192.5 312.2Q190.9 311.9 189.4 311.2Q187.9 310.6 186.8 309.4Q185.6 308.2 184.8 306.4Q183.9 304.7 183.3 302.9Q182.6 301.1 181.7 299.6Q180.9 298.1 179.6 297.1Q178.3 296.1 176.6 295.5Q174.9 295 173.1 294.8Q171.2 294.5 169.5 294.5Q167.7 294.6 166.1 294.7Q164.6 294.9 163.1 295.2Q161.6 295.4 160.2 295.7Q158.7 295.9 157.1 296Q155.5 296.1 153.7 296Q151.9 296 150.1 295.8Q148.4 295.6 146.8 295.5Q145.3 295.5 143.9 295.9Q142.5 296.3 141 297.1Q139.6 297.9 137.9 298.7Q136.2 299.6 134.4 300Q132.6 300.4 131 300.2Q129.4 299.9 127.9 299.3Q126.4 298.6 124.9 297.7Q123.4 296.9 121.9 296.1Q120.3 295.3 118.8 294.7Q117.3 294.1 115.8 293.5Q114.3 292.9 112.9 292.4Q111.5 291.9 110 291.4Q108.6 291 106.9 290.5Q105.2 290 103.5 289.1Q101.7 288.2 100.3 286.8Q98.9 285.4 98 283.8Q97.1 282.2 96.8 280.5Q96.4 278.9 97.8 276.1Q99.2 273.4 102 274.8Q104.9 276.2 105.6 277.7Q106.2 279.1 106.4 280.6Q106.5 282 106.4 283.6Q106.3 285.2 106.3 287Q106.4 288.8 107 290.6Q107.7 292.4 109 293.7Q110.3 295 111.9 295.6Q113.5 296.3 115.2 296.5Q116.9 296.6 118.6 296.5Q120.2 296.3 121.9 295.9Q123.6 295.5 125.3 295.1Q127.1 294.7 128.8 294.6Q130.5 294.5 132 294.9Q133.6 295.4 135 296.4Q136.5 297.4 138 298.6Q139.5 299.9 141.3 300.8Q143.1 301.7 144.9 301.8Q146.8 301.8 148.4 301.1Q150 300.3 151.3 299Q152.6 297.8 153.9 296.5Q155.1 295.2 156.5 294.2Q158 293.2 159.7 292.6Q161.3 292 163.1 292Q164.9 292 166.5 292.5Q168.2 293.1 169.5 294.1Q170.9 295.2 171.9 296.5Q172.9 297.8 173.8 299.1Q174.8 300.4 176 301.5Q177.2 302.5 178.9 303.1Q180.6 303.7 182.5 303.9Q184.4 304 186.2 304.2Q188.1 304.3 189.7 304.8Q191.3 305.3 192.6 306.4Q193.9 307.4 194.9 308.9Q195.9 310.4 196.7 312Q197.5 313.6 198.3 315.1Q199 316.5 199.9 317.9Q200.7 319.3 201.7 320.5Q202.7 321.8 203.9 323Q205.1 324.2 206.6 325.1L208 325.9M215 330Q213.4 326.8 212.1 325.5Q210.7 324.3 209 323.6Q207.3 322.8 205.4 322.8Q203.5 322.8 201.7 323.5Q199.9 324.1 198.4 325.2Q196.8 326.4 195.3 327.4Q193.7 328.4 192.1 328.8Q190.4 329.2 188.6 328.7Q186.8 328.2 185.1 327Q183.3 325.8 181.7 324.5Q180.1 323.3 178.4 322.6Q176.8 321.9 175.2 321.9Q173.5 321.9 171.8 322.4Q170.1 323 168.4 323.5Q166.7 324.1 164.9 324.4Q163.2 324.7 161.4 324.6Q159.6 324.5 157.9 323.9Q156.2 323.2 154.8 321.9Q153.5 320.6 152.8 318.8Q152.1 316.9 152 314.9Q152 312.9 152.2 311.1Q152.4 309.3 152.1 307.7Q151.9 306.2 150.8 304.8Q149.7 303.5 148 302.3Q146.3 301.2 144.6 300.1Q142.9 299 141.6 297.7Q140.4 296.4 139.8 294.9Q139.1 293.3 139 291.5Q138.8 289.8 138.8 288Q138.9 286.1 138.9 284.4Q138.8 282.6 138.7 280.8Q138.5 279.1 137.9 277.4Q137.3 275.7 136.1 274.3Q134.9 272.9 133.1 272.1Q131.2 271.4 129.2 271.4Q127.2 271.4 125.4 271.7Q123.7 272.1 122.2 272.5Q120.7 273 119.2 273.4Q117.8 273.8 116.3 273.9Q114.8 274.1 113.3 273.8Q111.7 273.5 109.3 271.4Q106.8 269.3 108.9 266.7Q111 264.1 112.8 263.6Q114.5 263.1 116.4 263.1Q118.3 263.2 120.2 263.7Q122.1 264.3 123.9 265.3Q125.7 266.3 127.1 267.7Q128.5 269.1 129.3 270.8Q130.2 272.5 130.8 274Q131.5 275.5 132.3 276.7Q133.1 278 134.1 279.2Q135.1 280.5 136.2 281.8Q137.3 283.2 138.5 284.5Q139.6 285.8 140.8 287.1Q142.1 288.5 143.2 289.8Q144.3 291.1 145 292.6Q145.7 294.1 145.8 295.9Q145.9 297.7 145.5 299.7Q145.1 301.6 144.6 303.6Q144.1 305.5 144.1 307.3Q144.2 309.1 145.1 310.7Q146 312.2 147.6 313.5Q149.2 314.7 150.9 315.5Q152.7 316.4 154.2 317.1Q155.6 317.8 156.9 318.5Q158.2 319.3 159.5 320.1Q160.7 321 162.1 321.8Q163.5 322.7 165.1 323.6Q166.6 324.5 168.2 325.5Q169.8 326.4 171.5 327.1Q173.1 327.9 174.8 328.2Q176.4 328.4 178.2 327.9Q179.9 327.4 181.6 326.3Q183.3 325.2 184.9 324Q186.5 322.8 188 322.1Q189.6 321.4 191.2 321.5Q192.9 321.5 194.7 322.1Q196.4 322.7 198.2 323.5Q199.9 324.3 201.5 325Q203.1 325.7 204.5 326.2Q205.9 326.6 207.3 327.1Q208.7 327.5 210.2 328Q211.7 328.6 213.3 329.3L215 330M213.6 328.2Q212.9 325.1 212.3 323.6Q211.6 322.2 210.7 320.9Q209.8 319.6 208.7 318.5Q207.6 317.5 206.2 316.6Q204.9 315.7 203.4 314.8Q202 314 200.7 312.8Q199.4 311.6 198.7 310Q198 308.4 198.2 306.6Q198.4 304.7 199.4 303.1Q200.4 301.4 201.6 300Q202.8 298.6 203.7 297.4Q204.6 296.1 205.1 294.7Q205.5 293.3 205.5 291.7Q205.5 290.2 205.4 288.6Q205.2 286.9 205.3 285.3Q205.3 283.7 205.5 282.1Q205.8 280.6 206.3 279.1Q206.8 277.7 207.6 276.3Q208.3 275 209.2 273.7Q210.2 272.5 211.3 271.3Q212.4 270.1 213.4 268.6Q214.4 267.2 214.8 265.5Q215.3 263.9 214.9 262.1Q214.5 260.4 213.3 258.9Q212 257.5 210.3 256.5Q208.7 255.6 207.1 254.9Q205.6 254.1 204.5 253.2Q203.4 252.3 202.6 251Q201.9 249.7 201.4 248.1Q200.8 246.6 200.3 245Q199.7 243.4 199 242Q198.3 240.6 197.4 239.4Q196.4 238.1 195.4 237.1Q194.3 236 193 235.1Q191.8 234.2 190.3 233.5Q188.9 232.7 186.8 232.2Q184.8 231.7 183.1 230.6Q181.4 229.5 180.3 227.8Q179.2 226.1 179.2 224Q179.1 221.9 182.2 219.4Q185.3 217 188 218.8Q190.8 220.6 191 221.6Q191.3 222.5 191 223.7Q190.8 224.9 190.5 226.5Q190.1 228.1 189.8 230.2Q189.5 232.2 190 233.8Q190.4 235.4 191.2 236.8Q192.1 238.1 193.1 239.3Q194.1 240.4 195.3 241.3Q196.5 242.3 197.9 243.1Q199.3 243.9 200.8 244.5Q202.3 245.2 203.9 245.8Q205.4 246.5 206.7 247.5Q208 248.5 208.8 249.9Q209.6 251.3 209.8 253.1Q210.1 254.9 209.8 256.6Q209.6 258.3 209.3 259.8Q209.1 261.2 209.2 262.5Q209.2 263.7 209.7 265.1Q210.1 266.5 210.5 268Q211 269.6 211.2 271.3Q211.3 273 211.1 274.6Q210.9 276.2 210.4 277.6Q209.9 279 209.1 280.3Q208.4 281.7 207.5 282.9Q206.5 284.2 205.5 285.4Q204.4 286.6 203.2 287.8Q202.1 289.1 201.2 290.4Q200.2 291.8 199.8 293.3Q199.4 294.9 199.6 296.5Q199.9 298.2 200.6 299.8Q201.4 301.5 202.3 302.9Q203.1 304.2 203.7 305.5Q204.2 306.7 204.3 308Q204.4 309.3 204.4 310.9Q204.3 312.5 204.5 314.2Q204.6 315.9 205.1 317.5Q205.6 319.1 206.3 320.4Q207.1 321.7 208.1 322.8Q209.1 324 210.2 325Q211.2 326 212.4 327.1L213.6 328.2M214.3 328.4Q214.5 325.1 214.6 323.5Q214.7 321.9 214.7 320.4Q214.7 318.9 214.6 317.4Q214.4 315.9 214 314.3Q213.6 312.8 213.3 310.9Q213 309.1 213.1 307.3Q213.2 305.4 214.1 303.9Q214.9 302.4 216.4 301.4Q217.9 300.4 219.6 299.7Q221.4 299 223 298Q224.6 297.1 225.6 295.6Q226.6 294.2 226.9 292.4Q227.1 290.6 226.6 288.8Q226.2 287 225.5 285.4Q224.7 283.8 223.9 282.3Q223 280.8 222.2 279.5Q221.5 278.1 220.8 276.7Q220.2 275.2 219.9 273.7Q219.5 272.2 219.5 270.5Q219.5 268.8 219.6 266.9Q219.6 265.1 219.4 263.3Q219.1 261.5 218.1 260Q217.1 258.6 215.4 257.8Q213.7 256.9 211.7 256.7Q209.7 256.5 207.8 256.4Q205.9 256.3 204.4 255.9Q202.8 255.5 201.5 254.5Q200.3 253.5 199.3 252Q198.2 250.6 197.5 248.9Q196.7 247.3 196.2 245.7Q195.7 244.1 195.4 242.6Q195.1 241.1 194.8 239.7Q194.5 238.2 194.1 236.8Q193.7 235.4 193.1 233.9Q192.5 232.4 191.7 230.7Q190.9 229.1 190.4 227.3Q189.8 225.6 189.6 223.8Q189.4 222 189.4 220.3Q189.5 218.5 190 216.9Q190.5 215.2 191.6 213.6Q192.7 212.1 195.9 211.2Q199.1 210.2 200.2 213Q201.2 215.8 201 217.2Q200.8 218.6 200.3 220Q199.8 221.3 199.1 222.6Q198.3 223.9 197.4 225.3Q196.5 226.6 195.5 228Q194.5 229.4 193.4 230.9Q192.3 232.4 191.6 234.1Q190.9 235.7 190.9 237.5Q190.8 239.3 191.4 240.9Q192 242.5 193 243.9Q194.1 245.3 195.5 246.2Q196.8 247.2 198.3 247.8Q199.9 248.4 201.4 248.9Q202.9 249.3 204.3 250Q205.7 250.7 206.9 252Q208 253.2 208.8 254.9Q209.6 256.6 210 258.4Q210.5 260.1 211.1 261.5Q211.6 263 212.6 264Q213.6 265 215 265.9Q216.5 266.8 218 267.8Q219.6 268.7 220.9 269.9Q222.2 271.1 223.1 272.5Q223.9 273.9 224.4 275.5Q224.8 277.1 224.9 278.8Q225 280.4 224.8 282.1Q224.6 283.8 224.1 285.3Q223.7 286.9 223 288.2Q222.4 289.6 222 290.9Q221.5 292.2 221.4 293.8Q221.3 295.3 221.4 297.1Q221.5 299 221.5 301Q221.5 302.9 221.2 304.5Q220.9 306.2 220 307.3Q219.1 308.5 217.8 309.4Q216.5 310.4 215 311.6Q213.6 312.7 212.5 314.3Q211.5 315.8 211.1 317.5Q210.8 319.2 211 320.8Q211.2 322.5 211.9 324.1Q212.5 325.6 213.4 327L214.3 328.4M213.3 324.9Q214 322 214 320.6Q214.1 319.1 213.8 317.7Q213.4 316.3 212.6 315.1Q211.8 313.8 210.5 312.9Q209.2 312 207.6 311.4Q206 310.8 204.6 310.5Q203.2 310.1 202.2 309.6Q201.2 309.1 200.5 308.1Q199.8 307.1 199.1 305.6Q198.3 304.1 197.2 302.8Q196.1 301.4 194.7 300.6Q193.3 299.8 191.7 299.9Q190.2 300 188.8 300.8Q187.4 301.6 186.1 302.6Q184.8 303.6 183.5 304.5Q182.2 305.3 180.9 305.8Q179.5 306.3 178.1 306.4Q176.7 306.4 175.3 306.1Q173.9 305.8 172.5 305.2Q171.1 304.6 169.8 303.8Q168.5 303 167.3 302.2Q166.1 301.4 164.9 300.8Q163.6 300.3 162.3 300.3Q160.9 300.3 159.4 300.9Q157.8 301.4 156.2 302.1Q154.6 302.8 153 303.2Q151.4 303.6 150 303.3Q148.6 303 147.5 301.9Q146.4 300.8 145.5 299.2Q144.6 297.7 143.9 296.1Q143.1 294.6 142.3 293.4Q141.5 292.3 140.6 291.5Q139.6 290.8 138.5 290.2Q137.3 289.6 136.1 288.9Q134.9 288.2 133.7 287.3Q132.6 286.3 131.8 285.1Q130.9 283.9 130.5 282.4Q130.1 281 130.2 279.5Q130.3 278 131 276.6Q131.7 275.1 132.9 273.9Q134.1 272.7 135.3 271.6Q136.5 270.4 137.5 269.3Q138.5 268.1 139.3 266.9Q140.1 265.6 140.7 264.2Q141.2 262.8 141.4 261.3Q141.5 259.8 141.1 258.2Q140.6 256.6 137.9 254.5Q135.2 252.3 132.6 254.2Q129.9 256 129.3 257.1Q128.7 258.2 128.6 259.4Q128.4 260.6 128.5 261.9Q128.5 263.2 128.8 264.7Q129.1 266.1 129.5 267.6Q129.9 269.1 130.5 270.7Q131.2 272.3 132 273.7Q132.7 275.2 133.3 276.5Q133.8 277.9 134 279.1Q134.2 280.3 134.2 281.6Q134.2 282.8 134.2 284.2Q134.2 285.6 134.2 287.1Q134.3 288.6 134.7 290.2Q135 291.8 135.7 293.2Q136.4 294.6 137.6 295.6Q138.7 296.6 140.2 296.9Q141.7 297.3 143.4 297Q145 296.8 146.7 296.3Q148.3 295.9 149.7 295.7Q151.2 295.6 152.4 296.2Q153.6 296.8 154.6 298Q155.6 299.2 156.6 300.7Q157.6 302.2 158.7 303.5Q159.8 304.7 161.1 305.4Q162.4 306 163.9 306.1Q165.3 306.1 166.8 305.7Q168.3 305.3 169.7 304.8Q171.2 304.3 172.5 303.8Q173.9 303.3 175.2 303Q176.5 302.7 177.8 302.6Q179.2 302.5 180.6 302.7Q181.9 302.9 183.4 303.4Q184.8 304 186.2 304.7Q187.7 305.4 189 306Q190.3 306.5 191.5 306.6Q192.7 306.6 194 306.1Q195.3 305.5 196.9 304.7Q198.5 303.8 200.3 303.3Q202.1 302.7 203.9 303Q205.6 303.2 206.8 304.4Q208 305.5 208.5 307.1Q209 308.7 209 310.4Q209.1 312 209 313.5Q209 315 209.2 316.3Q209.4 317.5 209.9 318.8Q210.4 320 211.1 321.2Q211.7 322.4 212.5 323.7L213.3 324.9M214.7 325.8Q214.6 322.4 214.4 320.7Q214.2 319 213.7 317.4Q213.3 315.8 212.4 314.4Q211.5 312.9 210.3 311.7Q209 310.4 207.6 309.2Q206.2 308 205 306.6Q203.9 305.2 203.5 303.5Q203.1 301.7 203.5 299.8Q203.9 298 204.9 296.2Q205.9 294.5 207 293.1Q208.1 291.7 209 290.5Q210 289.3 210.7 288Q211.5 286.8 212.3 285.5Q213.2 284.2 214.2 282.8Q215.2 281.5 216.3 280.3Q217.4 279 218.7 277.8Q219.9 276.6 221.2 275.7Q222.6 274.7 224.1 274.1Q225.6 273.5 227.4 273.2Q229.1 273 231 272.7Q232.8 272.5 234.5 272Q236.2 271.4 237.5 270.4Q238.8 269.3 239.7 267.8Q240.6 266.3 241.3 264.6Q242 262.9 242.9 261.3Q243.7 259.7 244.7 258.4Q245.8 257.2 247.1 256.2Q248.4 255.2 249.7 254.3Q251.1 253.4 252.5 252.4Q253.8 251.5 255.1 250.4Q256.4 249.2 257.4 247.8Q258.5 246.4 259.1 244.7Q259.6 243 259.4 241.1Q259.1 239.3 258.1 237.6Q257.1 236 255.4 234.9Q253.8 233.7 252.4 232.8Q250.9 232 249.7 231.1Q248.5 230.2 247.6 228.9Q246.8 227.7 247 224.6Q247.2 221.5 250.4 221.8Q253.5 222.1 254.8 223.4Q256 224.7 256.7 226.5Q257.4 228.3 257.6 230.2Q257.7 232.2 257.3 234.1Q256.9 236 256.4 237.6Q256 239.2 255.7 240.7Q255.5 242.1 255.4 243.6Q255.2 245 255 246.7Q254.8 248.3 254.4 249.9Q253.9 251.6 253.2 253.1Q252.4 254.7 251.5 256.1Q250.5 257.6 249.4 258.8Q248.2 260 246.8 260.8Q245.3 261.7 243.6 262.2Q242 262.8 240.1 263.2Q238.3 263.6 236.7 264.1Q235.1 264.7 233.9 265.7Q232.6 266.8 231.7 268.2Q230.8 269.7 230 271.4Q229.2 273.1 228.2 274.6Q227.2 276.1 225.9 277.2Q224.6 278.2 223.1 278.9Q221.6 279.6 220 280.1Q218.4 280.5 216.8 281Q215.1 281.5 213.5 282.2Q211.9 282.8 210.4 283.8Q208.8 284.8 207.7 286.2Q206.5 287.6 206 289.3Q205.4 291 205.7 292.8Q206 294.5 206.7 296.1Q207.5 297.6 208.2 299Q208.9 300.4 209.2 301.9Q209.5 303.3 209.4 305Q209.4 306.7 209.2 308.6Q209 310.4 209 312.2Q208.9 314 209.3 315.6Q209.7 317.2 210.4 318.6Q211.1 320.1 212 321.5Q212.8 322.9 213.8 324.4L214.7 325.8M215.3 326.5Q215.7 323.3 215.9 321.6Q216 320 215.8 318.5Q215.6 316.9 214.9 315.4Q214.2 314 212.9 312.7Q211.7 311.4 210.2 310.4Q208.7 309.3 207.4 308.3Q206.2 307.3 205.4 306.1Q204.6 304.9 204.3 303.4Q204 301.8 203.8 300.1Q203.7 298.3 203.3 296.6Q202.9 294.9 202.2 293.4Q201.5 292 200.4 290.9Q199.4 289.8 198.2 288.9Q197 287.9 195.9 286.8Q194.8 285.7 193.8 284.4Q192.8 283.1 192.1 281.6Q191.5 280.1 191.3 278.4Q191.1 276.7 191.6 275Q192 273.4 193.2 272Q194.3 270.6 195.7 269.5Q197.2 268.4 198.5 267.3Q199.8 266.2 200.6 264.9Q201.3 263.5 201.4 261.8Q201.5 260.1 201.1 258.3Q200.7 256.4 200.1 254.7Q199.5 253 199.2 251.4Q198.9 249.9 199 248.5Q199.1 247.1 199.4 245.6Q199.7 244.1 200 242.6Q200.3 241 200.5 239.4Q200.7 237.8 200.6 236.1Q200.6 234.5 200.3 233Q200 231.4 199.4 230Q198.8 228.5 197.7 227.3Q196.6 226 195.2 224.8Q193.8 223.7 192.5 222.7Q191.1 221.6 190.2 220.4Q189.3 219.3 188.9 217.9Q188.5 216.4 188.4 214.7Q188.3 213 188.1 211.1Q187.9 209.3 187.4 207.5Q186.9 205.8 186.1 204.2Q185.3 202.7 184.4 201.4Q183.4 200.2 182.2 199.4Q181 198.5 178 198.4Q175.1 198.4 174.9 201.6Q174.7 204.8 175.6 206.2Q176.6 207.5 177.9 208.4Q179.3 209.2 180.8 209.8Q182.3 210.4 183.9 210.8Q185.6 211.3 187.5 211.7Q189.3 212.2 191.1 212.9Q192.8 213.7 194.1 214.9Q195.4 216.1 195.9 217.6Q196.4 219.2 196.4 221Q196.3 222.7 196.1 224.5Q195.8 226.3 195.8 227.9Q195.7 229.5 196 231Q196.3 232.5 197 233.9Q197.6 235.4 198.3 236.7Q199.1 238.1 200 239.5Q200.8 240.9 201.6 242.4Q202.4 243.9 203 245.5Q203.6 247.1 203.6 248.8Q203.7 250.5 203.1 252Q202.4 253.6 201.2 254.9Q199.9 256.2 198.6 257.3Q197.2 258.4 196.1 259.5Q195.1 260.7 194.6 262.2Q194.1 263.7 194.1 265.4Q194.2 267.2 194.5 269Q194.8 270.7 195 272.3Q195.3 273.9 195.3 275.3Q195.3 276.7 195.1 278.1Q194.9 279.5 194.7 281Q194.5 282.5 194.5 284.2Q194.6 285.8 194.8 287.5Q195.1 289.2 195.7 290.8Q196.2 292.4 197.1 293.7Q198 295 199.3 295.9Q200.6 296.9 202.3 297.5Q203.9 298.1 205.7 298.8Q207.5 299.4 208.9 300.4Q210.4 301.4 211.2 302.9Q212.1 304.4 212.1 306.1Q212.2 307.9 211.9 309.7Q211.6 311.5 211.3 313.2Q211 314.8 211.1 316.4Q211.2 317.9 211.7 319.3Q212.2 320.8 213 322.2Q213.7 323.6 214.5 325.1L215.3 326.5M217.4 322.6Q220 320.2 221.3 319.2Q222.6 318.2 223.7 317.1Q224.8 315.9 225.5 314.3Q226.1 312.8 226.2 310.8Q226.2 308.9 225.7 306.9Q225.2 305 224.7 303.5Q224.2 301.9 224.1 300.6Q224 299.3 224.4 297.9Q224.8 296.5 225.3 294.8Q225.7 293 225.9 291.2Q226 289.5 225.8 287.8Q225.5 286.1 224.8 284.7Q224.2 283.2 223.4 281.8Q222.5 280.4 221.6 279Q220.6 277.6 219.5 276.3Q218.4 274.9 217.3 273.6Q216.2 272.3 215.3 270.9Q214.4 269.5 214.1 267.9Q213.7 266.3 213.9 264.5Q214.1 262.7 214.7 260.7Q215.3 258.8 215.8 257.2Q216.4 255.5 216.5 254.1Q216.6 252.7 216.3 251.4Q216 250.1 215.7 248.5Q215.4 246.9 215.6 245.1Q215.7 243.4 216.5 241.8Q217.3 240.2 218.5 239Q219.7 237.8 221.1 236.9Q222.4 235.9 223.9 235.1Q225.3 234.3 227 233.6Q228.7 232.9 230.5 231.9Q232.2 231 233.6 229.5Q235 228 235.8 226.3Q236.7 224.5 236.7 222.6Q236.8 220.7 234.5 218.1Q232.3 215.4 229.6 217.3Q226.9 219.1 226.5 220.4Q226 221.7 226 223.1Q226 224.5 226.2 226Q226.4 227.6 226.5 229.4Q226.7 231.3 226.4 233.2Q226.1 235 225.2 236.6Q224.4 238.1 223.4 239.3Q222.3 240.6 221.2 241.6Q220 242.6 218.6 243.5Q217.3 244.4 215.7 245.4Q214.1 246.4 212.6 247.8Q211.1 249.2 210.2 251.1Q209.4 253 209.7 254.9Q209.9 256.8 211.1 258.3Q212.3 259.8 213.9 261Q215.4 262.2 216.8 263.4Q218.2 264.6 219 266Q219.8 267.5 220.1 269.2Q220.3 270.8 220.3 272.6Q220.2 274.3 220.1 276.1Q220 277.8 220.1 279.5Q220.2 281.2 220.4 282.9Q220.7 284.6 221.2 286.1Q221.8 287.7 222.7 289Q223.7 290.4 225 291.6Q226.3 292.9 227.7 294.3Q229.2 295.6 230.2 297.4Q231.2 299.2 231.2 301.1Q231.2 303.1 230.1 304.8Q229.1 306.4 227.5 307.6Q225.9 308.7 224.4 309.6Q222.8 310.5 221.6 311.6Q220.4 312.7 219.6 314.2Q218.8 315.7 218.3 317.4Q217.8 319.1 217.6 320.8L217.4 322.6M215.4 329.4Q218.4 328.2 219.8 327.6Q221.3 327.1 222.4 326.3Q223.6 325.6 224.5 324.4Q225.3 323.3 226 321.8Q226.6 320.2 227.4 318.5Q228.2 316.8 229.3 315.5Q230.5 314.2 232 313.6Q233.5 313.1 235.2 313.4Q236.9 313.7 238.6 314.4Q240.2 315.1 241.9 315.7Q243.5 316.2 245.1 316.2Q246.7 316.2 248.1 315.4Q249.5 314.7 250.7 313.5Q251.8 312.2 252.5 310.7Q253.3 309.2 253.7 307.6Q254 306.1 254.1 304.6Q254.2 303.1 254.3 301.7Q254.4 300.4 254.8 299.1Q255.2 297.8 256.1 296.5Q257 295.3 258.3 294Q259.6 292.7 260.9 291.6Q262.2 290.4 263 289.3Q263.8 288.2 264 287Q264.2 285.7 264.1 284.2Q263.9 282.6 264.1 280.8Q264.2 279.1 264.9 277.5Q265.6 275.9 266.9 275Q268.2 274 269.8 273.6Q271.4 273.3 273 273.3Q274.7 273.2 276.3 273.3Q277.9 273.3 279.4 273.2Q281 273.1 282.4 272.8Q283.9 272.5 285.3 271.9Q286.6 271.3 287.7 270.2Q288.9 269.2 289.8 267.8Q290.8 266.4 291.7 264.9Q292.5 263.4 293.6 262.1Q294.7 260.9 296.1 260.4Q297.5 259.8 299.2 260Q300.9 260.2 302.7 260.8Q304.5 261.4 306.3 262Q308.1 262.6 309.9 262.9Q311.7 263.2 313.4 263.1Q315.1 262.9 316.8 262.2Q318.4 261.4 319.6 259.9Q320.8 258.4 320.3 254.7Q319.8 250.9 316.6 250.2Q313.4 249.5 312.3 249.9Q311.3 250.3 310.4 251.1Q309.6 251.9 308.7 253.1Q307.8 254.3 306.9 255.7Q306 257.2 305.1 258.9Q304.2 260.6 303.3 262.2Q302.4 263.9 301.4 265.2Q300.4 266.5 299.1 267.1Q297.8 267.7 296.3 267.7Q294.7 267.7 293 267.5Q291.2 267.3 289.5 267.2Q287.9 267.1 286.4 267.3Q284.9 267.5 283.6 268.1Q282.3 268.7 281.1 269.6Q279.9 270.4 278.7 271.4Q277.5 272.5 276.4 273.6Q275.3 274.7 274.3 275.9Q273.3 277 272.2 278Q271.2 278.9 270 279.5Q268.8 280 267.3 280.3Q265.7 280.5 263.8 280.8Q261.9 281.2 260.1 282Q258.3 282.8 257.2 284.2Q256.1 285.6 256 287.3Q255.8 288.9 256.5 290.6Q257.1 292.3 257.9 293.9Q258.7 295.5 259.1 297.1Q259.6 298.7 259.4 300.3Q259.2 301.9 258.4 303.3Q257.7 304.7 256.5 305.9Q255.4 307 254.1 307.9Q252.8 308.7 251.4 309.2Q250.1 309.8 248.8 310.2Q247.6 310.6 246.4 311.1Q245.2 311.7 244 312.6Q242.8 313.5 241.6 314.7Q240.4 316 239.2 317.4Q238.1 318.7 236.9 319.7Q235.7 320.6 234.4 320.9Q233.2 321.2 231.6 320.9Q230 320.6 228.2 320.2Q226.3 319.8 224.5 319.8Q222.7 319.8 221.2 320.4Q219.7 321 218.7 322.2Q217.7 323.4 217 324.9Q216.4 326.3 215.9 327.9L215.4 329.4M220.3 324.2Q223 321.9 224.2 320.8Q225.5 319.7 226.5 318.5Q227.4 317.3 227.9 315.8Q228.4 314.3 228.5 312.5Q228.6 310.7 228.6 308.7Q228.7 306.8 228.9 305.1Q229.2 303.5 229.9 302.2Q230.7 300.9 231.8 299.8Q232.9 298.8 234.2 297.6Q235.5 296.5 236.5 295.1Q237.5 293.7 238.1 292.2Q238.7 290.6 238.9 289Q239.1 287.4 239.1 285.8Q239 284.2 238.9 282.6Q238.7 281 238.6 279.4Q238.4 277.7 238.5 275.9Q238.7 274.1 239.4 272.4Q240.1 270.7 241.6 269.6Q243.1 268.4 245 268.1Q247 267.8 249 268.1Q250.9 268.4 252.7 268.6Q254.4 268.9 256 268.6Q257.5 268.3 258.9 267.4Q260.2 266.4 261.4 265Q262.6 263.6 263.7 262.1Q264.7 260.7 265.8 259.4Q266.8 258.1 267.9 257.1Q269.1 256 270.3 255.1Q271.6 254.2 273 253.5Q274.4 252.7 276.1 252.2Q277.7 251.6 279.4 251.2Q281.1 250.9 282.6 250.6Q284.2 250.2 285.6 249.6Q286.9 249 288 247.8Q289.1 246.6 290.1 245Q291.2 243.5 292.3 242Q293.3 240.5 294.4 239.2Q295.4 237.9 296.2 236.7Q297.1 235.5 297.8 234.5Q298.6 233.5 299.4 232.7Q300.3 232 302.9 231.2Q305.6 230.4 306.4 233.7Q307.2 236.9 306.2 238.7Q305.2 240.5 303.7 241.7Q302.2 242.9 300.4 243.5Q298.7 244.1 296.9 244.3Q295.1 244.4 293.2 244.2Q291.4 244 289.5 243.7Q287.6 243.3 285.9 243.5Q284.1 243.6 282.6 244.4Q281.1 245.3 280 246.6Q278.9 248 278 249.5Q277.2 251 276.4 252.5Q275.5 254 274.6 255.3Q273.6 256.6 272.4 257.8Q271.3 258.9 269.9 259.8Q268.5 260.7 266.9 261.2Q265.3 261.7 263.6 261.7Q261.8 261.8 260.1 261.7Q258.4 261.5 256.8 261.7Q255.2 261.8 253.8 262.6Q252.3 263.4 251.1 264.8Q249.9 266.2 249 267.9Q248.2 269.6 247.4 271Q246.7 272.4 245.9 273.4Q245 274.4 243.9 275.3Q242.7 276.1 241.4 277.2Q240.1 278.2 239 279.5Q237.9 280.9 237.1 282.4Q236.4 283.9 235.9 285.5Q235.5 287 235.4 288.6Q235.3 290.1 235.4 291.7Q235.5 293.3 235.9 295Q236.2 296.7 236.5 298.6Q236.7 300.5 236.6 302.3Q236.4 304.2 235.6 305.6Q234.7 307.1 233.3 308.1Q231.8 309 230 309.7Q228.2 310.4 226.4 311.1Q224.7 311.9 223.5 313.1Q222.2 314.2 221.5 315.7Q220.9 317.3 220.7 319Q220.5 320.7 220.4 322.4L220.3 324.2M215.2 329.8Q218.2 329.5 219.8 329.1Q221.3 328.6 222.4 327.6Q223.6 326.5 224 325Q224.5 323.4 224.2 321.6Q224 319.8 223.4 318.1Q222.9 316.4 222.7 314.9Q222.6 313.3 223.2 312.1Q223.8 310.8 225.2 309.9Q226.7 308.9 228.4 308.4Q230.2 307.8 231.7 307.4Q233.3 307.1 234.5 306.5Q235.8 306 236.7 305.1Q237.6 304.2 238.4 303Q239.1 301.8 239.9 300.5Q240.6 299.2 241.3 297.9Q242 296.7 242.8 295.5Q243.5 294.3 244.5 293.3Q245.4 292.4 246.7 291.7Q247.9 291.1 249.5 290.8Q251 290.6 252.7 290.7Q254.4 290.9 255.8 291.1Q257.3 291.2 258.5 291Q259.6 290.8 260.6 289.9Q261.6 289.1 262.7 287.7Q263.7 286.3 264.9 284.9Q266 283.5 267.1 282.6Q268.2 281.6 269.3 281.3Q270.5 281 271.8 281.1Q273.1 281.1 274.6 281.2Q276.1 281.2 277.6 280.8Q279 280.4 280.3 279.6Q281.5 278.8 282.4 277.8Q283.3 276.7 283.9 275.4Q284.5 274.2 285 272.8Q285.5 271.4 285.9 270Q286.3 268.5 286.8 267.1Q287.3 265.7 288 264.6Q288.8 263.4 289.9 262.7Q291 262 292.6 261.5Q294.1 261 295.8 260.5Q297.4 259.9 298.8 258.9Q300.2 257.9 300.8 256.5Q301.4 255.1 301.1 253.5Q300.8 251.9 300.1 250.3Q299.4 248.7 299 247.1Q298.5 245.5 298.4 243.9Q298.3 242.2 298.6 240.5Q298.9 238.9 299.6 237.3Q300.3 235.7 301.4 234.3Q302.5 233 303.9 232.1Q305.2 231.1 306.8 230.7Q308.3 230.3 311.3 231.4Q314.3 232.4 314 235.5Q313.6 238.6 312.9 239.6Q312.2 240.7 311.3 241.3Q310.5 242 309.6 242.5Q308.6 242.9 307.6 243.4Q306.5 243.8 305.4 244.4Q304.2 245 302.9 245.8Q301.6 246.6 300.3 247.6Q298.9 248.5 297.4 249.5Q296 250.5 295 251.5Q293.9 252.5 293.6 253.7Q293.3 254.8 293.6 256.3Q293.9 257.8 294.2 259.6Q294.5 261.3 294.4 263.1Q294.3 264.8 293.7 266.1Q293.1 267.4 292 268.3Q290.9 269.1 289.5 269.7Q288.1 270.2 286.7 270.7Q285.3 271.3 283.9 271.9Q282.6 272.6 281.5 273.4Q280.4 274.2 279.5 275.2Q278.7 276.2 278 277.4Q277.4 278.5 276.8 280Q276.3 281.4 275.5 282.9Q274.8 284.5 273.7 285.8Q272.7 287.1 271.2 287.7Q269.8 288.3 268.3 288Q266.8 287.7 265.2 286.8Q263.7 285.9 262.1 285.1Q260.5 284.2 258.8 283.9Q257.2 283.7 255.8 284.4Q254.4 285 253.4 286.4Q252.4 287.7 251.8 289.2Q251.2 290.8 250.6 292.2Q249.9 293.5 249.1 294.6Q248.3 295.7 247.1 296.5Q246 297.3 244.7 297.8Q243.4 298.4 242 298.8Q240.5 299.2 239.1 299.5Q237.6 299.8 236.2 300.2Q234.8 300.6 233.6 301.4Q232.4 302.2 231.6 303.4Q230.8 304.7 230.5 306.3Q230.3 307.9 230.4 309.5Q230.5 311.2 230.6 312.6Q230.7 314 230.2 315.2Q229.6 316.3 228.4 317.3Q227.2 318.3 225.6 319Q223.9 319.8 222.4 320.4Q220.9 321 219.9 321.7Q218.9 322.4 218.2 323.4Q217.6 324.4 217.1 325.7Q216.5 327.1 215.9 328.4L215.2 329.8M221.1 325.7Q224.1 325.3 225.5 325.2Q226.8 325.1 228 324.7Q229.2 324.4 230.2 323.5Q231.2 322.6 232.1 321.3Q233.1 319.9 234 318.5Q234.9 317.1 236 316.1Q237.1 315.1 238.4 314.8Q239.8 314.5 241.3 314.8Q242.8 315.1 244.4 315.8Q245.9 316.5 247.3 317.1Q248.7 317.7 250 318Q251.2 318.3 252.5 318.2Q253.8 318.2 255.1 317.8Q256.5 317.4 257.8 317Q259.2 316.5 260.5 315.9Q261.8 315.3 263 314.8Q264.2 314.3 265.4 313.8Q266.5 313.4 267.7 313.2Q269 312.9 270.4 312.9Q271.8 312.8 273.4 312.7Q274.9 312.6 276.4 312.2Q277.9 311.8 279 310.9Q280.1 310 280.6 308.6Q281.2 307.2 281.4 305.6Q281.6 303.9 281.8 302.2Q281.9 300.6 282.3 299.2Q282.8 297.9 283.6 297Q284.4 296.1 285.6 295.4Q286.7 294.6 288 293.8Q289.2 293 290.2 292Q291.2 290.9 291.7 289.6Q292.3 288.3 292.5 286.9Q292.7 285.5 292.5 284.1Q292.4 282.8 292 281.4Q291.7 280 291.3 278.6Q290.9 277.2 290.7 275.7Q290.6 274.3 290.9 272.9Q291.1 271.5 292.1 270.3Q293 269.1 294.4 268.3Q295.8 267.5 297.4 266.9Q298.9 266.3 300.2 265.7Q301.5 265.1 302.3 264.1Q303.2 263.1 303.5 261.7Q303.8 260.3 303.9 258.6Q304 257 304.3 255.4Q304.6 253.9 305.1 252.4Q305.6 250.9 306.4 249.5Q307.2 248.1 308.4 246.9Q309.5 245.7 311 244.8Q312.5 243.9 314.3 243.6Q316 243.2 317.8 243.5Q319.5 243.8 321.7 246.2Q323.8 248.7 322 250.9Q320.3 253.1 319.4 253.7Q318.5 254.2 317.7 254.4Q316.8 254.7 315.8 254.8Q314.9 254.9 313.7 255Q312.6 255.2 311.3 255.4Q310 255.6 308.5 255.9Q307.1 256.2 305.5 256.6Q304 257 302.3 257.3Q300.7 257.7 299.3 258.3Q298 259 297.1 260.1Q296.3 261.2 296 262.7Q295.7 264.2 295.8 265.8Q295.9 267.5 296 269Q296.1 270.5 295.9 271.7Q295.8 273 295.2 274.1Q294.7 275.2 293.9 276.4Q293.2 277.5 292.4 278.8Q291.6 280 291 281.3Q290.4 282.5 289.9 283.8Q289.5 285 289.3 286.3Q289 287.5 289 288.8Q289 290.1 289.1 291.6Q289.2 293 289.3 294.6Q289.3 296.2 289.1 297.8Q288.9 299.3 288.1 300.6Q287.4 301.8 286.1 302.5Q284.8 303.2 283.2 303.5Q281.6 303.9 279.9 304.1Q278.3 304.3 277 304.9Q275.7 305.4 274.8 306.3Q274 307.2 273.5 308.6Q272.9 309.9 272.4 311.4Q271.8 312.9 270.9 314.1Q270 315.4 268.8 316.3Q267.6 317.1 266.1 317.4Q264.7 317.6 263.3 317.5Q261.9 317.3 260.5 316.9Q259.2 316.5 257.9 315.9Q256.6 315.4 255.2 314.9Q253.9 314.4 252.5 314.3Q251.2 314.1 249.8 314.4Q248.4 314.8 247.1 315.6Q245.9 316.5 244.8 317.6Q243.7 318.7 242.6 319.6Q241.5 320.6 240.3 321Q239.1 321.4 237.7 321.2Q236.2 321 234.6 320.5Q233.1 319.9 231.5 319.5Q229.9 319.1 228.4 319.1Q226.9 319.2 225.7 319.9Q224.4 320.7 223.5 321.8Q222.5 323 221.8 324.3L221.1 325.7M218.3 328.7Q221.3 329.3 222.9 329.2Q224.5 329 225.8 328.2Q227.2 327.3 227.9 325.8Q228.5 324.2 228.5 322.4Q228.4 320.6 227.9 318.9Q227.5 317.3 227.2 315.9Q227 314.5 227.4 313.4Q227.7 312.2 228.7 311.1Q229.6 309.9 230.8 308.8Q232 307.7 233 306.6Q234.1 305.5 234.7 304.3Q235.4 303.1 235.6 301.8Q235.9 300.5 235.9 299.1Q235.9 297.7 235.7 296.3Q235.5 294.8 235.2 293.4Q234.9 292 234.6 290.7Q234.4 289.3 234.4 288Q234.3 286.7 234.7 285.4Q235.2 284.1 236.1 282.8Q237 281.6 238.2 280.5Q239.5 279.3 240.6 278.4Q241.7 277.5 242.3 276.5Q242.9 275.6 243 274.4Q243.2 273.2 243.2 271.7Q243.3 270.1 243.8 268.5Q244.2 266.9 245.2 265.7Q246.1 264.5 247.5 264Q248.8 263.4 250.3 263.4Q251.8 263.3 253.3 263.5Q254.9 263.6 256.3 263.7Q257.8 263.7 259.1 263.6Q260.5 263.4 261.7 263Q263 262.6 264.2 261.9Q265.3 261.3 266.5 260.5Q267.6 259.7 268.8 258.9Q270.1 258 271.4 257.3Q272.8 256.6 274.2 256.4Q275.7 256.2 277 256.7Q278.4 257.2 279.7 258.3Q280.9 259.3 282.1 260.6Q283.4 261.9 284.7 263Q286.1 264 287.7 264.6Q289.3 265.3 291.1 265.4Q292.9 265.5 294.6 265Q296.3 264.5 297.7 263.2Q299 262 299.3 258.3Q299.5 254.7 296.6 253.4Q293.6 252 292.6 252Q291.6 252 290.8 252.4Q290.1 252.9 289.2 253.6Q288.4 254.3 287.3 255.1Q286.3 256 285 257Q283.7 257.9 282.3 259Q280.8 260 279.4 260.8Q278 261.6 276.7 261.8Q275.5 262 274.2 261.8Q273 261.5 271.7 260.9Q270.4 260.4 269 259.9Q267.5 259.4 266.1 259.2Q264.6 259 263.2 259.2Q261.8 259.3 260.6 259.8Q259.3 260.3 258.2 261.1Q257 261.9 256 262.9Q255 263.9 254 265.1Q253.1 266.2 252.1 267.3Q251.2 268.3 250.1 268.9Q249.1 269.5 247.7 269.7Q246.4 269.8 244.7 269.8Q243 269.8 241.2 270.2Q239.4 270.5 238 271.5Q236.6 272.5 236 273.9Q235.4 275.4 235.7 277Q235.9 278.6 236.6 280.1Q237.3 281.6 237.9 283Q238.5 284.4 238.7 285.8Q238.8 287.1 238.5 288.5Q238.2 289.8 237.6 291.1Q237 292.4 236.2 293.6Q235.4 294.8 234.6 296Q233.8 297.2 233.1 298.3Q232.4 299.5 231.9 300.8Q231.5 302.1 231.4 303.4Q231.4 304.8 231.8 306.3Q232.1 307.8 232.7 309.3Q233.3 310.8 233.6 312.3Q234 313.8 233.7 315.2Q233.4 316.6 232.4 317.8Q231.3 318.9 229.8 319.7Q228.3 320.5 226.8 321Q225.4 321.4 224.3 321.9Q223.2 322.4 222.5 323.2Q221.7 324 221 325.2Q220.2 326.3 219.2 327.5L218.3 328.7M223.9 328.8Q226.7 330.2 228.1 330.8Q229.4 331.4 230.7 331.5Q232 331.6 233.2 331Q234.5 330.3 235.8 329.2Q237 328.1 238.3 326.9Q239.6 325.8 241 325.1Q242.4 324.5 243.8 324.6Q245.2 324.7 246.5 325.5Q247.8 326.3 249 327.4Q250.2 328.5 251.3 329.5Q252.4 330.6 253.6 331.3Q254.7 332 255.9 332.4Q257.2 332.8 258.5 333Q259.8 333.1 261.2 333Q262.7 332.9 264.1 332.6Q265.5 332.4 266.9 332Q268.3 331.6 269.5 331.4Q270.7 331.1 271.9 331.2Q273.1 331.3 274.3 331.8Q275.6 332.3 277.1 332.9Q278.7 333.6 280.3 333.9Q282 334.1 283.5 333.7Q285 333.3 286 332.2Q286.9 331.1 287.5 329.5Q288 327.8 288.3 326.2Q288.7 324.5 289.3 323Q289.9 321.6 290.9 320.7Q292 319.8 293.4 319.4Q294.8 319 296.4 319Q297.9 319 299.4 319.2Q300.9 319.4 302.3 319.6Q303.7 319.8 304.9 319.9Q306.2 320 307.5 319.8Q308.7 319.7 310 319.4Q311.2 319 312.6 318.3Q313.9 317.6 315.3 316.6Q316.7 315.7 318.1 314.9Q319.5 314.2 320.9 313.7Q322.3 313.2 323.7 312.9Q325.1 312.7 326.4 312.8Q327.8 313 329.1 313.7Q330.4 314.4 331.9 317.5Q333.3 320.5 331.1 322.9Q328.8 325.2 327.4 325.6Q326.1 325.9 324.9 325.7Q323.6 325.5 322.4 325Q321.2 324.4 319.9 323.7Q318.7 322.9 317.5 321.9Q316.3 320.9 315.1 319.7Q313.8 318.6 312.5 317.8Q311.2 316.9 309.9 316.5Q308.5 316.1 307.1 316.2Q305.7 316.2 304.4 316.6Q303.1 317.1 301.9 317.8Q300.7 318.6 299.7 319.6Q298.6 320.6 297.8 321.7Q296.9 322.8 296.1 323.7Q295.2 324.6 294 325.1Q292.9 325.7 291.4 325.8Q289.9 326 288.1 325.9Q286.4 325.8 284.8 325.8Q283.3 325.8 282.1 326.2Q280.9 326.6 280.2 327.5Q279.4 328.4 278.6 329.8Q277.9 331.2 276.9 332.7Q275.9 334.1 274.6 335Q273.3 336 271.8 336.2Q270.4 336.4 269 336Q267.6 335.6 266.4 334.8Q265.1 334 264 333.1Q262.9 332.2 261.8 331.3Q260.7 330.5 259.5 329.8Q258.3 329.1 257 328.7Q255.7 328.3 254.3 328.4Q252.9 328.4 251.5 328.8Q250.1 329.2 248.7 329.9Q247.3 330.5 246 331Q244.7 331.4 243.4 331.4Q242.2 331.3 240.9 330.6Q239.7 329.8 238.3 328.7Q237 327.5 235.6 326.5Q234.3 325.4 232.9 324.9Q231.5 324.4 230.2 324.7Q228.8 324.9 227.6 325.8Q226.3 326.6 225.1 327.7L223.9 328.8M221.9 329.7Q224.5 331.9 225.7 332.9Q226.8 333.9 228.1 334.4Q229.3 334.9 230.8 334.7Q232.3 334.4 234 333.8Q235.6 333.1 237.3 332.5Q239 331.8 240.5 331.7Q242 331.5 243.4 332.1Q244.7 332.6 245.9 333.7Q247.1 334.7 248.1 336Q249.2 337.2 250.3 338.4Q251.3 339.5 252.4 340.4Q253.5 341.3 254.7 342Q255.9 342.7 257.3 343.2Q258.6 343.7 260.1 343.9Q261.6 344.2 263.2 344.3Q264.7 344.3 266.3 344.3Q267.8 344.3 269.2 344.5Q270.5 344.7 271.6 345.4Q272.7 346.1 273.8 347.2Q275 348.4 276.3 349.6Q277.6 350.8 279.2 351.6Q280.7 352.4 282.2 352.3Q283.8 352.2 285.2 351.4Q286.5 350.6 287.8 349.4Q289.1 348.2 290.3 347.1Q291.6 346 292.9 345.3Q294.2 344.6 295.6 344.4Q297 344.2 298.5 344.4Q299.9 344.5 301.4 344.8Q302.9 345 304.4 345.3Q305.9 345.6 307.4 345.8Q308.9 346 310.4 345.8Q311.9 345.7 313.3 345.1Q314.6 344.5 315.7 343.3Q316.8 342.1 317.8 340.7Q318.7 339.2 319.8 337.9Q320.9 336.5 322.2 335.8Q323.6 335 325.2 335.1Q326.9 335.3 328.5 336.2Q330.2 337 331.6 338.1Q333 339.2 334.2 340.2Q335.5 341.2 336.5 342.2Q337.6 343.1 338.7 344Q339.7 344.9 340.8 345.6Q342 346.3 343.2 346.8Q344.5 347.4 345.9 347.5Q347.4 347.6 350.1 346.4Q352.9 345.1 351.9 342.2Q350.9 339.4 349.8 338.4Q348.7 337.4 347.3 336.8Q345.9 336.3 344.4 335.9Q342.9 335.6 341.2 335.6Q339.6 335.5 337.9 335.8Q336.3 336 334.7 336.6Q333.1 337.2 331.7 338.1Q330.3 339.1 329.1 340.1Q328 341.2 326.8 341.9Q325.7 342.5 324.3 342.5Q322.9 342.5 321.3 342.1Q319.7 341.7 318 341.2Q316.3 340.7 314.7 340.6Q313.2 340.4 311.9 340.7Q310.5 341 309.3 341.7Q308.1 342.4 306.8 343.2Q305.6 344.1 304.3 344.9Q303 345.8 301.7 346.5Q300.4 347.3 299 347.8Q297.7 348.4 296.3 348.6Q294.9 348.8 293.4 348.6Q292 348.4 290.4 347.8Q288.9 347.1 287.3 346.4Q285.8 345.7 284.4 345.3Q283 344.9 281.7 345.2Q280.4 345.4 279.1 346.3Q277.8 347.2 276.3 348.3Q274.8 349.4 273.1 350.1Q271.4 350.8 269.8 350.7Q268.2 350.6 266.9 349.8Q265.6 349 264.6 347.7Q263.5 346.5 262.7 345.2Q261.8 343.8 260.8 342.6Q259.9 341.4 258.8 340.5Q257.7 339.5 256.4 338.8Q255.1 338.2 253.6 337.8Q252.2 337.5 250.7 337.5Q249.1 337.5 247.5 337.8Q246 338 244.4 338.2Q242.9 338.4 241.5 338.1Q240.2 337.7 239 336.8Q237.8 335.8 236.8 334.3Q235.7 332.9 234.7 331.4Q233.6 329.9 232.4 328.9Q231.2 327.9 229.7 327.6Q228.2 327.4 226.6 327.8Q224.9 328.2 223.4 329L221.9 329.7M218.2 330.6Q220.9 332.6 222.6 333.1Q224.3 333.6 225.8 333.2Q227.4 332.8 228.5 331.5Q229.6 330.3 230.3 328.6Q231 326.9 231.7 325.3Q232.5 323.7 233.6 322.6Q234.8 321.5 236.3 321.3Q237.9 321 239.5 321.6Q241.1 322.1 242.5 323Q243.9 324 245.1 324.9Q246.3 325.8 247.5 326.6Q248.6 327.3 249.8 327.8Q251 328.3 252.3 328.5Q253.7 328.7 255.1 328.7Q256.6 328.6 258.1 328.4Q259.6 328.1 261.1 327.9Q262.6 327.6 264 327.7Q265.4 327.8 266.6 328.5Q267.8 329.3 268.7 330.7Q269.7 332.1 270.4 333.8Q271.1 335.5 271.7 337Q272.4 338.4 273.3 339.3Q274.2 340.2 275.5 340.5Q276.9 340.7 278.6 340.7Q280.3 340.6 282 340.5Q283.7 340.3 285.2 340.4Q286.6 340.4 287.7 340.8Q288.8 341.1 289.9 341.6Q290.9 342.2 292.1 342.7Q293.3 343.3 294.7 343.6Q296.1 343.9 297.6 343.9Q299.1 343.8 300.5 343.4Q301.9 343 303.1 342.1Q304.2 341.3 305 340Q305.8 338.8 306.5 337.3Q307.1 335.8 307.9 334.3Q308.7 332.8 309.9 331.8Q311.2 330.7 312.8 330.6Q314.4 330.4 316 331.2Q317.7 332 319.1 333.2Q320.5 334.5 321.8 335.6Q323 336.7 324.3 337.1Q325.6 337.6 326.9 337.3Q328.3 337.1 329.7 336.4Q331.1 335.8 332.5 335Q334 334.3 335.4 333.6Q336.9 332.9 338.4 332.4Q339.9 331.9 341.5 331.8Q343 331.6 344.7 331.8Q346.3 332.1 347.8 332.8Q349.3 333.5 350.4 334.8Q351.6 336 351.8 339.2Q352.1 342.4 349.3 343.1Q346.5 343.8 345.4 343.6Q344.3 343.4 343.4 342.9Q342.5 342.4 341.6 341.8Q340.6 341.1 339.6 340.2Q338.6 339.4 337.4 338.5Q336.3 337.5 335.1 336.5Q333.9 335.4 332.6 334.4Q331.4 333.3 330.1 332.4Q328.9 331.4 327.6 330.9Q326.2 330.4 324.8 330.6Q323.4 330.8 321.9 331.7Q320.5 332.6 319.3 333.9Q318 335.2 317 336.3Q315.9 337.3 314.9 337.8Q313.9 338.2 312.6 338.1Q311.3 338 309.7 337.7Q308.1 337.3 306.4 337.2Q304.7 337.1 303.3 337.4Q301.9 337.7 300.8 338.3Q299.7 339 298.7 339.8Q297.8 340.7 296.8 341.7Q295.8 342.7 294.6 343.6Q293.3 344.5 291.8 345.1Q290.3 345.7 288.7 345.8Q287.1 345.9 285.7 345.3Q284.3 344.7 283.4 343.5Q282.4 342.3 281.9 340.7Q281.3 339.1 280.8 337.5Q280.4 335.8 279.5 334.6Q278.7 333.3 277.3 332.7Q276 332.1 274.3 332.3Q272.5 332.4 270.8 333Q269.1 333.5 267.5 333.9Q266 334.3 264.7 334.2Q263.3 334.1 262.1 333.3Q261 332.5 259.9 331.4Q258.8 330.3 257.8 329.2Q256.8 328 255.8 327Q254.7 326 253.5 325.3Q252.3 324.5 251 324.1Q249.7 323.7 248.2 323.7Q246.8 323.6 245.3 324Q243.9 324.5 242.6 325.2Q241.4 325.9 240.3 326.6Q239.2 327.3 238.1 327.6Q237 327.9 235.6 327.8Q234.2 327.6 232.5 327Q230.8 326.5 229.1 326Q227.4 325.5 226 325.4Q224.7 325.2 223.7 325.7Q222.7 326.2 221.8 327.3Q220.8 328.3 219.5 329.4L218.2 330.6M221.8 332.6Q223.8 335.6 224.8 336.8Q225.9 338.1 227.3 338.7Q228.6 339.4 230.3 339.5Q231.9 339.5 233.7 339.3Q235.4 339 237.1 338.9Q238.9 338.7 240.4 339Q241.9 339.2 243.2 340Q244.5 340.7 245.7 341.8Q246.9 342.9 248 344.1Q249.1 345.3 250.1 346.4Q251.2 347.6 252.2 348.7Q253.2 349.8 254.3 350.8Q255.3 351.8 256.4 352.7Q257.6 353.5 259 354.3Q260.3 355 261.9 355.8Q263.4 356.6 264.7 357.5Q266.1 358.5 267 359.8Q267.9 361 268.2 362.6Q268.5 364.1 268.5 365.8Q268.5 367.6 268.7 369.3Q268.9 371.1 269.7 372.6Q270.6 374 272 374.9Q273.4 375.8 275.2 376.1Q276.9 376.4 278.6 376.3Q280.4 376.2 281.9 376Q283.5 375.8 285 375.7Q286.5 375.6 288 375.7Q289.4 375.8 290.9 376.1Q292.4 376.4 293.9 377.1Q295.3 377.8 296.6 378.8Q298 379.8 299.2 380.8Q300.4 381.8 301.6 382.5Q302.8 383.3 304.2 383.5Q305.6 383.8 307.3 383.8Q309 383.7 310.8 383.8Q312.6 383.8 314.1 384.3Q315.7 384.8 316.9 385.8Q318.1 386.9 318.8 388.3Q319.6 389.8 320.2 391.4Q320.8 392.9 321.2 394.6Q321.7 396.3 322.2 397.9Q322.8 399.5 323.4 400.9Q324 402.4 324.7 403.7Q325.4 405 326.4 406.2Q327.3 407.3 328.5 408.1Q329.8 409 332.8 409.2Q335.8 409.3 336 406.3Q336.3 403.3 335.5 401.9Q334.8 400.5 333.7 399.4Q332.6 398.3 331.3 397.4Q330 396.5 328.5 395.9Q327 395.2 325.4 394.7Q323.8 394.1 322.1 393.7Q320.4 393.3 318.8 392.8Q317.2 392.4 315.8 391.8Q314.3 391.2 313.2 390.3Q312.1 389.3 311.3 387.9Q310.6 386.6 310 384.8Q309.3 383.1 308.4 381.5Q307.6 379.9 306.3 378.8Q305 377.7 303.4 377.3Q301.8 377 300.1 377.2Q298.5 377.4 296.9 377.8Q295.3 378.2 293.7 378.5Q292.2 378.8 290.7 378.9Q289.2 379 287.6 378.8Q286.1 378.6 284.6 378.1Q283.1 377.6 281.8 376.8Q280.4 376 279.3 374.9Q278.2 373.9 277.3 372.8Q276.3 371.8 275.3 370.9Q274.3 370.1 272.9 369.5Q271.6 368.9 269.9 368.4Q268.2 367.8 266.5 367Q264.8 366.3 263.6 365.2Q262.4 364.2 261.8 362.8Q261.2 361.5 261 359.9Q260.8 358.3 260.7 356.6Q260.5 354.9 260 353.3Q259.5 351.7 258.5 350.4Q257.6 349.1 256.3 348.2Q255 347.2 253.6 346.6Q252.1 346 250.6 345.7Q249 345.3 247.5 345.2Q245.9 345 244.4 344.8Q242.8 344.6 241.4 344.1Q240 343.6 238.7 342.7Q237.5 341.7 236.5 340.3Q235.5 338.9 234.5 337.4Q233.5 335.9 232.5 334.7Q231.4 333.6 230 333Q228.6 332.4 227 332.3Q225.3 332.3 223.6 332.5L221.8 332.6M222 334.9Q222.1 338.5 222.1 340Q222.2 341.5 222.7 342.6Q223.3 343.7 224.5 344.6Q225.7 345.4 227.2 346.3Q228.8 347.1 230.2 348Q231.6 349 232.6 350.2Q233.5 351.4 233.8 352.8Q234.1 354.2 233.9 355.8Q233.7 357.3 233.3 358.9Q233 360.4 232.5 361.9Q232 363.3 231.5 364.6Q231 365.9 230.6 367.1Q230.2 368.4 230 369.6Q229.8 370.9 229.8 372.3Q229.8 373.8 229.8 375.4Q229.7 377.1 229.4 378.7Q229.2 380.4 228.4 381.7Q227.6 383 226.4 383.7Q225.1 384.4 223.4 384.8Q221.7 385.1 219.9 385.6Q218.2 386.1 216.8 387.1Q215.5 388.2 214.9 389.7Q214.3 391.2 214.6 392.9Q214.8 394.6 215.6 396.2Q216.3 397.8 217 399.2Q217.7 400.6 218.2 402Q218.7 403.3 218.9 404.7Q219.1 406 219 407.4Q219 408.8 218.7 410.2Q218.4 411.7 217.9 413.2Q217.5 414.7 217.1 416.2Q216.8 417.7 216.8 419.3Q216.9 420.8 217.6 422.2Q218.4 423.5 219.9 424.5Q221.4 425.4 223.2 425.9Q225.1 426.3 226.7 426.5Q228.3 426.6 229.4 427Q230.5 427.4 231.3 428.3Q232.1 429.2 232.9 430.5Q233.8 431.9 234.8 433.2Q235.9 434.6 237.1 435.7Q238.3 436.9 239.5 437.8Q240.7 438.8 241.8 439.6Q242.9 440.3 244 440.9Q245 441.4 246.2 441.6Q247.4 441.8 250.1 440.9Q252.8 440 252.1 436.9Q251.5 433.8 250.1 432.7Q248.8 431.6 247.2 431.2Q245.7 430.7 244.1 430.7Q242.6 430.7 241 431Q239.5 431.3 238 431.9Q236.4 432.4 234.8 433.1Q233.1 433.7 231.3 434.2Q229.5 434.6 227.7 434.3Q226 434 224.8 432.8Q223.6 431.6 223.2 429.9Q222.7 428.1 222.9 426.3Q223 424.5 223.1 423.1Q223.3 421.6 223 420.3Q222.8 419.1 222 417.9Q221.3 416.8 220.3 415.6Q219.4 414.3 218.4 413.1Q217.5 411.8 216.8 410.5Q216.1 409.2 215.6 407.8Q215.2 406.4 215.1 405Q215 403.5 215.4 402.1Q215.7 400.6 216.4 399.2Q217.2 397.9 218.2 396.7Q219.2 395.5 220 394.5Q220.8 393.4 221.2 392.3Q221.5 391.1 221.4 389.6Q221.3 388.1 221.1 386.3Q220.8 384.4 220.8 382.6Q220.9 380.8 221.4 379.4Q222 378 223.1 377.1Q224.2 376.3 225.7 375.8Q227.1 375.3 228.7 374.7Q230.3 374 231.6 373Q232.9 372 233.6 370.6Q234.4 369.2 234.5 367.7Q234.7 366.1 234.4 364.7Q234 363.2 233.3 361.8Q232.7 360.5 231.8 359.3Q230.9 358 230.1 356.9Q229.2 355.7 228.7 354.5Q228.2 353.2 228.2 351.8Q228.1 350.3 228.6 348.6Q229 347 229.5 345.2Q230 343.4 230.1 341.7Q230.1 340 229.3 338.7Q228.6 337.3 227.1 336.5Q225.6 335.6 223.8 335.3L222 334.9M215 330Q215 333.7 215.4 335.3Q215.9 337 217.1 338.2Q218.2 339.3 219.9 339.8Q221.6 340.4 223.4 340.5Q225.3 340.6 227 340.7Q228.7 340.7 230.1 341.1Q231.5 341.5 232.8 342.3Q234 343 235.1 344Q236.2 345.1 237.4 346.2Q238.5 347.3 239.6 348.3Q240.7 349.4 241.9 350.4Q243.2 351.4 244.5 352.1Q245.9 352.8 247.4 353Q248.9 353.2 250.6 352.9Q252.2 352.6 253.9 351.9Q255.5 351.2 257 350.6Q258.6 350 260 349.9Q261.4 349.8 262.8 350.5Q264.3 351.2 265.6 352.3Q267 353.5 268.4 354.7Q269.7 355.9 270.9 356.8Q272.2 357.6 273.4 358.1Q274.7 358.5 276.1 358.7Q277.5 358.9 279 359.1Q280.5 359.4 281.9 359.9Q283.4 360.4 284.7 361.3Q286.1 362.1 287.2 363.1Q288.3 364.2 289.1 365.5Q289.9 366.8 290.4 368.3Q290.9 369.8 291.1 371.5Q291.3 373.2 291.5 374.8Q291.8 376.5 292.4 377.9Q293.1 379.3 294.3 380.3Q295.5 381.2 297.2 381.8Q298.8 382.3 300.6 382.8Q302.3 383.3 303.8 384Q305.4 384.6 306.8 385.4Q308.2 386.2 309.5 387.2Q310.7 388.1 311.7 389.2Q312.7 390.3 313.3 391.7Q313.9 393 313.6 395.9Q313.2 398.8 310.2 398.6Q307.1 398.4 305.9 397.4Q304.7 396.4 303.9 395.2Q303 394 302.5 392.6Q301.9 391.2 301.5 389.6Q301.1 388.1 300.8 386.4Q300.5 384.8 300.4 383Q300.2 381.2 300 379.5Q299.8 377.7 299.2 376.4Q298.5 375.1 297.3 374.1Q296.1 373.2 294.6 372.5Q293.1 371.8 291.6 371.1Q290 370.4 288.7 369.6Q287.4 368.7 286.4 367.7Q285.4 366.6 284.7 365.4Q283.9 364.2 283.1 362.9Q282.4 361.6 281.6 360.2Q280.8 358.8 279.9 357.5Q278.9 356.1 277.7 354.9Q276.4 353.8 274.9 353.2Q273.4 352.6 271.8 352.8Q270.1 353 268.5 353.7Q266.9 354.5 265.4 355.3Q263.8 356.2 262.3 356.6Q260.8 357 259.3 356.7Q257.8 356.3 256.4 355.4Q254.9 354.4 253.7 353.2Q252.4 352 251.2 350.9Q249.9 349.9 248.7 349.3Q247.4 348.6 245.9 348.3Q244.5 348 243 347.9Q241.5 347.7 239.9 347.6Q238.4 347.5 236.8 347.3Q235.2 347.2 233.7 346.9Q232.2 346.6 230.8 346Q229.4 345.4 228.2 344.4Q227.1 343.3 226.2 341.9Q225.4 340.4 224.8 338.8Q224.3 337.2 223.7 335.8Q223.1 334.4 222.2 333.5Q221.3 332.6 219.8 332Q218.4 331.3 216.7 330.7L215 330M219.8 337.7Q221.2 341.4 222.7 342.7Q224.2 344.1 226.1 344.5Q228.1 344.9 230 344.4Q231.9 344 233.7 343.2Q235.4 342.3 237.1 341.7Q238.8 341.1 240.5 340.9Q242.2 340.7 243.9 340.9Q245.6 341.1 247.3 341.7Q248.9 342.3 250.5 343.1Q252 343.9 253.5 344.9Q254.9 346 256.4 347Q257.9 348 259.5 348.7Q261.1 349.4 262.8 349.5Q264.5 349.6 266.3 349.1Q268.1 348.6 269.9 348Q271.8 347.4 273.7 347.4Q275.6 347.3 277.4 348.1Q279.1 349 280.2 350.7Q281.4 352.3 281.9 354.3Q282.3 356.3 282.4 358.2Q282.4 360 282.4 361.7Q282.4 363.4 282.5 365Q282.6 366.7 283 368.3Q283.4 369.9 284.3 371.5Q285.2 373.1 286.5 374.3Q287.9 375.6 289.6 376.3Q291.2 377 292.7 377.3Q294.2 377.6 295.4 378.1Q296.7 378.6 297.9 379.6Q299.1 380.5 300.6 381.7Q302.1 382.9 303.8 384.1Q305.4 385.3 307.1 386.2Q308.7 387.1 310.3 387.8Q311.9 388.5 313.4 388.8Q314.9 389.2 316.6 389Q318.2 388.8 320.8 386.3Q323.3 383.9 321.4 380.9Q319.4 377.9 317.7 377.3Q316 376.7 314.3 376.8Q312.5 376.8 310.7 377.3Q308.9 377.9 307.2 378.7Q305.6 379.6 303.9 380.7Q302.2 381.8 300.3 382.8Q298.5 383.7 296.5 384Q294.4 384.3 292.5 383.5Q290.7 382.8 289.4 381.2Q288.2 379.7 287.6 377.8Q287 376 286.9 374.3Q286.7 372.6 286.6 371Q286.4 369.4 286.2 367.7Q286 366.1 285.5 364.4Q285.1 362.8 284.3 361.2Q283.5 359.6 282.3 358.4Q281.1 357.1 279.7 356.4Q278.3 355.6 277.1 354.9Q275.8 354.3 274.7 353.4Q273.5 352.5 272.3 351.2Q271.2 349.9 269.8 348.5Q268.4 347 266.9 345.9Q265.5 344.7 263.9 344.2Q262.3 343.6 260.6 343.6Q259 343.6 257.2 343.9Q255.4 344.1 253.6 344.3Q251.9 344.5 250.2 344.6Q248.5 344.6 246.8 344.5Q245.2 344.5 243.6 344.3Q242 344.1 240.4 343.7Q238.8 343.3 237.1 342.6Q235.4 341.9 233.8 341.1Q232.2 340.2 230.8 339.5Q229.4 338.7 228.1 338.4Q226.8 338.1 225.2 338.1Q223.7 338.1 221.7 337.9L219.8 337.7M217.1 334.9Q216.9 338.6 217.4 340.2Q217.9 341.9 219.1 343.1Q220.3 344.2 221.9 344.8Q223.5 345.5 225.3 345.8Q227 346.2 228.6 346.7Q230.2 347.1 231.5 347.9Q232.8 348.6 234 349.6Q235.1 350.5 236.1 351.6Q237.1 352.7 238.1 353.9Q239.1 355.1 240.2 356.3Q241.3 357.4 242.6 358.5Q243.9 359.5 245.4 360.1Q247 360.7 248.6 360.6Q250.3 360.5 251.9 359.7Q253.5 358.9 255 357.9Q256.5 356.9 258 356.1Q259.5 355.4 261.1 355.3Q262.7 355.3 264.3 356.1Q265.9 356.9 267.2 358.3Q268.6 359.6 269.6 361Q270.6 362.4 271.5 363.5Q272.4 364.6 273.4 365.6Q274.3 366.5 275.4 367.4Q276.4 368.3 277.5 369.4Q278.6 370.4 279.7 371.6Q280.7 372.8 281.7 374.1Q282.6 375.3 283.3 376.7Q284 378.1 284.3 379.6Q284.6 381 284.5 382.7Q284.4 384.3 284 386Q283.7 387.8 283.4 389.5Q283.2 391.2 283.4 392.6Q283.7 394.1 284.5 395.3Q285.3 396.5 286.5 397.8Q287.7 399 289 400.3Q290.2 401.7 291.3 403.2Q292.3 404.7 293 406.4Q293.6 408 294 409.6Q294.4 411.2 294.4 412.7Q294.5 414.1 294.1 415.5Q293.7 416.8 291.4 418.9Q289 421.1 286.1 419Q283.2 417 282.7 415.3Q282.3 413.6 282.4 412.1Q282.6 410.5 283.2 409.1Q283.7 407.7 284.5 406.3Q285.3 405 286.2 403.5Q287.1 402 288 400.4Q288.9 398.7 289.6 397Q290.2 395.2 290.2 393.6Q290.3 391.9 289.6 390.5Q288.9 389.1 287.6 387.9Q286.3 386.8 284.9 385.7Q283.5 384.6 282.4 383.4Q281.2 382.2 280.6 380.8Q279.9 379.5 279.6 378Q279.4 376.5 279.3 374.9Q279.2 373.4 279.1 371.8Q279 370.2 278.7 368.6Q278.4 366.9 277.8 365.4Q277.1 363.8 276 362.5Q274.8 361.3 273.3 360.7Q271.7 360 270.1 360.1Q268.4 360.2 266.8 360.7Q265.3 361.2 263.9 361.7Q262.5 362.1 261 361.9Q259.6 361.8 258.1 361.1Q256.6 360.4 255.1 359.4Q253.6 358.4 252.2 357.6Q250.8 356.7 249.4 356.2Q248.1 355.8 246.7 355.7Q245.3 355.6 243.8 355.6Q242.2 355.6 240.6 355.4Q239 355.3 237.5 354.9Q235.9 354.5 234.4 353.8Q233 353.2 231.7 352.3Q230.5 351.4 229.5 350.2Q228.5 349.1 227.8 347.6Q227.1 346.1 226.5 344.5Q226 342.8 225.4 341.4Q224.9 340 224 338.9Q223.1 337.9 221.8 337.2Q220.4 336.5 218.8 335.7L217.1 334.9M218.1 338.8Q216.6 342.2 216.4 343.8Q216.2 345.4 216.7 346.8Q217.3 348.1 218.5 349.3Q219.6 350.4 221 351.5Q222.3 352.5 223.5 353.7Q224.6 354.8 225.3 356.2Q226 357.5 226.2 359Q226.3 360.5 226.1 362.1Q225.9 363.6 225.5 365.1Q225 366.6 224.4 368Q223.8 369.5 223.3 370.9Q222.8 372.3 222.6 373.8Q222.4 375.3 222.8 376.8Q223.2 378.2 224.4 379.6Q225.5 381 227 382Q228.4 383.1 229.8 383.9Q231.1 384.7 231.9 385.5Q232.6 386.4 233 387.6Q233.3 388.9 233.7 390.5Q234 392.1 234.7 393.7Q235.4 395.3 236.5 396.4Q237.6 397.5 238.9 398.1Q240.3 398.7 241.8 398.9Q243.2 399.2 244.7 399.4Q246.2 399.6 247.7 400Q249.2 400.4 250.5 401.2Q251.9 401.9 253 403Q254.1 404.2 254.7 405.6Q255.3 407.1 255.4 408.7Q255.4 410.4 255 412.1Q254.6 413.7 254.1 415.3Q253.7 416.9 253.7 418.3Q253.7 419.7 254.5 421Q255.3 422.3 256.6 423.5Q258 424.6 259.5 425.7Q260.9 426.8 262.2 427.9Q263.5 429 264.6 430.2Q265.6 431.3 266.5 432.6Q267.3 433.9 267.8 435.4Q268.3 436.8 268.2 438.5Q268.1 440.1 265.9 442.6Q263.7 445.1 261 443.6Q258.3 442.1 257.6 440.9Q256.9 439.7 256.7 438.4Q256.5 437.1 256.5 435.6Q256.5 434.1 256.8 432.5Q257 430.9 257.5 429.3Q258 427.6 258.7 426Q259.4 424.3 260.1 422.7Q260.7 421 260.9 419.5Q261 418 260.3 416.6Q259.7 415.3 258.5 414Q257.3 412.8 256 411.8Q254.6 410.7 253.5 409.8Q252.4 408.8 251.6 407.7Q250.8 406.7 250.1 405.6Q249.5 404.4 248.8 403.1Q248.1 401.8 247.3 400.5Q246.5 399.2 245.6 397.9Q244.6 396.5 243.6 395.4Q242.5 394.3 241.3 393.6Q240 392.9 238.6 392.7Q237.1 392.5 235.4 392.6Q233.6 392.7 231.7 392.5Q229.7 392.4 228.1 391.6Q226.4 390.8 225.5 389.3Q224.6 387.8 224.7 386Q224.8 384.2 225.4 382.6Q226 380.9 226.6 379.4Q227.2 377.9 227.4 376.5Q227.6 375.2 227.4 373.8Q227.1 372.3 226.6 370.9Q226.1 369.5 225.5 368Q224.8 366.6 224.2 365.2Q223.6 363.9 223.1 362.5Q222.6 361.2 222.2 359.9Q221.9 358.5 221.9 357.1Q221.9 355.7 222.2 354.1Q222.5 352.5 222.9 350.8Q223.4 349.1 223.6 347.5Q223.9 346 223.5 344.6Q223.2 343.3 222.1 342.1Q221 341 219.6 339.9L218.1 338.8M164.6 312Q162.1 310 160.8 309.3Q159.5 308.7 158.1 308.4Q156.6 308.1 155.1 308.2Q153.6 308.2 152.1 308.7Q150.5 309.1 149.1 309.8Q147.6 310.4 146.2 311.1Q144.8 311.8 143.4 312.1Q142 312.5 140.5 312.1Q139.1 311.8 137.6 310.9Q136.2 309.9 134.8 308.7Q133.4 307.4 132 306.4Q130.6 305.5 129.2 305.2Q127.7 305 126.2 305.6Q124.7 306.1 123.2 307.3Q121.8 308.4 120.5 309.6Q119.3 310.9 118.3 312Q117.2 313.2 116.3 314.3Q115.4 315.4 114.6 316.4Q113.7 317.4 112.7 318.2Q111.7 319 110.3 319.6Q108.9 320.1 106 319.5Q103.2 318.9 103.8 316.2Q104.4 313.5 105.3 312.4Q106.3 311.4 107.7 310.6Q109 309.7 110.6 309.2Q112.1 308.7 113.8 308.5Q115.5 308.4 117.2 308.6Q118.9 308.8 120.4 309.4Q122 310 123.4 310.9Q124.8 311.8 126.1 312.3Q127.5 312.9 128.9 312.7Q130.3 312.6 131.8 311.8Q133.3 310.9 134.7 309.8Q136.2 308.7 137.6 307.7Q139 306.8 140.4 306.5Q141.9 306.1 143.3 306.4Q144.8 306.6 146.2 307.3Q147.7 307.9 149.1 308.7Q150.5 309.4 151.9 310.1Q153.2 310.8 154.5 311.3Q155.8 311.8 157.2 312.1Q158.5 312.5 160 312.5Q161.5 312.6 163 312.3L164.6 312M157.1 295.2Q155.5 292.7 154.7 291.6Q153.8 290.6 152.9 289.6Q151.9 288.7 151 287.8Q150 287 149 286.1Q147.9 285.2 146.9 284.1Q145.9 283.1 145 281.8Q144.1 280.5 143.7 279.1Q143.3 277.6 143.4 276.2Q143.6 274.7 144.2 273.3Q144.9 271.9 145.6 270.5Q146.3 269 146.8 267.5Q147.3 266 147.5 264.5Q147.7 262.9 147.6 261.3Q147.5 259.7 147.1 258.3Q146.7 256.8 146.1 255.5Q145.5 254.2 144.6 253.1Q143.7 252 141.1 251Q138.6 250 137.5 252.6Q136.5 255.2 136.7 256.6Q136.9 258.1 137.4 259.3Q137.9 260.5 138.6 261.5Q139.3 262.6 140.1 263.6Q140.9 264.6 141.7 265.7Q142.6 266.8 143.5 268Q144.4 269.2 145.3 270.5Q146.3 271.8 147 273.2Q147.8 274.5 148.1 275.8Q148.4 277 148.3 278.3Q148.1 279.6 147.9 281Q147.6 282.4 147.6 283.9Q147.6 285.4 148 286.8Q148.3 288.3 149.1 289.6Q149.8 290.8 150.8 291.8Q151.9 292.8 153.1 293.5Q154.3 294.2 155.7 294.7L157.1 295.2M186.5 292.1Q185.4 289.4 184.8 288.3Q184.1 287.1 183.5 286Q182.8 284.9 182.1 284Q181.3 283 180.5 282Q179.6 280.9 178.6 279.8Q177.7 278.6 176.9 277.2Q176.1 275.8 175.9 274.4Q175.6 272.9 176 271.5Q176.5 270.1 177.5 268.9Q178.5 267.6 179.8 266.4Q181 265.2 182 263.9Q182.9 262.7 183.3 261.4Q183.7 260.2 183.5 258.8Q183.2 257.5 182.7 256Q182.1 254.6 181.6 253.1Q181.1 251.7 181 250.2Q180.8 248.8 181 247.5Q181.2 246.2 181.6 244.9Q182 243.7 182.5 242.5Q183 241.3 183.6 239.9Q184.2 238.6 184.9 237Q185.5 235.4 185.7 233.6Q185.8 231.8 185.3 230.1Q184.8 228.3 183.8 226.9Q182.7 225.5 181.3 224.7Q179.8 223.9 176.6 224.6Q173.4 225.3 173.3 228.4Q173.1 231.5 173.6 232.4Q174.2 233.4 175 233.9Q175.8 234.5 176.8 235Q177.8 235.4 179.1 236.1Q180.3 236.7 181.6 237.7Q183 238.7 183.7 240Q184.5 241.4 184.8 242.8Q185.1 244.3 185 245.7Q185 247.1 184.5 248.4Q184.1 249.6 183.3 250.8Q182.4 252 181.4 253.1Q180.3 254.3 179.2 255.5Q178.1 256.7 177.5 258Q176.8 259.3 176.9 260.7Q176.9 262 177.6 263.5Q178.3 264.9 179.2 266.3Q180.2 267.8 180.9 269.2Q181.7 270.6 181.9 271.9Q182.1 273.1 181.7 274.4Q181.4 275.6 180.7 276.9Q180.1 278.2 179.6 279.6Q179.1 281.1 179 282.6Q178.9 284.2 179.4 285.6Q179.9 287 180.8 288.1Q181.6 289.3 182.8 290.1Q183.9 290.9 185.2 291.5L186.5 292.1M194.9 273.5Q194.2 270 193.4 268.4Q192.7 266.8 191.5 265.4Q190.3 264 188.8 263.1Q187.3 262.2 185.6 261.6Q183.9 261.1 182 260.8Q180 260.4 178.2 259.7Q176.4 259 175.1 257.8Q173.8 256.5 173.2 254.8Q172.6 253 172.4 251.1Q172.3 249.1 172.1 247.2Q171.9 245.3 171.3 243.6Q170.7 242 169.7 240.6Q168.6 239.3 167.4 238.2Q166.2 237.1 164.9 236Q163.7 234.9 162.3 233.7Q161 232.5 159.7 231Q158.5 229.5 157.6 227.7Q156.8 225.9 156.3 224Q155.9 222.2 155.8 220.4Q155.8 218.6 156.2 217.1Q156.5 215.5 158.6 213.3Q160.7 211 163.1 213.3Q165.6 215.6 165.9 217.4Q166.2 219.1 166 220.7Q165.8 222.3 165.3 223.8Q164.9 225.2 164.3 226.7Q163.7 228.3 163.2 230Q162.7 231.8 162.6 233.7Q162.6 235.5 163.1 237.3Q163.5 239 164.3 240.6Q165 242.2 166.1 243.5Q167.1 244.8 168.6 245.7Q170 246.7 171.8 247.5Q173.6 248.2 175.4 249Q177.1 249.8 178.5 250.7Q179.8 251.7 180.6 253.1Q181.4 254.4 181.8 256.2Q182.3 257.9 182.9 259.8Q183.4 261.7 184.3 263.3Q185.1 264.9 186.2 266.1Q187.3 267.2 188.5 268.2Q189.7 269.1 191 270.1Q192.4 271.1 193.6 272.3L194.9 273.5M213 273.6Q213.3 270.5 213.2 268.9Q213.2 267.3 212.9 265.8Q212.6 264.3 212 263Q211.5 261.6 210.6 260.3Q209.8 258.9 209 257.4Q208.2 256 207.8 254.2Q207.5 252.5 208 250.8Q208.5 249.1 209.9 247.8Q211.3 246.6 213 245.9Q214.8 245.3 216.5 245Q218.3 244.7 219.7 244.3Q221.2 243.9 222.4 243.2Q223.7 242.4 224.8 241.4Q225.9 240.3 226.9 239.1Q228 237.9 228.7 236.3Q229.4 234.7 230 233.1Q230.5 231.5 231 230Q231.4 228.6 232 227.3Q232.5 226 233.2 224.9Q233.9 223.7 235 222.8Q236 221.9 239.2 221.5Q242.3 221 243.2 224.2Q244.1 227.3 243.5 228.9Q242.9 230.5 241.8 231.8Q240.7 233 239.3 234Q237.9 235 236.2 235.7Q234.6 236.3 232.8 236.7Q231 237 229.3 237.1Q227.6 237.3 226.1 237.7Q224.6 238 223.1 238.4Q221.6 238.9 220.3 239.6Q218.9 240.3 217.8 241.6Q216.7 242.8 216.1 244.3Q215.4 245.9 215.1 247.4Q214.8 248.9 214.5 250.2Q214.3 251.4 213.6 252.5Q213 253.6 212.1 254.8Q211.2 256 210.3 257.5Q209.4 259 209 260.6Q208.6 262.3 208.8 263.8Q208.9 265.4 209.5 266.8Q210 268.2 210.8 269.5Q211.5 270.8 212.2 272.2L213 273.6M222.3 276.9Q224.3 274.9 225.3 274Q226.3 273.1 227.1 272.2Q227.9 271.4 228.5 270.4Q229.1 269.3 229.6 268.1Q230.2 266.8 231 265.3Q231.7 263.9 232.9 262.8Q234 261.6 235.4 261.2Q236.8 260.7 238.3 261Q239.8 261.4 241.3 262.2Q242.7 263 244.2 263.7Q245.7 264.4 247.2 264.5Q248.8 264.7 250.1 264Q251.4 263.4 252.4 262.2Q253.4 261 254.1 259.6Q254.8 258.1 255.4 256.8Q256 255.5 256.7 254.3Q257.4 253.2 258.2 252.2Q259.1 251.2 260.1 250.4Q261.1 249.6 262.3 248.9Q263.5 248.2 265.1 247.8Q266.7 247.4 268.4 246.8Q270 246.2 271.4 245.2Q272.8 244.2 273.8 242.7Q274.9 241.3 275.3 239.5Q275.8 237.7 275.3 235.9Q274.9 234 271.8 232.2Q268.7 230.3 266.2 232.2Q263.6 234.1 263.2 234.9Q262.8 235.6 262.8 236.5Q262.8 237.3 263.1 238.4Q263.3 239.4 263.5 240.8Q263.7 242.1 263.9 243.7Q264.1 245.4 264.1 247Q264.1 248.7 263.6 250.1Q263.1 251.4 262.4 252.5Q261.6 253.7 260.6 254.6Q259.6 255.5 258.4 256.2Q257.2 256.8 255.8 257.2Q254.4 257.6 253 257.8Q251.6 258 250.3 258.1Q249.1 258.3 248 258.7Q246.9 259.2 246 260.1Q245 261.1 243.9 262.4Q242.8 263.7 241.7 264.9Q240.6 266.2 239.4 267Q238.3 267.7 237.1 267.8Q236 267.9 234.6 267.5Q233.2 267.1 231.6 266.8Q230 266.5 228.4 266.8Q226.8 267 225.5 267.9Q224.2 268.7 223.5 270Q222.8 271.2 222.5 272.7Q222.3 274.1 222.3 275.5L222.3 276.9M247.4 288Q250.7 286.5 252.4 286Q254 285.5 255.4 284.9Q256.8 284.4 257.9 283.3Q259 282.3 260.1 280.7Q261.1 279.2 262.2 277.5Q263.3 275.7 264.6 274.4Q265.8 273.1 267.3 272.4Q268.8 271.8 270.5 271.7Q272.2 271.6 274 271.7Q275.9 271.9 277.7 271.8Q279.5 271.8 281.2 271.6Q282.9 271.3 284.4 270.9Q285.9 270.5 287.4 270Q288.9 269.5 290.4 268.8Q291.9 268.2 293.5 267.5Q295.1 266.7 296.8 266Q298.6 265.3 300.3 264.9Q302.1 264.6 303.7 264.9Q305.4 265.2 306.9 266.1Q308.4 267 310 268.2Q311.6 269.3 313.4 270Q315.2 270.8 317.2 271Q319.2 271.2 321.2 270.8Q323.2 270.4 324.9 269.5Q326.7 268.6 328 267.2Q329.3 265.8 329.5 262.4Q329.7 259 326.6 258.6Q323.4 258.1 322.1 258.7Q320.8 259.3 319.7 260.2Q318.7 261.1 317.7 262.1Q316.7 263.2 315.6 264.4Q314.4 265.6 313 266.8Q311.5 268 309.8 269.2Q308.1 270.5 306.3 271.1Q304.5 271.8 302.9 271.7Q301.2 271.6 299.7 270.9Q298.2 270.1 296.7 269.1Q295.1 268.2 293.4 267.5Q291.7 266.8 289.9 266.5Q288.2 266.3 286.4 266.6Q284.7 266.8 283.1 267.5Q281.5 268.1 280.1 269.2Q278.8 270.2 277.6 271.6Q276.4 272.9 275.3 274.4Q274.1 275.9 272.8 277.2Q271.5 278.5 269.9 279.1Q268.3 279.7 266.5 279.5Q264.7 279.4 262.7 278.9Q260.7 278.4 258.7 278.1Q256.7 277.9 254.9 278.4Q253.1 278.8 251.8 280.1Q250.4 281.3 249.5 282.9Q248.6 284.6 248 286.3L247.4 288M263 296.3Q266.3 295.4 267.9 294.8Q269.5 294.3 270.8 293.3Q272.1 292.3 272.9 290.8Q273.7 289.3 274 287.5Q274.3 285.6 274.4 283.7Q274.4 281.9 274.8 280.3Q275.1 278.7 276 277.4Q276.9 276.1 278.4 275.2Q279.9 274.2 281.6 273.6Q283.3 272.9 284.9 272.5Q286.5 272 288 271.7Q289.5 271.4 290.8 271.1Q292.2 270.8 293.6 270.5Q295 270.2 296.5 269.9Q298 269.6 299.7 269Q301.3 268.4 303.1 267.9Q304.8 267.4 306.5 267.2Q308.2 266.9 309.8 266.8Q311.4 266.8 312.9 267Q314.3 267.2 315.7 267.8Q317.1 268.5 318.8 271.3Q320.5 274 317.9 276Q315.3 277.9 313.7 278Q312 278.1 310.5 277.6Q308.9 277.2 307.5 276.4Q306 275.6 304.7 274.6Q303.4 273.6 302.1 272.4Q300.8 271.2 299.4 270Q298 268.9 296.4 268.3Q294.8 267.8 293.1 267.7Q291.4 267.6 289.8 268.1Q288.1 268.6 286.8 269.6Q285.5 270.5 284.6 271.9Q283.7 273.3 283.2 274.9Q282.7 276.4 282.3 277.9Q281.8 279.4 281 280.7Q280.1 282 278.7 283Q277.4 284 275.6 284.6Q273.9 285.3 272.3 285.9Q270.6 286.5 269.3 287.3Q268 288 267.1 289.2Q266.1 290.4 265.4 291.8Q264.6 293.3 263.8 294.8L263 296.3M262 314Q265.2 314.5 266.6 314.8Q268.1 315.1 269.2 315.1Q270.4 315.1 271.6 314.6Q272.7 314 274 313.1Q275.3 312.1 276.9 311.3Q278.5 310.4 280.1 310.2Q281.8 310 283.1 310.6Q284.5 311.3 285.5 312.5Q286.6 313.7 287.4 315.2Q288.2 316.6 289.1 317.9Q290 319.2 291.1 320.1Q292.2 321.1 293.5 321.6Q294.8 322.2 296.2 322.4Q297.7 322.6 299.2 322.5Q300.7 322.5 302.2 322.1Q303.8 321.6 305.3 321.2Q306.8 320.8 308.2 320.5Q309.6 320.2 311 320.1Q312.3 320 313.7 320.2Q315 320.3 316.3 320.9Q317.5 321.4 319.2 323.7Q320.8 326 318.6 327.8Q316.3 329.7 314.8 329.8Q313.4 329.9 312 329.6Q310.6 329.3 309.3 328.7Q307.9 328.1 306.7 327.2Q305.4 326.4 304.2 325.3Q303 324.3 301.9 323.1Q300.8 321.9 299.7 321Q298.6 320.1 297.5 319.3Q296.4 318.6 295.1 318Q293.9 317.5 292.5 317.2Q291.1 317 289.6 317Q288 317.1 286.4 317.3Q284.8 317.5 283.3 317.6Q281.8 317.6 280.7 317.2Q279.5 316.7 278.5 315.7Q277.6 314.6 276.5 313.2Q275.4 311.7 274 310.5Q272.6 309.2 270.9 308.7Q269.3 308.2 267.8 308.7Q266.3 309.1 265 310.2Q263.8 311.3 262.9 312.7L262 314M271.7 321.9Q274.7 322.6 276.1 323Q277.4 323.4 278.6 323.3Q279.9 323.2 281 322.5Q282.2 321.8 283.3 320.6Q284.5 319.4 285.5 318.1Q286.6 316.8 287.7 315.9Q288.7 315 289.9 314.7Q291 314.4 292.4 314.5Q293.7 314.6 295.2 314.9Q296.7 315.1 298.2 315.2Q299.7 315.3 301 315Q302.3 314.7 303.5 314.1Q304.6 313.5 305.6 312.7Q306.7 311.8 307.6 310.8Q308.6 309.7 309.3 308.4Q310 307.1 310.7 305.7Q311.3 304.4 311.9 303.2Q312.5 302 313.1 301Q313.6 299.9 314.2 298.9Q314.8 297.9 315.6 297.1Q316.3 296.3 317.4 295.6Q318.6 294.9 321.5 294.8Q324.4 294.7 324.9 297.6Q325.5 300.4 325 301.8Q324.5 303.2 323.6 304.3Q322.6 305.5 321.4 306.4Q320.2 307.3 318.9 307.9Q317.5 308.6 316 309Q314.5 309.3 313 309.4Q311.4 309.5 309.9 309.5Q308.4 309.4 307 309.6Q305.6 309.7 304.3 310Q303 310.3 301.9 310.9Q300.7 311.4 299.7 312.3Q298.6 313.1 297.8 314.3Q296.9 315.5 296 316.8Q295.1 318.1 294 319.2Q292.9 320.2 291.6 320.7Q290.3 321.2 288.8 320.9Q287.4 320.7 285.9 319.9Q284.4 319.1 283 318.3Q281.6 317.5 280.2 317.1Q278.7 316.8 277.4 317.2Q276.1 317.5 274.9 318.5Q273.7 319.5 272.7 320.7L271.7 321.9M261.3 342.5Q263.7 344.7 264.8 345.7Q265.9 346.7 267.2 347.2Q268.5 347.8 270 347.7Q271.6 347.6 273.2 347Q274.8 346.4 276.3 345.6Q277.8 344.8 279.1 344.2Q280.3 343.6 281.5 343.4Q282.7 343.1 283.9 343Q285.2 342.8 286.6 342.6Q288 342.4 289.4 341.9Q290.7 341.4 292 340.6Q293.3 339.9 294.3 338.9Q295.4 337.9 296.3 336.8Q297.1 335.7 297.8 334.4Q298.5 333.1 299 331.7Q299.6 330.3 300.3 328.9Q301 327.4 302 326.3Q303.1 325.1 304.5 324.5Q305.9 323.8 307.6 323.9Q309.2 323.9 310.9 324.4Q312.6 324.8 314.1 325.2Q315.6 325.7 317 326.1Q318.4 326.5 319.7 326.9Q321 327.2 322.3 327.5Q323.5 327.8 324.7 327.9Q325.9 328.1 327.2 327.9Q328.4 327.8 330.7 326.5Q333 325.1 331.4 322.6Q329.9 320.1 328.4 319.5Q326.8 318.8 325.2 318.7Q323.6 318.6 322.1 318.8Q320.5 319.1 319 319.6Q317.5 320.2 316.1 321Q314.8 321.8 313.5 322.8Q312.3 323.9 311.3 325.1Q310.2 326.4 309.3 327.5Q308.3 328.6 307.3 329.2Q306.2 329.9 304.9 330.2Q303.5 330.6 302 330.9Q300.5 331.2 299 331.8Q297.6 332.3 296.3 333Q295 333.8 294 334.8Q293 335.8 292.2 336.9Q291.4 338 290.7 339.2Q289.9 340.4 289.2 341.7Q288.4 343 287.4 344.3Q286.4 345.6 285.1 346.6Q283.8 347.6 282.2 348Q280.7 348.4 279.1 348Q277.6 347.7 276.3 346.7Q275 345.7 273.8 344.6Q272.7 343.4 271.5 342.6Q270.4 341.7 269 341.4Q267.6 341.1 266 341.3Q264.4 341.5 262.8 342L261.3 342.5M262.7 368.5Q264.1 371.6 264.7 372.9Q265.2 374.2 266 374.9Q266.8 375.7 268 376Q269.1 376.4 270.6 376.7Q272.1 377.1 273.6 377.8Q275 378.5 276 379.6Q277 380.7 277.3 382.1Q277.7 383.5 277.5 385Q277.3 386.4 276.9 387.8Q276.5 389.2 276.1 390.6Q275.7 392 275.5 393.4Q275.4 394.7 275.4 396Q275.5 397.4 275.9 398.7Q276.4 399.9 277.2 401.1Q278 402.2 279.3 403.2Q280.6 404.2 281.9 405.1Q283.3 406 284.5 407Q285.6 407.9 286.6 409Q287.6 410.1 288.3 411.3Q289.1 412.5 289.4 414Q289.8 415.4 289.5 417Q289.3 418.5 286.8 420.9Q284.3 423.3 281.4 421.9Q278.5 420.5 277.7 419.5Q277 418.6 276.7 417.4Q276.4 416.3 276.4 415.1Q276.4 413.8 276.5 412.4Q276.7 411 277 409.5Q277.4 408 277.9 406.5Q278.4 404.9 278.9 403.4Q279.4 401.9 279.5 400.5Q279.6 399.2 279.4 397.9Q279.3 396.6 278.9 395.4Q278.5 394.2 277.9 393Q277.2 391.8 276.5 390.6Q275.7 389.4 274.9 388.2Q274 387.1 273.4 386Q272.7 384.9 272.3 383.7Q272 382.6 272.1 381.3Q272.2 379.9 272.4 378.3Q272.7 376.7 272.7 374.9Q272.8 373.1 272.2 371.5Q271.6 369.9 270.4 369Q269.2 368.1 267.6 367.9Q266 367.8 264.3 368.2L262.7 368.5M240.7 371.7Q241.2 375.4 241.7 377Q242.3 378.5 243.5 379.6Q244.7 380.6 246.5 380.9Q248.3 381.3 250.2 381.2Q252.1 381 253.8 380.7Q255.5 380.3 256.8 380.1Q258.2 379.9 259.5 379.8Q260.7 379.7 262.1 379.7Q263.4 379.7 264.9 379.6Q266.3 379.5 267.9 379.2Q269.5 379 271 378.6Q272.6 378.2 274 377.6Q275.4 377 276.5 376.1Q277.5 375.2 278.4 373.9Q279.3 372.6 280.4 371.1Q281.4 369.6 282.9 368.5Q284.3 367.3 286.1 367Q287.8 366.7 289.5 367.5Q291.2 368.2 292.5 369.7Q293.8 371.1 294.8 372.7Q295.8 374.2 296.8 375.5Q297.8 376.7 299 377.4Q300.2 378.2 301.6 378.6Q303 379.1 304.6 379.4Q306.1 379.7 307.8 379.9Q309.5 380 311.3 380.2Q313.1 380.3 314.8 380.8Q316.5 381.2 318.1 382.1Q319.7 383 321.1 384.3Q322.4 385.6 323.3 387.4Q324.2 389.1 324.3 391.2Q324.4 393.2 322.1 396.1Q319.8 398.9 316.9 397.6Q314.1 396.4 313.3 395.6Q312.6 394.8 312.2 393.9Q311.7 393 311.4 391.8Q311.1 390.7 310.7 389.4Q310.3 388.1 309.9 386.6Q309.4 385 308.9 383.4Q308.3 381.7 307.6 380.2Q306.8 378.6 305.9 377.3Q304.9 376 303.8 374.9Q302.7 373.8 301.3 373.1Q300 372.4 298.3 372.3Q296.7 372.2 295 372.6Q293.2 373 291.7 373.6Q290.2 374.2 288.9 374.4Q287.7 374.7 286.5 374.4Q285.3 374 283.8 373.3Q282.3 372.6 280.5 372Q278.8 371.4 277 371.3Q275.2 371.3 273.8 372Q272.3 372.6 271.3 373.7Q270.2 374.8 269.4 376.1Q268.5 377.3 267.5 378.6Q266.6 379.9 265.3 381.1Q264.1 382.2 262.6 383Q261.1 383.8 259.4 384Q257.7 384.2 256.2 383.7Q254.6 383.1 253.4 381.9Q252.3 380.7 251.6 379.2Q250.9 377.7 250.2 376.3Q249.6 375 248.5 374Q247.5 373.1 246 372.6Q244.4 372.1 242.5 371.9L240.7 371.7M239.8 378.5Q238.6 382.2 238.7 384Q238.7 385.8 239.7 387.3Q240.8 388.8 242.6 389.7Q244.4 390.6 246.4 390.9Q248.4 391.2 250.1 391.2Q251.9 391.1 253.4 391.2Q254.9 391.2 256.3 391.5Q257.7 391.8 259.2 392.2Q260.6 392.7 262.1 393.4Q263.6 394 265.1 394.9Q266.6 395.7 268 396.7Q269.3 397.6 270.6 398.4Q271.9 399.1 273.3 399.5Q274.6 399.8 276.3 399.7Q278 399.6 279.8 399.6Q281.6 399.6 283.4 400Q285.1 400.3 286.8 401.1Q288.4 401.8 289.9 402.8Q291.3 403.8 292.4 405.2Q293.6 406.6 294.2 408.3Q294.8 410 293.9 413.1Q292.9 416.1 290.2 415.2Q287.5 414.3 286.5 413.4Q285.6 412.4 284.9 411.3Q284.2 410.1 283.6 408.8Q282.9 407.5 282.3 406Q281.7 404.6 281 403Q280.4 401.4 279.6 399.7Q278.8 397.9 277.8 396.4Q276.7 394.8 275.2 393.9Q273.6 393.1 271.9 393Q270.2 392.9 268.5 393.3Q266.8 393.7 265.2 394.2Q263.6 394.7 262 395.1Q260.4 395.5 258.7 395.6Q257 395.8 255.4 395.5Q253.7 395.2 252.2 394.4Q250.7 393.6 249.7 392.2Q248.7 390.8 248.2 389.2Q247.7 387.6 247.3 386.2Q247 384.8 246.4 383.7Q245.7 382.6 244.4 381.6Q243.1 380.5 241.5 379.5L239.8 378.5M212.7 387Q210.2 389.5 209.4 390.6Q208.6 391.7 208.4 392.9Q208.1 394.1 208.4 395.5Q208.7 397 209.1 398.5Q209.5 400 209.8 401.5Q210 403 209.9 404.4Q209.9 405.8 209.4 407Q209 408.3 208.2 409.5Q207.5 410.7 206.5 411.8Q205.6 412.8 204.5 413.8Q203.4 414.8 202.2 415.7Q201.1 416.6 200.2 417.6Q199.3 418.5 198.7 419.7Q198.2 420.8 198 422.3Q197.8 423.8 197.8 425.4Q197.7 427.1 197.5 428.7Q197.2 430.2 196.9 431.7Q196.6 433.2 196.3 434.5Q195.9 435.8 195.6 436.9Q195.2 438 194.8 438.9Q194.4 439.8 193.7 440.5Q193 441.2 190.5 442.5Q187.9 443.7 185.9 441.1Q183.8 438.5 183.8 436.7Q183.9 434.8 184.6 433.3Q185.4 431.8 186.4 430.6Q187.5 429.4 188.8 428.6Q190.1 427.7 191.5 427.1Q192.9 426.5 194.4 426.1Q195.9 425.6 197.5 425.2Q199.2 424.8 200.6 424.1Q202.1 423.4 203 422.4Q204 421.3 204.4 419.9Q204.9 418.5 205 417Q205.1 415.6 205 414.1Q205 412.6 205 411.2Q205 409.8 205.2 408.4Q205.4 407.1 205.8 405.8Q206.3 404.6 207 403.4Q207.8 402.2 208.9 401.2Q210 400.1 211.2 399.1Q212.4 398 213.4 396.9Q214.5 395.7 214.9 394.3Q215.3 392.9 215 391.4Q214.6 389.9 213.7 388.4L212.7 387M200.3 373.6Q197.6 376.3 196.8 377.9Q196 379.4 195.9 381.1Q195.8 382.7 196.1 384.4Q196.4 386.1 196.8 387.9Q197.2 389.6 197.5 391.3Q197.8 393 198 394.6Q198.2 396.3 198.2 397.9Q198.2 399.5 197.9 401.1Q197.7 402.7 197 404.3Q196.4 405.9 195.4 407.4Q194.4 409 193.4 410.5Q192.3 412 191.7 413.3Q191 414.6 190.8 416Q190.7 417.4 190.8 419.1Q190.9 420.8 190.7 422.8Q190.6 424.7 190 426.7Q189.4 428.6 188.5 430.3Q187.6 432 186.6 433.4Q185.5 434.8 184.5 435.9Q183.4 436.9 182.2 437.5Q181 438.1 177.7 438Q174.4 437.8 173.7 434.1Q173.1 430.3 174.1 428.6Q175.2 426.9 176.7 425.9Q178.1 424.9 179.7 424.3Q181.3 423.8 183 423.5Q184.7 423.3 186.5 423Q188.4 422.8 190.4 422.3Q192.4 421.8 194.2 420.7Q196 419.6 197.1 418Q198.2 416.4 198.3 414.6Q198.4 412.7 197.8 411Q197.1 409.2 196.3 407.5Q195.6 405.8 195 404.2Q194.5 402.5 194.4 400.9Q194.3 399.2 194.5 397.5Q194.8 395.9 195.4 394.3Q195.9 392.7 196.7 391.2Q197.5 389.6 198.4 388.2Q199.4 386.7 200.3 385.2Q201.1 383.7 201.6 382.1Q202 380.5 201.8 378.9Q201.6 377.2 201 375.4L200.3 373.6M184.5 364.7Q181.8 366.3 180.8 367.2Q179.9 368.2 179.3 369.4Q178.8 370.6 178.5 372Q178.3 373.4 178.2 374.9Q178.1 376.3 178.1 377.7Q178.1 379.1 178.1 380.4Q178 381.8 178 383Q177.9 384.2 177.8 385.4Q177.7 386.6 177.5 387.9Q177.3 389.2 177.1 390.7Q177 392.1 177.1 393.6Q177.2 395.1 177.8 396.5Q178.3 397.8 179.4 398.8Q180.5 399.7 182 400.3Q183.4 400.8 185 401.3Q186.6 401.7 188 402.4Q189.4 403 190.2 404.2Q191.1 405.4 191.3 406.9Q191.6 408.5 191.2 410.1Q190.9 411.7 190.3 413.2Q189.8 414.6 189.2 415.8Q188.7 417.1 188.4 418.3Q188.1 419.4 188 420.7Q187.8 421.9 187.7 423.2Q187.6 424.5 187.7 426Q187.8 427.5 188 429.2Q188.2 430.9 188.2 432.4Q188.2 434 188 435.4Q187.8 436.8 187.3 438Q186.8 439.2 185.8 440.1Q184.9 441.1 181.7 441.5Q178.5 442 177.1 439Q175.8 436.1 176.1 434.7Q176.4 433.3 177.2 432.2Q178 431.1 179.1 430.2Q180.2 429.3 181.6 428.6Q182.9 427.9 184.4 427.3Q186 426.6 187.2 425.8Q188.5 424.9 189.5 423.8Q190.4 422.7 191 421.4Q191.7 420.1 191.8 418.7Q192 417.2 191.7 415.8Q191.3 414.4 190.4 413.3Q189.5 412.1 188.5 411.1Q187.5 410.2 186.7 409.3Q185.9 408.5 185.4 407.3Q184.9 406.2 184.8 404.7Q184.6 403.3 184.5 401.6Q184.4 400 184.2 398.5Q184 397 183.4 395.9Q182.9 394.8 182 393.9Q181.1 393.1 180 392.3Q178.9 391.4 177.8 390.4Q176.7 389.3 176 388Q175.3 386.7 175.1 385.3Q174.8 383.9 175.1 382.5Q175.3 381.1 175.9 379.8Q176.5 378.6 177.4 377.5Q178.4 376.4 179.4 375.5Q180.5 374.6 181.5 373.6Q182.5 372.7 183.2 371.6Q184 370.5 184.3 369.1Q184.6 367.8 184.5 366.2L184.5 364.7M171.8 370.7Q168.2 371.9 166.8 372.6Q165.4 373.2 164.3 373.9Q163.1 374.7 161.9 375.5Q160.7 376.2 159.2 376.8Q157.7 377.4 156 377.6Q154.3 377.9 152.5 377.7Q150.8 377.6 149.1 377Q147.5 376.5 146.1 375.5Q144.8 374.5 143.6 373.1Q142.5 371.7 141.4 370.2Q140.3 368.6 138.9 367.3Q137.6 366 136 365.4Q134.3 364.8 132.5 365.1Q130.7 365.3 128.9 365.9Q127.1 366.6 125.2 367.4Q123.3 368.2 121.3 368.6Q119.4 369 117.5 369Q115.6 369 113.8 368.5Q112 367.9 110.7 366.8Q109.3 365.7 108.6 362.2Q108 358.7 111.3 357.3Q114.6 355.8 116.1 356.2Q117.6 356.6 118.8 357.5Q119.9 358.4 121 359.7Q122.1 360.9 123.3 362.4Q124.4 363.8 125.7 365.5Q126.9 367.1 128.3 368.5Q129.6 369.9 131 370.9Q132.3 371.9 133.8 372.2Q135.3 372.5 137.1 372.3Q138.8 372.1 140.7 371.8Q142.6 371.4 144.5 371.5Q146.3 371.5 147.8 371.9Q149.4 372.4 150.7 373.2Q152 374 153.4 374.9Q154.7 375.8 156.2 376.7Q157.7 377.5 159.5 378.1Q161.2 378.6 163.2 378.6Q165.1 378.6 166.9 377.9Q168.6 377.2 169.8 375.8Q170.9 374.4 171.4 372.5L171.8 370.7M152.9 359.8Q149.6 359.7 148.1 360.1Q146.6 360.6 145.4 361.5Q144.1 362.4 143.1 363.5Q142.1 364.7 141.2 366Q140.3 367.3 139.4 368.6Q138.6 369.9 137.6 371.1Q136.7 372.3 135.5 373.3Q134.3 374.3 132.9 374.8Q131.4 375.4 129.7 375.3Q128 375.3 126.3 374.6Q124.6 373.8 123.2 372.9Q121.8 372 120.6 371.2Q119.3 370.4 118.1 369.8Q116.9 369.2 115.6 368.8Q114.3 368.5 112.8 368.7Q111.3 369 108.8 371.4Q106.3 373.8 107.9 376.8Q109.6 379.7 111 380.4Q112.3 381.1 113.9 381.2Q115.5 381.3 117.2 381.1Q118.9 380.8 120.6 380.1Q122.3 379.3 123.8 378.2Q125.3 377.1 126.5 375.8Q127.7 374.5 128.8 373.4Q129.9 372.4 131 371.6Q132.2 370.9 133.4 370.3Q134.7 369.7 136.1 369.1Q137.5 368.6 139 368.1Q140.5 367.5 141.9 367Q143.3 366.5 144.7 366Q146.1 365.5 147.3 364.9Q148.6 364.2 149.7 363.3Q150.8 362.4 151.8 361.1L152.9 359.8M154.8 326.5Q151.8 325.9 150.4 326Q149 326.1 147.7 326.7Q146.4 327.2 145.2 328Q144 328.8 142.9 329.8Q141.8 330.8 140.8 331.8Q139.7 332.8 138.6 333.7Q137.4 334.7 136.2 335.3Q134.9 335.9 133.5 336.1Q132.1 336.2 130.6 335.9Q129.1 335.6 127.5 335.1Q125.9 334.6 124.2 334.4Q122.6 334.1 121.2 334.6Q119.7 335.2 118.7 336.4Q117.7 337.7 117.2 339.4Q116.7 341.2 116.4 342.9Q116.2 344.6 115.8 346Q115.4 347.4 114.7 348.5Q113.9 349.5 112.7 350.4Q111.6 351.2 110.2 351.9Q108.8 352.5 107.3 352.9Q105.7 353.4 104.2 353.6Q102.7 353.8 101.3 354Q99.9 354.1 98.6 354.3Q97.3 354.5 96.1 354.8Q94.8 355.1 93.7 355.6Q92.6 356.1 91.5 357.1Q90.5 358.1 89.6 361Q88.8 363.9 91.5 365.1Q94.2 366.4 95.7 366.3Q97.2 366.1 98.5 365.5Q99.8 364.9 101.1 364Q102.3 363 103.3 361.9Q104.4 360.7 105.2 359.3Q106.1 357.9 106.6 356.3Q107.2 354.8 107.6 353.3Q107.9 351.8 108.4 350.4Q108.8 349 109.3 347.7Q109.8 346.3 110.7 345.3Q111.6 344.2 113 343.5Q114.3 342.8 116 342.6Q117.6 342.3 119.2 342.2Q120.7 342.2 122 341.9Q123.2 341.7 124.2 340.9Q125.1 340.1 126 338.8Q126.9 337.5 127.8 336.1Q128.8 334.7 129.9 333.6Q131 332.5 132.2 331.9Q133.4 331.2 134.8 331Q136.1 330.8 137.5 330.9Q139 330.9 140.5 331Q141.9 331 143.4 331Q144.8 330.9 146.2 330.8Q147.6 330.6 148.8 330.2Q150.1 329.9 151.3 329.2Q152.5 328.5 153.6 327.5L154.8 326.5M208.1 326.4Q208.6 323.5 208.9 322.1Q209.2 320.8 209.4 319.6Q209.7 318.3 209.8 317Q209.9 315.7 209.7 314.2Q209.6 312.8 209.2 311.2Q208.9 309.7 208.4 308.2Q208 306.8 207.7 305.5Q207.4 304.3 207.6 303.2Q207.7 302.1 208.1 300.7Q208.5 299.4 208.7 297.7Q208.9 296 208.4 294.4Q207.9 292.7 206.7 291.6Q205.5 290.5 203.9 290Q202.4 289.6 200.7 289.6Q199.1 289.6 197.5 289.7Q195.8 289.8 194.1 289.8Q192.4 289.8 190.8 289.4Q189.1 289 187.7 288.2Q186.2 287.5 185 286.4Q183.8 285.3 183.1 283.8Q182.4 282.4 183.1 279.4Q183.7 276.3 186.7 276.5Q189.8 276.6 190.8 277.4Q191.9 278.1 192.5 279.1Q193.2 280.1 193.8 281.2Q194.3 282.4 194.9 283.8Q195.4 285.1 196.1 286.6Q196.7 288.2 197.5 289.6Q198.3 291.1 199.1 292.4Q199.9 293.7 200.7 294.8Q201.6 295.8 202.6 296.3Q203.7 296.8 205.2 297.2Q206.6 297.5 208.3 298.2Q210.1 298.8 211.5 300.1Q212.9 301.3 213.5 303Q214 304.6 213.7 306.2Q213.3 307.8 212.3 309.1Q211.3 310.4 210.2 311.5Q209.1 312.6 208.2 313.8Q207.2 315.1 206.7 316.5Q206.1 317.9 206 319.4Q205.9 320.9 206.3 322.4Q206.6 323.9 207.4 325.1L208.1 326.4M226.7 332.7Q228.1 330.1 228.8 328.8Q229.5 327.6 230.1 326.4Q230.6 325.2 231 323.9Q231.3 322.6 231.3 321.1Q231.4 319.6 231.2 317.9Q231.1 316.2 230.9 314.7Q230.7 313.2 230.7 312Q230.8 310.8 231.2 309.8Q231.7 308.8 232.3 307.5Q233 306.2 233.3 304.6Q233.6 302.9 233.1 301.3Q232.6 299.7 231.4 298.6Q230.2 297.5 228.7 297Q227.2 296.4 225.6 296.2Q224.1 295.9 222.5 295.7Q221 295.4 219.6 295Q218.2 294.6 216.9 294.1Q215.7 293.5 214.5 292.8Q213.3 292 212.3 291.1Q211.2 290.2 210.1 289.1Q209.1 287.9 207.9 286.6Q206.8 285.3 205.6 284.3Q204.4 283.2 203.3 282.4Q202.3 281.5 201.4 280.9Q200.5 280.3 199.7 280Q198.9 279.7 196.2 279.9Q193.6 280.2 193.3 283.6Q193 287.1 194.4 288.5Q195.8 290 197.5 290.6Q199.1 291.2 200.7 291.3Q202.3 291.3 203.9 290.9Q205.4 290.6 207 290Q208.6 289.5 210.2 289.2Q211.8 288.8 213.3 289.1Q214.8 289.3 216.1 289.9Q217.5 290.5 218.6 291.3Q219.8 292.2 220.7 293.3Q221.7 294.4 222.6 295.7Q223.4 296.9 224.2 298.2Q225 299.5 225.8 300.6Q226.5 301.7 227.5 302.5Q228.4 303.2 229.8 303.7Q231.1 304.3 232.7 305.1Q234.3 305.9 235.6 307.4Q236.9 308.9 237.3 310.7Q237.7 312.5 237.1 314Q236.4 315.6 235.1 316.6Q233.8 317.7 232.4 318.5Q230.9 319.3 229.6 320.3Q228.4 321.3 227.5 322.6Q226.7 323.8 226.3 325.3Q226 326.8 226 328.3Q226.1 329.8 226.4 331.2L226.7 332.7M226.9 340.1Q228.6 337.6 229.6 336.6Q230.5 335.6 231.3 334.6Q232.1 333.6 232.7 332.4Q233.3 331.2 233.5 329.7Q233.7 328.1 233.7 326.4Q233.7 324.7 233.8 323.1Q233.9 321.5 234.3 320.3Q234.8 319 235.8 318Q236.9 317.1 238.4 316.3Q240 315.5 241.5 314.9Q243.1 314.2 244.4 313.4Q245.7 312.6 246.5 311.6Q247.4 310.5 247.9 309.2Q248.5 307.9 248.8 306.4Q249.2 304.9 249.2 303.2Q249.3 301.6 248.9 300Q248.5 298.4 248 297.2Q247.5 295.9 247 294.9Q246.5 293.9 246.2 293Q245.9 292 245.9 290.9Q246 289.8 247.5 287.2Q249.1 284.7 252 286Q254.9 287.2 255.7 288.8Q256.5 290.3 256.7 292.1Q256.8 294 256.3 295.8Q255.7 297.6 254.7 299Q253.7 300.5 252.3 301.5Q250.9 302.5 249.5 303.3Q248.1 304.1 246.9 304.9Q245.6 305.7 244.4 306.6Q243.3 307.5 242.5 308.7Q241.7 309.9 241.4 311.4Q241.1 312.9 241.2 314.6Q241.3 316.3 241.5 318Q241.6 319.7 241.4 321.2Q241.1 322.6 240.2 323.8Q239.2 325 237.8 325.7Q236.4 326.5 234.8 327.1Q233.2 327.7 231.7 328.4Q230.3 329.1 229.2 330.1Q228.2 331.2 227.5 332.6Q226.9 334 226.7 335.6Q226.5 337.1 226.7 338.6L226.9 340.1M220.9 324.6Q219.5 322 218.5 320.9Q217.6 319.8 216.4 319Q215.2 318.2 213.8 317.7Q212.5 317.2 210.9 317.1Q209.4 316.9 207.9 317.2Q206.3 317.4 204.8 317.7Q203.4 318.1 202.1 318.3Q200.8 318.4 199.6 318.1Q198.4 317.8 197.1 317.1Q195.8 316.3 194.3 315.5Q192.9 314.7 191.3 314.1Q189.7 313.5 188.2 313.1Q186.7 312.7 185.3 312.5Q183.9 312.3 182.8 312.3Q181.6 312.3 180.6 312.6Q179.6 312.9 177.5 314.8Q175.5 316.7 177.4 319.4Q179.2 322.2 180.9 322.6Q182.7 323 184.2 322.7Q185.8 322.4 187.2 321.7Q188.5 321 189.7 320Q190.9 319.1 192 317.9Q193.2 316.7 194.4 315.5Q195.7 314.2 197.1 313.3Q198.6 312.4 200.2 312.2Q201.8 312 203.2 312.6Q204.6 313.1 205.9 314.2Q207.1 315.2 208.1 316.4Q209.1 317.5 210.2 318.6Q211.2 319.6 212.2 320.4Q213.3 321.2 214.5 321.8Q215.6 322.5 216.9 323Q218.1 323.6 219.5 324.1L220.9 324.6M206.7 336.3Q203.5 335.9 202.1 335.9Q200.8 335.9 199.6 336.2Q198.4 336.5 197.2 336.9Q196 337.3 194.6 337.7Q193.3 338 191.8 338.1Q190.4 338.2 188.9 338.1Q187.4 337.9 186 337.4Q184.7 336.9 183.5 336Q182.3 335.1 181.5 333.9Q180.6 332.6 180.1 331Q179.6 329.5 179.2 327.9Q178.8 326.3 178.4 324.9Q178 323.5 177.5 322.2Q177 321 176.3 319.9Q175.7 318.9 174.6 318Q173.6 317.2 170.6 316.9Q167.6 316.6 166.8 319.6Q166 322.6 166.6 324Q167.2 325.5 168.2 326.6Q169.2 327.7 170.6 328.6Q171.9 329.4 173.4 330Q174.9 330.5 176.6 330.8Q178.2 331.1 179.9 331.2Q181.5 331.4 182.9 331.8Q184.2 332.1 185.4 332.8Q186.6 333.4 187.6 334.2Q188.7 335 189.7 335.9Q190.8 336.8 192 337.6Q193.2 338.5 194.6 339.3Q196 340 197.6 340.4Q199.1 340.8 200.6 340.6Q202.2 340.5 203.5 339.7Q204.8 338.9 205.7 337.6L206.7 336.3M216 326.6Q213.4 324.9 212.1 324.4Q210.8 323.9 209.4 323.8Q208 323.6 206.5 323.9Q205 324.1 203.6 324.6Q202.1 325.2 200.8 325.9Q199.5 326.7 198.5 327.6Q197.4 328.5 196.4 329.4Q195.5 330.2 194.4 330.9Q193.4 331.5 192 332Q190.7 332.5 189.1 332.9Q187.5 333.4 185.9 334Q184.4 334.7 183.3 335.7Q182.1 336.8 181.7 338.3Q181.3 339.9 181.6 341.7Q181.9 343.4 182.6 345.1Q183.3 346.8 184.1 348.1Q185 349.5 185.9 350.6Q186.8 351.6 187.5 352.5Q188.3 353.4 188.9 354.4Q189.4 355.3 189.7 356.6Q189.9 357.9 188.6 360.7Q187.4 363.6 184.4 362.8Q181.5 362 180.5 360.7Q179.5 359.5 179 357.9Q178.5 356.3 178.5 354.5Q178.5 352.7 179 351Q179.5 349.3 180.5 347.8Q181.5 346.4 182.8 345.3Q184.1 344.3 185.3 343.4Q186.6 342.6 187.5 341.7Q188.3 340.7 188.7 339.4Q189.1 338.1 189.2 336.5Q189.3 334.9 189.5 333.2Q189.7 331.5 190.3 330Q190.9 328.5 192.1 327.4Q193.2 326.3 194.7 325.8Q196.1 325.2 197.7 325.1Q199.2 325 200.7 325.3Q202.1 325.6 203.5 326Q204.8 326.5 206.1 327Q207.4 327.5 208.8 327.8Q210.2 328.1 211.6 328Q213.1 327.9 214.6 327.2L216 326.6M206.2 330.7Q208.4 328.7 209.4 327.7Q210.4 326.7 211.2 325.4Q211.9 324.2 212.2 322.7Q212.4 321.2 212.1 319.7Q211.7 318.1 211.1 316.5Q210.5 314.9 210.2 313.3Q209.8 311.6 210.3 310.1Q210.8 308.5 212.1 307.4Q213.5 306.3 215.4 305.9Q217.3 305.5 219.1 305.8Q220.9 306 222.3 306.6Q223.7 307.2 225 307.8Q226.2 308.5 227.5 308.9Q228.8 309.3 230.2 309.3Q231.7 309.4 233.2 308.8Q234.8 308.2 236.4 305.4Q238 302.7 235.7 300.8Q233.5 299 232.3 298.8Q231.1 298.6 229.8 298.8Q228.5 299 227 299.5Q225.5 300 224 300.8Q222.5 301.7 221.2 302.9Q220 304.1 219.2 305.6Q218.5 307 218.2 308.3Q218 309.7 217.7 310.7Q217.4 311.8 216.6 312.7Q215.9 313.6 214.7 314.6Q213.5 315.7 212.1 316.7Q210.8 317.8 209.7 318.9Q208.6 319.9 208 321.1Q207.3 322.2 207 323.5Q206.6 324.8 206.5 326.3Q206.3 327.8 206.2 329.3L206.2 330.7M203.8 322.4Q205.2 319.7 206 318.6Q206.7 317.4 207.4 316.3Q208.1 315.3 208.5 314Q208.9 312.8 209 311.3Q209.1 309.7 209.2 308Q209.2 306.3 209.4 304.7Q209.6 303.1 210.1 301.9Q210.6 300.8 211.5 299.9Q212.5 299 213.8 298.1Q215 297.2 216.2 296Q217.4 294.8 218 293.3Q218.7 291.9 218.7 290.4Q218.6 288.9 218.2 287.5Q217.7 286 217 284.7Q216.3 283.3 215.6 281.9Q215 280.6 214.4 279.2Q213.9 277.8 213.6 276.5Q213.2 275.1 213.1 273.7Q213 272.3 213.2 270.9Q213.4 269.5 213.9 268Q214.3 266.4 214.6 264.7Q214.9 263 214.8 261.3Q214.7 259.6 214.2 258Q213.7 256.4 212.8 255Q212 253.7 210.8 252.8Q209.6 251.9 206.6 251.8Q203.6 251.6 202.9 254.7Q202.3 257.8 202.9 259.1Q203.5 260.4 204.4 261.3Q205.3 262.2 206.4 262.9Q207.4 263.6 208.7 264.3Q209.9 265.1 211.3 266Q212.7 266.9 213.9 268Q215.1 269.2 215.8 270.6Q216.5 271.9 216.8 273.3Q217 274.8 216.9 276.2Q216.8 277.6 216.5 279.1Q216.1 280.5 215.7 281.9Q215.2 283.4 214.8 284.8Q214.3 286.3 214 287.6Q213.7 289 213.8 290.3Q213.8 291.6 214.3 293Q214.8 294.4 215.5 296Q216.2 297.5 216.7 299.3Q217.2 301.1 217 302.8Q216.8 304.5 215.8 305.7Q214.9 306.9 213.4 307.6Q212 308.3 210.3 308.9Q208.7 309.4 207.2 310.2Q205.7 311 204.7 312.2Q203.7 313.4 203.2 314.9Q202.8 316.4 202.9 318Q203 319.5 203.4 321L203.8 322.4M213 324.2Q212.5 327.7 212.9 329.3Q213.4 330.9 214.6 332.1Q215.8 333.2 217.4 333.7Q219 334.2 220.7 334.4Q222.4 334.5 224 334.6Q225.5 334.8 226.9 335.1Q228.3 335.3 229.5 335.8Q230.8 336.2 232 336.7Q233.2 337.3 234.5 337.8Q235.7 338.3 237.2 338.8Q238.6 339.3 240.2 339.6Q241.7 339.8 243.3 339.7Q244.8 339.5 246.1 338.9Q247.4 338.2 248.5 337.1Q249.5 335.9 250.6 334.6Q251.7 333.3 253.1 332.3Q254.6 331.3 256.2 331Q257.9 330.8 259.5 331.6Q261 332.3 262.2 333.7Q263.4 335.1 264.2 336.6Q265.1 338.2 265.8 339.7Q266.5 341.2 267.2 342.5Q267.9 343.9 268.6 345.1Q269.3 346.2 270 347.1Q270.8 348.1 271.7 348.7Q272.7 349.3 275.5 349.5Q278.3 349.7 279.1 346.5Q279.9 343.3 279 341.7Q278.2 340.2 276.9 339.2Q275.6 338.2 274.1 337.6Q272.5 337 270.9 336.8Q269.3 336.6 267.6 336.6Q265.8 336.7 264.2 337Q262.5 337.2 261.1 337.6Q259.7 337.9 258.5 338Q257.3 338.1 256.2 337.6Q255 337.2 253.6 336.4Q252.3 335.6 250.6 334.9Q249 334.2 247.4 334Q245.7 333.7 244.4 334Q243.1 334.3 241.9 335.1Q240.8 335.8 239.6 336.7Q238.5 337.6 237.1 338.3Q235.7 339 234.2 339.4Q232.6 339.7 231.1 339.6Q229.6 339.5 228.2 339Q226.8 338.5 225.6 337.6Q224.4 336.6 223.5 335.4Q222.7 334.1 222 332.7Q221.3 331.3 220.7 330.1Q220.1 328.8 219.4 328Q218.6 327.1 217.4 326.5Q216.2 325.8 214.6 325L213 324.2M221.9 330.2Q221.6 333.7 221.8 335.3Q222 336.9 222.9 338.1Q223.7 339.3 225.1 340.1Q226.6 340.9 228.2 341.3Q229.9 341.8 231.5 342.3Q233 342.8 234.3 343.6Q235.5 344.4 236.4 345.6Q237.2 346.8 237.7 348.2Q238.3 349.7 238.5 351.2Q238.8 352.7 238.9 354.2Q239 355.8 239 357.2Q239.1 358.7 239.2 360Q239.4 361.4 239.9 362.7Q240.4 364 241.3 365.2Q242.3 366.4 243.7 367.4Q245.1 368.4 246.5 369.1Q247.9 369.8 249 370.5Q250.1 371.1 250.8 371.9Q251.4 372.7 252 373.9Q252.7 375.2 253.7 376.5Q254.6 377.8 256.1 378.8Q257.5 379.8 259.2 380.4Q260.9 380.9 262.6 381.1Q264.2 381.2 265.7 381Q267.2 380.9 268.4 380.3Q269.6 379.7 271.1 377.2Q272.7 374.8 270.3 372.6Q267.9 370.5 266.3 370.4Q264.7 370.4 263.5 370.8Q262.2 371.2 261.1 372Q260 372.7 258.9 373.5Q257.8 374.4 256.4 375.3Q255 376.2 253.3 376.8Q251.5 377.5 249.6 377.5Q247.7 377.5 246.1 376.6Q244.6 375.7 243.9 374.2Q243.1 372.6 243.2 370.9Q243.2 369.2 243.5 367.6Q243.8 366 243.9 364.5Q244 363 243.7 361.6Q243.4 360.2 242.8 358.9Q242.1 357.6 241.2 356.4Q240.3 355.2 239.3 354.1Q238.2 353 237.1 352.1Q236 351.2 234.9 350.3Q233.9 349.4 233 348.4Q232.1 347.3 231.5 346Q230.9 344.7 230.6 343.1Q230.3 341.4 230.2 339.8Q230 338.1 229.7 336.7Q229.4 335.3 228.6 334.2Q227.8 333.1 226.5 332.4Q225.2 331.6 223.6 330.9L221.9 330.2M219 340.3Q222 341.1 223.3 341.6Q224.7 342.2 225.8 342.5Q227 342.8 228.3 342.6Q229.7 342.4 231.2 341.8Q232.7 341.1 234.2 340.2Q235.8 339.4 237.1 338.7Q238.4 338 239.5 337.7Q240.6 337.4 241.8 337.6Q242.9 337.7 244.3 337.7Q245.7 337.8 247.2 337.3Q248.6 336.9 249.8 335.8Q250.9 334.8 251.5 333.3Q252.2 331.9 252.3 330.4Q252.4 328.8 252.2 327.3Q252 325.8 251.5 324.3Q250.9 322.8 250.3 321.3Q249.6 319.7 249.3 318.1Q249 316.4 249.2 314.8Q249.3 313.1 249.9 311.5Q250.5 310 251.7 308.8Q252.9 307.6 256.1 307.2Q259.3 306.9 260 309.8Q260.8 312.6 260.5 313.7Q260.1 314.9 259.5 315.8Q258.9 316.7 258 317.7Q257.1 318.6 256.1 319.7Q255.1 320.7 253.9 321.9Q252.8 323.1 251.8 324.4Q250.9 325.7 250.2 326.9Q249.6 328.2 249.1 329.4Q248.6 330.6 248.2 331.8Q247.8 332.9 247.6 334.3Q247.3 335.6 246.9 337.2Q246.4 338.8 245.5 340.4Q244.5 342 243.1 343.1Q241.6 344.2 239.9 344.3Q238.2 344.4 236.8 343.6Q235.3 342.8 234.1 341.6Q232.9 340.3 231.6 339.1Q230.4 337.9 229 337.3Q227.5 336.6 225.9 336.7Q224.3 336.8 222.9 337.6Q221.4 338.3 220.2 339.3L219 340.3M212.8 326.4Q215.4 328.4 216.6 329.3Q217.8 330.2 219.1 330.6Q220.4 331.1 222 330.8Q223.5 330.5 225.1 329.5Q226.6 328.5 227.9 327.3Q229.1 326 230 324.9Q230.8 323.8 231.6 323.2Q232.3 322.5 233.3 321.9Q234.3 321.4 235.4 320.6Q236.5 319.8 237.4 318.6Q238.3 317.4 238.7 316Q239.2 314.6 239.3 313.1Q239.3 311.6 239.1 310.2Q238.9 308.8 238.4 307.4Q238 306.1 237.3 304.7Q236.5 303.3 235.9 301.7Q235.2 300.1 234.9 298.4Q234.7 296.7 234.9 294.9Q235.2 293.2 236 291.6Q236.8 290.1 238.1 289Q239.5 287.8 242.7 287.9Q245.9 288 246.3 290.8Q246.7 293.7 246.3 294.8Q245.9 295.8 245.2 296.6Q244.5 297.4 243.6 298.3Q242.7 299.1 241.7 300Q240.6 301 239.5 302.2Q238.4 303.4 237.5 304.7Q236.7 306.1 236.3 307.6Q235.9 309 235.9 310.4Q235.8 311.7 236 313.1Q236.1 314.4 236.5 315.8Q236.8 317.1 237.1 318.7Q237.4 320.2 237.4 322Q237.4 323.8 236.7 325.4Q236 327.1 234.6 328.2Q233.1 329.2 231.4 329.3Q229.7 329.3 228.2 328.5Q226.6 327.7 225.4 326.7Q224.2 325.7 223 325Q221.7 324.3 220.3 324.2Q218.9 324.1 217.3 324.5Q215.7 325 214.3 325.7L212.8 326.4M222.9 340.4Q219.6 340 218.2 340.3Q216.8 340.5 215.5 341.2Q214.3 342 213.2 343.2Q212.2 344.3 211.4 345.8Q210.6 347.2 210.2 348.6Q209.8 350.1 209.7 351.4Q209.6 352.8 209.6 354Q209.7 355.3 209.6 356.4Q209.6 357.6 209.3 359Q209.1 360.4 208.7 362Q208.4 363.6 208.2 365.2Q208.1 366.9 208.3 368.3Q208.6 369.7 209.4 370.9Q210.3 372 211.6 372.9Q212.9 373.9 214.4 374.9Q215.9 375.8 217.1 376.9Q218.2 377.9 218.9 379.1Q219.6 380.2 219.9 381.5Q220.2 382.8 220.4 384.2Q220.6 385.6 221 387.2Q221.4 388.7 221.9 390.4Q222.5 392 223.3 393.4Q224.2 394.9 225.1 396.1Q226 397.3 227 398.1Q227.9 399 228.9 399.5Q229.9 400 232.7 399.9Q235.5 399.9 235.9 396.6Q236.4 393.3 235.3 391.8Q234.3 390.4 233 389.6Q231.6 388.7 230.2 388.4Q228.8 388 227.3 387.9Q225.8 387.8 224.2 387.6Q222.5 387.5 220.9 387.1Q219.3 386.6 217.9 385.8Q216.4 384.9 215.3 383.8Q214.2 382.6 213.7 381.2Q213.3 379.8 213.5 378.2Q213.7 376.6 214.3 374.9Q214.8 373.2 215.2 371.5Q215.5 369.8 215.3 368.4Q215.1 366.9 214.2 365.7Q213.3 364.6 212 363.6Q210.8 362.7 209.4 361.7Q208.1 360.6 207.2 359.3Q206.2 357.9 205.9 356.3Q205.7 354.7 206.1 353.1Q206.5 351.6 207.4 350.3Q208.4 349.1 209.6 348.2Q210.8 347.4 212.2 347Q213.5 346.5 214.8 346.2Q216.2 345.8 217.4 345.4Q218.7 344.9 219.9 344Q221 343 221.9 341.7L222.9 340.4M219 326.9Q222.1 326.5 223.6 326.1Q225.1 325.8 226.3 325.3Q227.6 324.7 228.5 323.8Q229.4 322.9 230.2 321.6Q231 320.4 232.2 319.1Q233.3 317.8 234.9 317.1Q236.4 316.4 238.1 316.6Q239.8 316.8 241.2 317.8Q242.5 318.9 243.5 320.4Q244.4 321.8 245 323.4Q245.6 325 246 326.6Q246.5 328.2 247 329.6Q247.6 331 248.3 332.2Q249.1 333.5 250.2 334.5Q251.3 335.6 252.7 336.2Q254.2 336.8 257.2 335.9Q260.3 335 259.9 332.1Q259.6 329.2 258.8 328.2Q258 327.2 256.9 326.5Q255.8 325.8 254.5 325.2Q253.2 324.7 251.7 324.2Q250.2 323.8 248.5 323.6Q246.8 323.3 245.2 323.3Q243.6 323.2 242.1 323.3Q240.7 323.4 239.5 323.4Q238.3 323.4 237.3 323Q236.3 322.6 235.1 321.8Q233.9 321 232.3 320.2Q230.7 319.4 228.9 319.1Q227.2 318.7 225.6 319.1Q224.1 319.5 223 320.5Q221.9 321.5 221.2 322.8Q220.5 324.1 219.8 325.5L219 326.9M210.6 324.5Q207.4 323.6 206.1 323.4Q204.8 323.1 203.6 323.2Q202.4 323.3 201.1 323.5Q199.7 323.8 198.3 324Q196.8 324.2 195.3 324.3Q193.8 324.5 192.4 324.5Q191 324.6 189.6 324.6Q188.3 324.5 187 324.4Q185.8 324.3 184.4 324Q183.1 323.7 181.5 323.4Q179.9 323.2 178.2 323.3Q176.5 323.5 175 324.2Q173.6 325 172.7 326.4Q171.9 327.9 171.7 329.6Q171.5 331.4 171.5 333.1Q171.6 334.9 171.4 336.5Q171.2 338.2 170.4 339.4Q169.6 340.7 168.3 341.5Q167 342.3 165.4 342.8Q163.8 343.3 162.1 343.5Q160.5 343.8 158.8 343.8Q157.1 343.8 155.6 343.8Q154.1 343.9 152.8 344Q151.4 344.2 150.1 344.6Q148.9 345.1 147.9 345.9Q146.8 346.7 145.8 349.5Q144.8 352.3 147.6 353.8Q150.4 355.3 151.9 355.1Q153.5 354.8 154.8 354Q156.1 353.3 157.2 352.1Q158.4 351 159.3 349.6Q160.2 348.2 160.8 346.7Q161.5 345.1 162.1 343.6Q162.6 342 163.1 340.6Q163.6 339.2 164.2 338Q164.8 336.7 165.7 335.8Q166.7 334.9 168.2 334.2Q169.7 333.6 171.4 333.1Q173.1 332.6 174.6 332.1Q176.1 331.6 177.1 330.9Q178.1 330.2 178.8 329.2Q179.4 328.1 180.1 326.7Q180.8 325.4 181.8 324.1Q182.9 322.8 184.3 321.9Q185.7 321.1 187.2 320.9Q188.8 320.7 190.2 321.1Q191.7 321.4 193 322.1Q194.3 322.8 195.5 323.7Q196.7 324.5 198 325.5Q199.3 326.4 200.7 327.1Q202.2 327.9 203.8 328Q205.4 328.2 206.9 327.6Q208.4 327 209.5 325.7L210.6 324.5M208.5 322.8Q211.7 322.6 213.3 322Q214.9 321.5 216 320.2Q217.2 319 217.5 317.4Q217.8 315.7 217.5 314Q217.2 312.2 216.6 310.6Q216.1 308.9 215.9 307.4Q215.6 305.9 215.9 304.6Q216.3 303.2 217.1 302.1Q217.9 300.9 219 299.8Q220.1 298.6 221.3 297.5Q222.5 296.5 223.8 295.4Q225 294.3 226.1 293.2Q227.2 292.2 228.1 291.1Q228.9 290.1 229.5 289.1Q230.2 288.1 230.4 287Q230.7 285.9 230 283.2Q229.3 280.4 226.1 280.7Q222.8 281 221.6 282.2Q220.4 283.5 219.9 285Q219.3 286.5 219.2 288Q219.1 289.6 219.3 291.1Q219.6 292.7 220 294.3Q220.5 295.9 221 297.4Q221.4 299 221.7 300.5Q222 302.1 222.1 303.5Q222.1 305 221.7 306.3Q221.2 307.7 220.1 308.8Q219.1 309.9 217.6 310.9Q216.2 311.8 214.8 312.6Q213.4 313.4 212.5 314.3Q211.6 315.1 211.1 316.1Q210.6 317.2 210.3 318.5Q209.9 319.9 209.2 321.3L208.5 322.8M204.7 324.4Q202.3 326.9 201.6 328.3Q200.9 329.7 200.8 331.1Q200.8 332.5 201.3 334Q201.8 335.5 202.4 336.9Q203 338.4 203.5 339.8Q204 341.3 204.3 342.7Q204.6 344.1 204.6 345.5Q204.7 346.8 204.6 348.2Q204.5 349.5 204.3 350.9Q204.1 352.4 203.9 353.9Q203.7 355.4 203.8 357Q203.9 358.6 204.4 360.1Q205 361.6 206.2 362.7Q207.4 363.7 209.1 364.2Q210.8 364.7 212.6 364.7Q214.4 364.7 216 364.8Q217.6 364.9 219 365.5Q220.3 366.1 221.2 367.3Q222.1 368.5 222.7 370.2Q223.2 371.8 223.5 373.5Q223.7 375.3 223.8 376.9Q223.8 378.6 223.8 380Q223.8 381.5 223.8 382.8Q223.9 384.1 224.1 385.3Q224.4 386.5 225.1 387.6Q225.8 388.7 228.5 390Q231.2 391.3 233 388.7Q234.8 386.1 234.7 384.5Q234.6 382.9 233.9 381.4Q233.2 379.9 232.1 378.7Q231 377.4 229.6 376.4Q228.2 375.4 226.6 374.8Q225 374.1 223.4 373.8Q221.7 373.4 220.2 373.2Q218.7 372.9 217.4 372.4Q216.1 371.9 215.1 370.8Q214.2 369.7 213.5 368.2Q212.9 366.6 212.5 364.9Q212 363.2 211.6 361.8Q211.2 360.4 210.5 359.3Q209.9 358.3 208.9 357.5Q207.9 356.6 206.7 355.7Q205.5 354.8 204.5 353.6Q203.4 352.5 202.7 351.1Q201.9 349.8 201.6 348.3Q201.2 346.9 201.3 345.4Q201.3 344 201.7 342.6Q202 341.2 202.7 339.8Q203.4 338.4 204.3 337.1Q205.1 335.8 205.8 334.4Q206.5 333.1 206.8 331.7Q207 330.4 206.6 328.9Q206.3 327.5 205.5 326L204.7 324.4" fill="none" stroke="#72c283" stroke-width="2.3" stroke-linecap="round"/></g><circle cx="371.5" cy="407" r="26.2" fill="#70bb70"/><circle cx="371.5" cy="407" r="22.7" fill="#a1dbab"/><ellipse cx="347.3" cy="395.5" rx="3.2" ry="5.2" transform="rotate(-62 347.3 395.5)" fill="#b4e3bb"/><path d="M354.8 402.5A17.3 17.3 0 0 0 372.1 424.3" stroke="#68b768" stroke-width="5" fill="none" stroke-linecap="round"/><path d="M361 396.1 363.1 394.1 365.4 392.6 367.9 391.6 370.5 391 373.2 390.8 375.8 391" stroke="#c0187c" stroke-width="5.00" fill="none" stroke-linecap="round" stroke-linejoin="round"/><path d="M375.8 391 378.2 391.6 380.5 392.7 382.5 394.2 384.2 396 385.5 398 386.5 400.1" stroke="#c0187c" stroke-width="5.00" fill="none" stroke-linecap="round" stroke-linejoin="round"/><path d="M386.5 400.1 387.1 402.3 387.4 404.4 387.4 406.6 387.1 408.7 386.4 410.7 385.3 412.6" stroke="#c0187c" stroke-width="5.00" fill="none" stroke-linecap="round" stroke-linejoin="round"/><path d="M385.3 412.6 384 414.2 382.5 415.5 380.8 416.5 379 417.3 377.1 417.7 375.2 417.9" stroke="#c81265" stroke-width="5.00" fill="none" stroke-linecap="round" stroke-linejoin="round"/><path d="M375.2 417.9 373.3 417.8 371.5 417.3 369.8 416.5 368.4 415.5 367.1 414.2 366.1 412.7" stroke="#d20b4a" stroke-width="5.00" fill="none" stroke-linecap="round" stroke-linejoin="round"/><path d="M366.1 412.7 365.4 411.2 364.9 409.6 364.7 408 364.7 406.3 365.1 404.8 365.8 403.4" stroke="#d80638" stroke-width="5.00" fill="none" stroke-linecap="round" stroke-linejoin="round"/><path d="M365.8 403.4 366.7 402.2 367.8 401.2 369.1 400.5 370.4 400 371.6 399.8 372.8 399.8" stroke="#d80638" stroke-width="4.68" fill="none" stroke-linecap="round" stroke-linejoin="round"/><path d="M372.8 399.8 374 399.8 375.1 400 376.1 400.2 377.1 400.7 378 401.3 378.7 402" stroke="#d80638" stroke-width="4.05" fill="none" stroke-linecap="round" stroke-linejoin="round"/><path d="M378.7 402 379.3 402.9 379.7 403.8 380 404.7 380.1 405.7 380.1 406.7 380 407.6" stroke="#d80638" stroke-width="4.00" fill="none" stroke-linecap="round" stroke-linejoin="round"/><path d="M380 407.6 379.7 408.5 379.3 409.3 378.7 410.1 378.1 410.7 377.3 411.2 376.5 411.6" stroke="#d80638" stroke-width="4.00" fill="none" stroke-linecap="round" stroke-linejoin="round"/><path d="M376.5 411.6 375.6 411.9 374.7 412 373.8 411.9 372.9 411.6 372.1 411.2 371.5 410.7" stroke="#d80638" stroke-width="4.00" fill="none" stroke-linecap="round" stroke-linejoin="round"/><path d="M371.5 410.7 370.9 410.1 370.5 409.4 370.1 408.6 369.9 407.9 369.9 407.1 369.9 406.3" stroke="#d80638" stroke-width="4.00" fill="none" stroke-linecap="round" stroke-linejoin="round"/><path d="M361.8 395.4L359.3 397.7" stroke="#2a0a2a" stroke-width="5.0" fill="none"/><g fill="none" stroke="#fff" stroke-opacity="0.6" stroke-width="9.2"><path d="M166 313 C172 287 193 265.5 253 263.8"/><path d="M168 336Q174 358 181 369.4Q188 380.8 196.5 386.9Q205 393 214.5 397.2Q224 401.5 237 405Q250 408.5 262.5 408.9Q275 409.3 285.5 407.9Q296 406.5 301.5 405L307 403.5"/><path d="M160 317 C125 309 97 330 95 362 C94 384 101 397 110 402"/></g><g fill="#fff" fill-opacity="0.66"><polygon points="252,254 268.8,263.2 254,273.5"/><polygon points="303.5,392.8 323.5,400 309.5,413"/><polygon points="104,410 121,407 113,393"/></g><rect x="174.4" y="315.5" width="102.9" height="18.5" fill="#1a84c8"/><path d="M177.4 315.5v18.5h1.8v-18.5zM181.4 315.5v18.5h1.8v-18.5zM186.6 315.5v18.5h1.8v-18.5zM191.8 315.5v18.5h2.4v-18.5zM197 315.5v18.5h3v-18.5zM202.2 315.5v18.5h3v-18.5zM208 315.5v18.5h2.4v-18.5zM214.4 315.5v18.5h3v-18.5zM220.8 315.5v18.5h3v-18.5zM227.8 315.5v18.5h3v-18.5zM234.2 315.5v18.5h1.8v-18.5zM238.2 315.5v18.5h2.4v-18.5zM244.6 315.5v18.5h2.4v-18.5zM251 315.5v18.5h2.4v-18.5zM256.2 315.5v18.5h3v-18.5zM262 315.5v18.5h1.8v-18.5zM266.6 315.5v18.5h1.8v-18.5zM271.2 315.5v18.5h2.4v-18.5z" fill="#0d62a6"/><rect x="161" y="315.5" width="13.4" height="18.5" fill="#d5053a"/><rect x="639.4" y="143" width="63.6" height="19" fill="#1a84c8"/><path d="M642.4 143v19h1.8v-19zM647 143v19h2.4v-19zM653.4 143v19h3v-19zM658.6 143v19h3v-19zM663.8 143v19h2.4v-19zM669.6 143v19h3v-19zM675.4 143v19h1.8v-19zM681.2 143v19h3v-19zM688.2 143v19h2.4v-19zM693.4 143v19h1.8v-19zM698 143v19h3v-19z" fill="#0d62a6"/><rect x="625.8" y="143" width="13.6" height="19" fill="#dd1f62"/><rect x="610.8" y="432" width="62.8" height="18.5" fill="#1e9fdc"/><path d="M613.8 432v18.5h1.8v-18.5zM619 432v18.5h1.8v-18.5zM624.8 432v18.5h2.4v-18.5zM630 432v18.5h1.8v-18.5zM634 432v18.5h1.8v-18.5zM639.8 432v18.5h3v-18.5zM646.2 432v18.5h1.8v-18.5zM650.8 432v18.5h3v-18.5zM657.2 432v18.5h2.4v-18.5zM662.4 432v18.5h1.8v-18.5zM667.6 432v18.5h1.8v-18.5z" fill="#0d6cae"/><rect x="595.8" y="432" width="15" height="18.5" fill="#a3197c"/><rect x="122.5" y="404" width="17.5" height="12" fill="#d5053a"/><text x="219.7" y="348" font-size="14.7" font-weight="bold" text-anchor="middle" fill="#14281e">Genomic island</text><g opacity="0.8"><g fill="none" stroke="#9da7b7" stroke-width="2.2" stroke-linejoin="round"><path d="M314 300L326 289.8L331 298.6L336.7 293.8L340.7 304.5"/><path d="M302 300L295.6 297L291.6 304L294 315.5"/><path d="M304 304L300 302.5L297.5 309L299.5 317"/></g><polygon points="299.6,285 313.3,285 315.5,305.5 304.5,307" fill="#9da7b7"/><polygon points="287.5,243.9 313.3,245.5 320.6,266.4 311.7,285.5 282.7,283.8 273,261.6" fill="#9da7b7"/></g><path d="M284.1 256.5 286.5 254.3 289.2 252.6 292.1 251.4 295.1 250.7 298.1 250.5 301.1 250.7" stroke="#c0187c" stroke-width="5.60" fill="none" stroke-linecap="round" stroke-linejoin="round"/><path d="M301.1 250.7 303.9 251.4 306.5 252.7 308.8 254.4 310.8 256.4 312.3 258.7 313.4 261.1" stroke="#c0187c" stroke-width="5.60" fill="none" stroke-linecap="round" stroke-linejoin="round"/><path d="M313.4 261.1 314.1 263.6 314.4 266.1 314.4 268.6 314 271.1 313.3 273.4 312.1 275.5" stroke="#c0187c" stroke-width="5.60" fill="none" stroke-linecap="round" stroke-linejoin="round"/><path d="M312.1 275.5 310.6 277.3 308.8 278.8 306.9 280 304.8 280.9 302.6 281.4 300.4 281.6" stroke="#c81265" stroke-width="5.60" fill="none" stroke-linecap="round" stroke-linejoin="round"/><path d="M300.4 281.6 298.3 281.5 296.2 280.9 294.2 280 292.5 278.8 291.1 277.3 290 275.7" stroke="#d20b4a" stroke-width="5.60" fill="none" stroke-linecap="round" stroke-linejoin="round"/><path d="M290 275.7 289.1 273.9 288.6 272 288.3 270.2 288.3 268.3 288.8 266.5 289.6 264.9" stroke="#d80638" stroke-width="5.60" fill="none" stroke-linecap="round" stroke-linejoin="round"/><path d="M289.6 264.9 290.7 263.5 292 262.4 293.4 261.6 294.9 261.1 296.3 260.8 297.7 260.7" stroke="#d80638" stroke-width="5.25" fill="none" stroke-linecap="round" stroke-linejoin="round"/><path d="M297.7 260.7 299 260.8 300.3 261 301.5 261.3 302.6 261.8 303.6 262.5 304.4 263.4" stroke="#d80638" stroke-width="4.54" fill="none" stroke-linecap="round" stroke-linejoin="round"/><path d="M304.4 263.4 305.1 264.3 305.6 265.4 305.9 266.5 306.1 267.6 306.1 268.7 306 269.8" stroke="#d80638" stroke-width="4.48" fill="none" stroke-linecap="round" stroke-linejoin="round"/><path d="M306 269.8 305.6 270.8 305.1 271.8 304.5 272.6 303.7 273.4 302.8 274 301.9 274.4" stroke="#d80638" stroke-width="4.48" fill="none" stroke-linecap="round" stroke-linejoin="round"/><path d="M301.9 274.4 300.9 274.7 299.8 274.8 298.8 274.7 297.8 274.4 296.9 273.9 296.1 273.3" stroke="#d80638" stroke-width="4.48" fill="none" stroke-linecap="round" stroke-linejoin="round"/><path d="M296.1 273.3 295.5 272.6 295 271.8 294.6 270.9 294.4 270.1 294.3 269.2 294.3 268.3" stroke="#d80638" stroke-width="4.48" fill="none" stroke-linecap="round" stroke-linejoin="round"/><path d="M284.9 255.8L282.4 258.2" stroke="#2a0a2a" stroke-width="5.6" fill="none"/><rect x="41" y="70.5" width="340" height="109.5" fill="#fff"/><path d="M79 174L161 315.5M368.4 176.5L173.2 315.6" stroke="#962a2a" stroke-width="1.3" fill="none"/><circle cx="82.5" cy="84.5" r="10.5" fill="#fff" stroke="#3a3a3a" stroke-width="1"/><text x="82.5" y="89.2" font-size="13" text-anchor="middle" fill="#222">B</text><text x="102.5" y="90.5" font-size="18.1" fill="#2a2a2a">Tycheposon structure</text><text x="79" y="109.5" font-size="11.8" fill="#2a2a2a">Hallmark genes</text><text x="191.5" y="109.5" font-size="11.7" fill="#2a2a2a">Cargo genes</text><text x="298" y="109.5" font-size="11.8" fill="#2a2a2a">Phage genes</text><path d="M79.5 122v-5.5h81.5v5.5M175.5 122v-5.5h98v5.5M291.5 122v-5.5h82v5.5" stroke="#777" stroke-width="1.1" fill="none"/><text x="117" y="132.5" font-size="10.7" fill="#c0308c">Replication</text><text x="74" y="142.5" font-size="10.8" fill="#c0308c">Recombinase</text><text x="181" y="128.5" font-size="10.3" fill="#cf3a90">Nutrient acquisition</text><text x="184.5" y="140" font-size="10.3" fill="#cf3a90">or phage defense</text><text x="299.5" y="128.5" font-size="10.4" fill="#d22a55">Capsid or DNA</text><text x="297" y="140" font-size="10.3" fill="#d22a55">packaging gene</text><text x="48" y="164" font-size="11.7" fill="#2a2a2a">tRNA</text><text x="275.5" y="151" font-size="12.5" fill="#2a2a2a">or</text><rect x="80.5" y="146" width="10.3" height="27.7" fill="#4c0f41"/><polygon points="95.2,146 115.8,146 127.3,159.8 115.8,173.7 95.2,173.7" fill="url(#g1)"/><polygon points="131.1,146 154.8,146 160.9,159.8 154.8,173.7 131.1,173.7" fill="url(#g2)"/><polygon points="176,146 198.3,146 204.6,159.8 198.3,173.7 176,173.7" fill="#d4147c"/><polygon points="205.4,146 218,146 224,159.8 218,173.7 205.4,173.7" fill="#d4147c"/><polygon points="225,146 247.2,146 254.3,159.8 247.2,173.7 225,173.7" fill="#d4147c"/><polygon points="269.3,146 261.7,146 254.5,159.8 261.7,173.7 269.3,173.7" fill="#d4147c"/><polygon points="366,146 306,146 298,159.8 306,173.7 366,173.7" fill="#d6003a"/><g fill="none" stroke="#9da7b7" stroke-width="2.2" stroke-linejoin="round"><path d="M410 230L404 223L400.5 232L396.9 225.5L393.5 240"/><path d="M425 230L430.7 222L435.3 231L438.7 223.5L446.3 238"/></g><polygon points="410,208 425.3,208 427,233.5 408,233.5" fill="#9da7b7"/><polygon points="415,162.5 439,174.5 440.3,200 417,212.3 393,201.5 392.2,177.6" fill="#9da7b7"/><path d="M401.8 180.3 404.2 178.1 406.9 176.4 409.8 175.2 412.8 174.5 415.8 174.3 418.8 174.5" stroke="#c0187c" stroke-width="5.50" fill="none" stroke-linecap="round" stroke-linejoin="round"/><path d="M418.8 174.5 421.6 175.2 424.2 176.5 426.5 178.2 428.5 180.2 430 182.5 431.1 184.9" stroke="#c0187c" stroke-width="5.50" fill="none" stroke-linecap="round" stroke-linejoin="round"/><path d="M431.1 184.9 431.8 187.4 432.1 189.9 432.1 192.4 431.7 194.9 431 197.2 429.8 199.3" stroke="#c0187c" stroke-width="5.50" fill="none" stroke-linecap="round" stroke-linejoin="round"/><path d="M429.8 199.3 428.3 201.1 426.5 202.6 424.6 203.8 422.5 204.7 420.3 205.2 418.1 205.4" stroke="#c81265" stroke-width="5.50" fill="none" stroke-linecap="round" stroke-linejoin="round"/><path d="M418.1 205.4 416 205.3 413.9 204.7 411.9 203.8 410.2 202.6 408.8 201.1 407.7 199.5" stroke="#d20b4a" stroke-width="5.50" fill="none" stroke-linecap="round" stroke-linejoin="round"/><path d="M407.7 199.5 406.8 197.7 406.3 195.8 406 194 406 192.1 406.5 190.3 407.3 188.7" stroke="#d80638" stroke-width="5.50" fill="none" stroke-linecap="round" stroke-linejoin="round"/><path d="M407.3 188.7 408.4 187.3 409.7 186.2 411.1 185.4 412.6 184.9 414 184.6 415.4 184.5" stroke="#d80638" stroke-width="5.15" fill="none" stroke-linecap="round" stroke-linejoin="round"/><path d="M415.4 184.5 416.7 184.6 418 184.8 419.2 185.1 420.3 185.6 421.3 186.3 422.1 187.2" stroke="#d80638" stroke-width="4.46" fill="none" stroke-linecap="round" stroke-linejoin="round"/><path d="M422.1 187.2 422.8 188.1 423.3 189.2 423.6 190.3 423.8 191.4 423.8 192.5 423.7 193.6" stroke="#d80638" stroke-width="4.40" fill="none" stroke-linecap="round" stroke-linejoin="round"/><path d="M423.7 193.6 423.3 194.6 422.8 195.6 422.2 196.4 421.4 197.2 420.5 197.8 419.6 198.2" stroke="#d80638" stroke-width="4.40" fill="none" stroke-linecap="round" stroke-linejoin="round"/><path d="M419.6 198.2 418.6 198.5 417.5 198.6 416.5 198.5 415.5 198.2 414.6 197.7 413.8 197.1" stroke="#d80638" stroke-width="4.40" fill="none" stroke-linecap="round" stroke-linejoin="round"/><path d="M413.8 197.1 413.2 196.4 412.7 195.6 412.3 194.7 412.1 193.9 412 193 412 192.1" stroke="#d80638" stroke-width="4.40" fill="none" stroke-linecap="round" stroke-linejoin="round"/><path d="M402.6 179.6L400.1 182" stroke="#2a0a2a" stroke-width="5.5" fill="none"/><g fill="none" stroke="#9da7b7" stroke-width="2.2" stroke-linejoin="round"><path d="M550.5 145L558 131.5L568.5 129L557.5 138L568 135.5"/><path d="M553.5 146.5L560.5 139L568.5 141.5"/><path d="M548.5 165L554.5 178L566 184L557.5 173L567 176.5"/><path d="M552 164L559 170L567.5 169"/></g><path d="M538 139L571 151L570 162L538 158Z" fill="#9da7b7"/><polygon points="512.2,123.2 537.5,127.9 546,148.5 531.5,171.9 504.7,169.8 494,144" fill="#9da7b7"/><path d="M503.5 144.5C510 138 518 134.5 524 135.5C533 137 537 147 547 151.5C558 156 574 157 589.5 157.8" stroke="url(#gd)" stroke-width="5.6" fill="none"/><path d="M501.3 146.8L504.6 143.4" stroke="#2a0a2a" stroke-width="5.6" fill="none"/><g opacity="0.88"><path d="M589 146.5C589 125 597 113.5 609 113.5C620 113.5 626 119 628 126" stroke="#74cbc9" stroke-width="11" fill="none"/><polygon points="615.5,128.5 639,119.5 634,139.5" fill="#74cbc9"/></g><g opacity="0.66"><path d="M545.5 417C555 402 572 395.5 583 401.5C589 405 593 411 596 416" stroke="#8ccdea" stroke-width="10" fill="none"/><polygon points="584.5,422 604.5,409.5 603.5,431.5" fill="#8ccdea"/></g><circle cx="524" cy="440.5" r="26" fill="#70bb70"/><circle cx="524" cy="440.5" r="22.6" fill="#a1dbab"/><path d="M507.3 436A17.3 17.3 0 0 0 524.6 457.8" stroke="#68b768" stroke-width="5" fill="none" stroke-linecap="round"/><path d="M512.6 428.8 514.7 426.8 517 425.3 519.5 424.3 522.1 423.7 524.8 423.5 527.4 423.7" stroke="#c0187c" stroke-width="5.00" fill="none" stroke-linecap="round" stroke-linejoin="round"/><path d="M527.4 423.7 529.8 424.3 532.1 425.4 534.1 426.9 535.8 428.7 537.1 430.7 538.1 432.8" stroke="#c0187c" stroke-width="5.00" fill="none" stroke-linecap="round" stroke-linejoin="round"/><path d="M538.1 432.8 538.7 435 539 437.1 539 439.3 538.7 441.4 538 443.4 536.9 445.3" stroke="#c0187c" stroke-width="5.00" fill="none" stroke-linecap="round" stroke-linejoin="round"/><path d="M536.9 445.3 535.6 446.9 534.1 448.2 532.4 449.2 530.6 450 528.7 450.4 526.8 450.6" stroke="#c81265" stroke-width="5.00" fill="none" stroke-linecap="round" stroke-linejoin="round"/><path d="M526.8 450.6 524.9 450.5 523.1 450 521.4 449.2 520 448.2 518.7 446.9 517.7 445.4" stroke="#d20b4a" stroke-width="5.00" fill="none" stroke-linecap="round" stroke-linejoin="round"/><path d="M517.7 445.4 517 443.9 516.5 442.3 516.3 440.7 516.3 439 516.7 437.5 517.4 436.1" stroke="#d80638" stroke-width="5.00" fill="none" stroke-linecap="round" stroke-linejoin="round"/><path d="M517.4 436.1 518.3 434.9 519.4 433.9 520.7 433.2 522 432.7 523.2 432.5 524.4 432.5" stroke="#d80638" stroke-width="4.68" fill="none" stroke-linecap="round" stroke-linejoin="round"/><path d="M524.4 432.5 525.6 432.5 526.7 432.7 527.7 432.9 528.7 433.4 529.6 434 530.3 434.7" stroke="#d80638" stroke-width="4.05" fill="none" stroke-linecap="round" stroke-linejoin="round"/><path d="M530.3 434.7 530.9 435.6 531.3 436.5 531.6 437.4 531.7 438.4 531.7 439.4 531.6 440.3" stroke="#d80638" stroke-width="4.00" fill="none" stroke-linecap="round" stroke-linejoin="round"/><path d="M531.6 440.3 531.3 441.2 530.9 442 530.3 442.8 529.7 443.4 528.9 443.9 528.1 444.3" stroke="#d80638" stroke-width="4.00" fill="none" stroke-linecap="round" stroke-linejoin="round"/><path d="M528.1 444.3 527.2 444.6 526.3 444.7 525.4 444.6 524.5 444.3 523.7 443.9 523.1 443.4" stroke="#d80638" stroke-width="4.00" fill="none" stroke-linecap="round" stroke-linejoin="round"/><path d="M523.1 443.4 522.5 442.8 522.1 442.1 521.7 441.3 521.5 440.6 521.5 439.8 521.5 439" stroke="#d80638" stroke-width="4.00" fill="none" stroke-linecap="round" stroke-linejoin="round"/><path d="M513.4 428.1L510.9 430.4" stroke="#2a0a2a" stroke-width="5.0" fill="none"/><circle cx="379.8" cy="486.6" r="21.7" fill="#6cb670"/><circle cx="379.8" cy="486.6" r="18.6" fill="#98d69d"/><path d="M387.3 476.7 389.4 478.9 390.8 481.5 391.6 484.2 391.7 487 391.1 489.7 390 492.1 388.3 494.1 386.3 495.6 384.1 496.6 381.7 497 379.4 496.8 377.3 496.2 375.4 495 373.9 493.5 372.8 491.8 372.2 489.9 372.1 488 372.4 486.1 373.1 484.5 374.2 483.1 375.5 482.1 376.9 481.5 378.4 481.2 379.9 481.3 381.2 481.7 382.4 482.4 383.2 483.3 383.8 484.3 384.1 485.4 384.2 486.5 383.9 487.4 383.5 488.3 382.9 488.9 382.2 489.3 381.5 489.5 380.8 489.6" stroke="#69b96c" stroke-width="4.5" fill="none" stroke-linecap="round"/><circle cx="462" cy="503.8" r="16.6" fill="#7fc184"/><circle cx="462" cy="503.8" r="14.2" fill="#9cd9a1"/><polygon points="339.2,235.4 369.8,218 372.5,222.8 380.6,206.7 362.6,205.4 365.3,210.2 334.8,227.6" fill="#a8dbf0"/><polygon points="451.6,180 476.3,170.5 478.3,175.7 488.8,161 471.2,157 473.1,162.1 448.4,171.5" fill="#a8dbf0"/><polygon points="407.8,421.6 463.1,435 461.9,439.9 480.8,434.2 466.7,420.5 465.5,425.3 410.2,411.8" fill="#a8dbf0"/><circle cx="219.5" cy="362" r="10.3" fill="#fff" stroke="#3a3a3a" stroke-width="1"/><text x="219.5" y="366.7" font-size="13" text-anchor="middle" fill="#222">A</text><circle cx="262.5" cy="285" r="10.3" fill="#fff" stroke="#3a3a3a" stroke-width="1"/><text x="262.5" y="289.7" font-size="13" text-anchor="middle" fill="#222">F</text><circle cx="336.3" cy="426.5" r="10.3" fill="#fff" stroke="#3a3a3a" stroke-width="1"/><text x="336.3" y="431.2" font-size="13" text-anchor="middle" fill="#222">G</text><circle cx="121.5" cy="436.5" r="10.3" fill="#fff" stroke="#3a3a3a" stroke-width="1"/><text x="121.5" y="441.2" font-size="13" text-anchor="middle" fill="#222">C</text><circle cx="462.5" cy="218.5" r="10.3" fill="#fff" stroke="#3a3a3a" stroke-width="1"/><text x="462.5" y="223.2" font-size="13" text-anchor="middle" fill="#222">D</text><circle cx="429.2" cy="370.2" r="10.3" fill="#fff" stroke="#3a3a3a" stroke-width="1"/><text x="429.2" y="374.9" font-size="13" text-anchor="middle" fill="#222">E</text><circle cx="645.4" cy="128.5" r="10.3" fill="#fff" stroke="#3a3a3a" stroke-width="1"/><text x="645.4" y="133.2" font-size="13" text-anchor="middle" fill="#222">H</text><circle cx="611.8" cy="418" r="10.3" fill="#fff" stroke="#3a3a3a" stroke-width="1"/><text x="611.8" y="422.7" font-size="13" text-anchor="middle" fill="#222">H</text><text x="478.5" y="225" font-size="15.6" font-weight="bold" fill="#4f2a7f">Phage</text><text x="478.5" y="241.7" font-size="15.6" font-weight="bold" fill="#4f2a7f">mediated</text><text x="443.9" y="374.3" font-size="15.9" font-weight="bold" fill="#4f2a7f">Vesicle</text><text x="443.9" y="391.7" font-size="15.9" font-weight="bold" fill="#4f2a7f">mediated</text><text x="526" y="304.5" font-size="19.7" text-anchor="middle" fill="#2a2a2a">Intercellular transfer</text><text x="525.5" y="322.8" font-size="16.5" text-anchor="middle" fill="#2a2a2a">(Horizontal gene transfer)</text><text x="13.6" y="495" font-size="19.15" fill="#2a2a2a">Intracellular transposition</text></g><text x="358.3" y="28.3" font-size="22.35" font-weight="bold" text-anchor="middle" fill="#1f2a2a">Proposed mechanisms of how tycheposons move within and</text><text x="357" y="54.8" font-size="22.35" font-weight="bold" text-anchor="middle" fill="#1f2a2a">between <tspan font-style="italic">Prochlorococcus</tspan> cells in the oceans</text><text x="714.5" y="555.5" font-size="9" font-weight="bold" text-anchor="end" letter-spacing="-0.62" fill="#111">Trends in Genetics</text></svg></body></html>
